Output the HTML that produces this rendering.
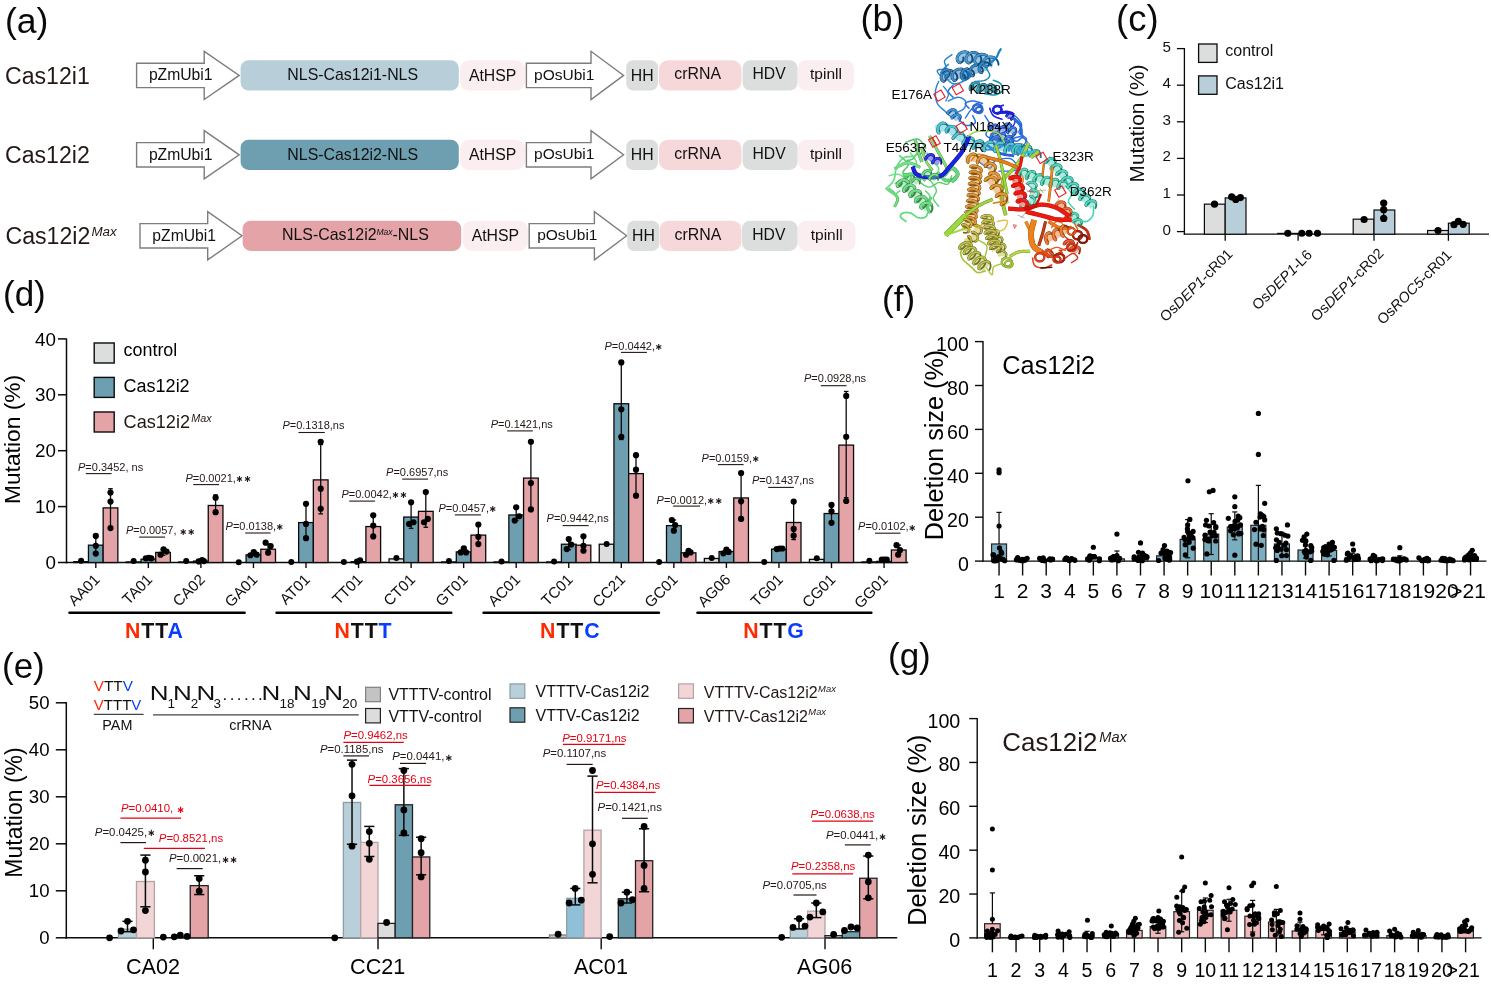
<!DOCTYPE html>
<html lang="en"><head><meta charset="utf-8"><title>Cas12i figure</title>
<style>
html,body{margin:0;padding:0;background:#fff;}
body{width:1491px;height:984px;overflow:hidden;}
svg{display:block;font-family:"Liberation Sans","DejaVu Sans",sans-serif;}
</style></head><body>
<svg width="1491" height="984" viewBox="0 0 1491 984">
<rect width="1491" height="984" fill="#fff"/>
<g id="labels">
<text x="5" y="33" font-size="35.5" fill="#0a0a0a" >(a)</text>
<text x="860.5" y="30.5" font-size="36" fill="#0a0a0a" >(b)</text>
<text x="1116" y="30.5" font-size="36.5" fill="#0a0a0a" >(c)</text>
<text x="3" y="306" font-size="35" fill="#0a0a0a" >(d)</text>
<text x="2" y="677.5" font-size="35" fill="#0a0a0a" >(e)</text>
<text x="882" y="311" font-size="35" fill="#0a0a0a" >(f)</text>
<text x="888" y="668" font-size="35" fill="#0a0a0a" >(g)</text>
</g>
<g id="panelA">
<text x="5" y="83.7" font-size="23.1" fill="#231815" >Cas12i1</text>
<polygon points="136.6,63.2 204.2,63.2 204.2,51.3 239.2,75.4 204.2,99.5 204.2,87.6 136.6,87.6" fill="#fff" stroke="#7d7d7d" stroke-width="1.4" stroke-linejoin="miter"/>
<text x="180.7" y="80.1" font-size="15.7" fill="#111" text-anchor="middle" >pZmUbi1</text>
<rect x="240.6" y="60.25" width="218.2" height="30.3" fill="#b8cfda" rx="8" />
<text x="352.7" y="80.2" font-size="15.9" fill="#111" text-anchor="middle" >NLS-Cas12i1-NLS</text>
<rect x="460" y="60.25" width="65.2" height="30.3" fill="#fbeef0" rx="9" />
<text x="492.6" y="80.7" font-size="15.8" fill="#111" text-anchor="middle" >AtHSP</text>
<polygon points="526.4,63.2 591,63.2 591,51.3 623.6,75.4 591,99.5 591,87.6 526.4,87.6" fill="#fff" stroke="#7d7d7d" stroke-width="1.4" stroke-linejoin="miter"/>
<text x="564.2" y="79.7" font-size="15.5" fill="#111" text-anchor="middle" >pOsUbi1</text>
<rect x="626.2" y="60.25" width="31.7" height="30.3" fill="#dcdedd" rx="7" />
<text x="642.25" y="80.7" font-size="15.8" fill="#111" text-anchor="middle" >HH</text>
<rect x="658.9" y="60.25" width="82.6" height="30.3" fill="#f6d8db" rx="9" />
<text x="697.6" y="79.1" font-size="15.9" fill="#111" text-anchor="middle" >crRNA</text>
<rect x="742.6" y="60.25" width="55" height="30.3" fill="#dcdedd" rx="8" />
<text x="769.1" y="79.2" font-size="15.7" fill="#111" text-anchor="middle" >HDV</text>
<rect x="798" y="60.25" width="56" height="30.3" fill="#fbeef0" rx="8" />
<text x="826" y="78.7" font-size="15.5" fill="#111" text-anchor="middle" >tpinll</text>
<text x="5" y="163.1" font-size="23.1" fill="#231815" >Cas12i2</text>
<polygon points="136.6,142.6 204.2,142.6 204.2,130.7 239.2,154.8 204.2,178.9 204.2,167 136.6,167" fill="#fff" stroke="#7d7d7d" stroke-width="1.4" stroke-linejoin="miter"/>
<text x="180.7" y="159.5" font-size="15.7" fill="#111" text-anchor="middle" >pZmUbi1</text>
<rect x="240.6" y="139.65" width="218.2" height="30.3" fill="#6e9fb1" rx="8" />
<text x="352.7" y="159.6" font-size="15.9" fill="#111" text-anchor="middle" >NLS-Cas12i2-NLS</text>
<rect x="460" y="139.65" width="65.2" height="30.3" fill="#fbeef0" rx="9" />
<text x="492.6" y="160.1" font-size="15.8" fill="#111" text-anchor="middle" >AtHSP</text>
<polygon points="526.4,142.6 591,142.6 591,130.7 623.6,154.8 591,178.9 591,167 526.4,167" fill="#fff" stroke="#7d7d7d" stroke-width="1.4" stroke-linejoin="miter"/>
<text x="564.2" y="159.1" font-size="15.5" fill="#111" text-anchor="middle" >pOsUbi1</text>
<rect x="626.2" y="139.65" width="31.7" height="30.3" fill="#dcdedd" rx="7" />
<text x="642.25" y="160.1" font-size="15.8" fill="#111" text-anchor="middle" >HH</text>
<rect x="658.9" y="139.65" width="82.6" height="30.3" fill="#f6d8db" rx="9" />
<text x="697.6" y="159.1" font-size="15.9" fill="#111" text-anchor="middle" >crRNA</text>
<rect x="742.6" y="139.65" width="55" height="30.3" fill="#dcdedd" rx="8" />
<text x="769.1" y="159.3" font-size="15.7" fill="#111" text-anchor="middle" >HDV</text>
<rect x="798" y="139.65" width="56" height="30.3" fill="#fbeef0" rx="8" />
<text x="826" y="158.7" font-size="15.5" fill="#111" text-anchor="middle" >tpinll</text>
<text x="5.5" y="244.1" font-size="23.1" fill="#231815">Cas12i2<tspan font-size="13.4" font-style="italic" dy="-8.0" dx="1.2">Max</tspan></text>
<polygon points="140,223.6 207.7,223.6 207.7,211.7 242,235.8 207.7,259.9 207.7,248 140,248" fill="#fff" stroke="#7d7d7d" stroke-width="1.4" stroke-linejoin="miter"/>
<text x="184.15" y="240.5" font-size="15.7" fill="#111" text-anchor="middle" >pZmUbi1</text>
<rect x="242.6" y="220.65" width="218.6" height="30.3" fill="#e4a3a6" rx="8" />
<text x="355.4" y="240.3" font-size="15.9" fill="#111" text-anchor="middle">NLS-Cas12i2<tspan font-size="8.5" font-style="italic" dy="-5">Max</tspan><tspan dy="5">-NLS</tspan></text>
<rect x="462.8" y="220.65" width="65.2" height="30.3" fill="#fbeef0" rx="9" />
<text x="495.4" y="241.1" font-size="15.8" fill="#111" text-anchor="middle" >AtHSP</text>
<polygon points="529.2,223.6 594.4,223.6 594.4,211.7 626.6,235.8 594.4,259.9 594.4,248 529.2,248" fill="#fff" stroke="#7d7d7d" stroke-width="1.4" stroke-linejoin="miter"/>
<text x="567.3" y="240.1" font-size="15.5" fill="#111" text-anchor="middle" >pOsUbi1</text>
<rect x="627.2" y="220.65" width="32" height="30.3" fill="#dcdedd" rx="7" />
<text x="643.4" y="241.1" font-size="15.8" fill="#111" text-anchor="middle" >HH</text>
<rect x="659.6" y="220.65" width="81.9" height="30.3" fill="#f6d8db" rx="9" />
<text x="697.95" y="240.1" font-size="15.9" fill="#111" text-anchor="middle" >crRNA</text>
<rect x="742" y="220.65" width="55.6" height="30.3" fill="#dcdedd" rx="8" />
<text x="768.8" y="240.3" font-size="15.7" fill="#111" text-anchor="middle" >HDV</text>
<rect x="798" y="220.65" width="57.4" height="30.3" fill="#fbeef0" rx="8" />
<text x="826.7" y="239.7" font-size="15.5" fill="#111" text-anchor="middle" >tpinll</text>
</g>
<g id="panelB" fill="none" stroke-linecap="round" stroke-linejoin="round">
<path d="M951.95 54.63 L951.33 55.1 L950.44 55.7 L949.37 56.42 L948.22 57.23 L947.07 58.09 L946.03 58.98 L945.19 59.87 L944.63 60.73 L944.44 61.62 L944.57 62.59 L944.89 63.6 L945.32 64.62 L945.74 65.61 L946.03 66.53 L946.11 67.36 L945.85 68.05 L945.17 68.56 L944.12 68.92 L942.83 69.16 L941.43 69.34 L940.05 69.52 L938.82 69.74 L937.87 70.04 L937.32 70.49 L937.22 71.12 L937.46 71.9 L937.96 72.77 L938.61 73.69 L939.34 74.58 L940.03 75.4 L940.61 76.09 L940.98 76.59" stroke="#1e80c8" stroke-width="1.35"/>
<path d="M938.54 81.46 L938.27 82.2 L937.87 83.16 L937.4 84.3 L936.9 85.58 L936.41 86.95 L935.98 88.38 L935.66 89.82 L935.49 91.22 L935.44 92.65 L935.44 94.18 L935.52 95.77 L935.68 97.39 L935.93 99 L936.27 100.57 L936.73 102.05 L937.32 103.41 L938.08 104.67 L939.04 105.86 L940.13 106.99 L941.32 108.06 L942.54 109.09 L943.73 110.07 L944.86 111.03 L945.85 111.95 L946.77 112.87 L947.69 113.79 L948.59 114.68 L949.44 115.53 L950.22 116.32 L950.91 117.01 L951.5 117.6 L951.95 118.05" stroke="#2c82d8" stroke-width="1.45"/>
<path d="M948.29 100.98 L949.06 100.64 L950.1 100.15 L951.34 99.55 L952.71 98.92 L954.14 98.31 L955.55 97.8 L956.88 97.45 L958.05 97.32 L959.14 97.4 L960.25 97.63 L961.35 97.99 L962.39 98.46 L963.35 99.01 L964.19 99.63 L964.88 100.29 L965.37 100.98 L965.67 101.73 L965.83 102.6 L965.86 103.56 L965.75 104.56 L965.51 105.57 L965.17 106.55 L964.71 107.47 L964.15 108.29 L963.37 109.05 L962.33 109.8 L961.11 110.51 L959.8 111.19 L958.51 111.81 L957.32 112.35 L956.32 112.81 L955.61 113.17" stroke="#2c82d8" stroke-width="1.45"/>
<path d="M943.41 86.34 L943.84 86.91 L944.46 87.66 L945.21 88.55 L946.01 89.54 L946.78 90.59 L947.47 91.66 L948 92.69 L948.29 93.66 L948.32 94.62 L948.14 95.66 L947.81 96.72 L947.38 97.77 L946.91 98.77 L946.46 99.66 L946.09 100.41 L945.85 100.98" stroke="#2c82d8" stroke-width="1.35"/>
<path d="M965.37 118.05 L965.73 117.48 L966.19 116.73 L966.73 115.84 L967.35 114.85 L968.02 113.8 L968.74 112.73 L969.48 111.7 L970.24 110.73 L971.09 109.77 L972.07 108.73 L973.13 107.67 L974.21 106.62 L975.25 105.62 L976.19 104.73 L976.98 103.98 L977.56 103.41" stroke="#2b6fe4" stroke-width="1.35"/>
<path d="M1001.95 113.17 L1002.81 113.21 L1003.98 113.19 L1005.37 113.16 L1006.91 113.17 L1008.51 113.25 L1010.1 113.46 L1011.6 113.82 L1012.93 114.39 L1014.19 115.21 L1015.49 116.26 L1016.79 117.48 L1018.03 118.81 L1019.17 120.2 L1020.16 121.59 L1020.94 122.93 L1021.46 124.15 L1021.62 125.29 L1021.4 126.42 L1020.92 127.54 L1020.32 128.64 L1019.71 129.71 L1019.21 130.75 L1018.94 131.74 L1019.02 132.68 L1019.55 133.55 L1020.42 134.35 L1021.54 135.09 L1022.76 135.81 L1023.97 136.51 L1025.06 137.23 L1025.89 137.98 L1026.34 138.78 L1026.44 139.66 L1026.31 140.61 L1025.99 141.6 L1025.5 142.59 L1024.89 143.57 L1024.2 144.5 L1023.45 145.35 L1022.68 146.1 L1021.79 146.75 L1020.69 147.36 L1019.46 147.9 L1018.19 148.38 L1016.94 148.81 L1015.79 149.18 L1014.84 149.5 L1014.15 149.76" stroke="#2b6fe4" stroke-width="1.45"/>
<path d="M1008.05 118.05 L1008.69 118.09 L1009.62 118.1 L1010.74 118.1 L1011.94 118.13 L1013.1 118.22 L1014.14 118.42 L1014.93 118.76 L1015.37 119.27 L1015.47 120.01 L1015.34 120.97 L1015.01 122.09 L1014.53 123.31 L1013.92 124.55 L1013.22 125.76 L1012.47 126.86 L1011.71 127.8 L1010.82 128.62 L1009.72 129.4 L1008.49 130.12 L1007.21 130.78 L1005.96 131.37 L1004.82 131.89 L1003.86 132.33 L1003.17 132.68" stroke="#1a22e6" stroke-width="1.45"/>
<path d="M984.88 115.61 L985.31 116.36 L985.95 117.36 L986.73 118.55 L987.55 119.88 L988.34 121.28 L989.02 122.7 L989.52 124.08 L989.76 125.37 L989.62 126.62 L989.13 127.92 L988.42 129.24 L987.62 130.55 L986.86 131.82 L986.27 133.03 L985.97 134.14 L986.1 135.12 L986.74 136 L987.82 136.8 L989.2 137.52 L990.75 138.17 L992.32 138.74 L993.79 139.24 L995.01 139.66 L995.85 140" stroke="#2b6fe4" stroke-width="1.45"/>
<path d="M979.05 162 L979.9 162.56 L981.07 163.42 L982.47 164.44 L984 165.52 L985.58 166.55 L987.12 167.39 L988.53 167.95 L989.71 168.1 L990.63 167.76 L991.35 167.01 L991.93 165.97 L992.48 164.76 L993.06 163.49 L993.75 162.27 L994.64 161.23 L995.81 160.48 L997.34 159.91 L999.19 159.38 L1001.26 158.92 L1003.43 158.57 L1005.6 158.36 L1007.67 158.33 L1009.52 158.52 L1011.05 158.95 L1012.41 159.76 L1013.79 160.98 L1015.07 162.46 L1016.19 164.1 L1017.04 165.75 L1017.55 167.31 L1017.61 168.64 L1017.14 169.62 L1015.9 170.26 L1013.86 170.68 L1011.27 170.93 L1008.38 171.05 L1005.45 171.08 L1002.71 171.08 L1000.43 171.09 L998.86 171.14" stroke="#2b6fe4" stroke-width="1.35"/>
<path d="M985.14 149.81 L986.21 149.74 L987.64 149.71 L989.35 149.68 L991.24 149.62 L993.22 149.48 L995.21 149.24 L997.12 148.85 L998.86 148.29 L1000.45 147.47 L1002.01 146.39 L1003.54 145.15 L1005.05 143.81 L1006.54 142.46 L1008.04 141.18 L1009.53 140.05 L1011.05 139.14 L1012.65 138.45 L1014.38 137.88 L1016.15 137.42 L1017.9 137.05 L1019.56 136.75 L1021.05 136.5 L1022.3 136.29 L1023.24 136.1" stroke="#2b6fe4" stroke-width="1.55"/>
<path d="M958.05 57.07 L959.14 57.13 L960.56 57.18 L962.23 57.23 L964.11 57.3 L966.13 57.38 L968.23 57.48 L970.37 57.62 L972.47 57.8 L974.48 58.02 L976.34 58.29 L978.18 58.65 L980.11 59.11 L982.09 59.64 L984.08 60.21 L986.02 60.81 L987.87 61.4 L989.59 61.95 L991.11 62.45 L992.4 62.86 L993.41 63.17" stroke="#1e80c8" stroke-width="9.52" opacity="0.45" stroke-linecap="butt"/>
<path d="M963.36 57.35 L963.41 59.49 L962.79 61.22 L961.59 62.39 L960.1 62.77 L958.67 62.3" stroke="#124f7c" stroke-width="1.9"/>
<path d="M965.04 51.73 L967.62 52.26 L969.86 53.56 L971.52 55.5 L972.38 57.69 L972.44 59.84 L971.76 61.62 L970.46 62.81 L968.97 63.14 L967.52 62.62" stroke="#124f7c" stroke-width="1.9"/>
<path d="M974.43 52.38 L976.97 53.09 L979.24 54.72 L980.67 56.77 L981.32 59.03 L981.02 61.4 L980.09 63.07 L978.72 64.03 L976.98 64.13 L975.65 63.37" stroke="#124f7c" stroke-width="1.9"/>
<path d="M984.2 54.42 L986.58 55.55 L988.44 57.35 L989.6 59.66 L989.9 61.99 L989.42 64.09 L988.33 65.65 L986.8 66.48 L985.27 66.45" stroke="#124f7c" stroke-width="1.9"/>
<path d="M992.97 57.17 L995.32 58.37 L997.13 60.22 L998.2 62.38 L998.51 64.72" stroke="#124f7c" stroke-width="1.9"/>
<path d="M960.1 62.77 L958.67 62.3 L957.55 61.05 L957.01 59.21 L957.24 57.07 L958.28 54.96 L960.06 53.2 L962.42 52.05 L965.04 51.73 L967.62 52.26" stroke="#0f4065" stroke-width="2.8"/>
<path d="M960.1 62.77 L958.67 62.3 L957.55 61.05 L957.01 59.21 L957.24 57.07 L958.28 54.96 L960.06 53.2 L962.42 52.05 L965.04 51.73 L967.62 52.26" stroke="#4b99d3" stroke-width="2"/>
<path d="M968.97 63.14 L967.52 62.62 L966.37 61.26 L965.94 59.4 L966.27 57.28 L967.42 55.22 L969.39 53.47 L971.8 52.52 L974.43 52.38 L976.97 53.09" stroke="#0f4065" stroke-width="2.8"/>
<path d="M968.97 63.14 L967.52 62.62 L966.37 61.26 L965.94 59.4 L966.27 57.28 L967.42 55.22 L969.39 53.47 L971.8 52.52 L974.43 52.38 L976.97 53.09" stroke="#4b99d3" stroke-width="2"/>
<path d="M976.98 64.13 L975.65 63.37 L974.8 61.92 L974.64 60.02 L975.33 57.84 L976.81 56.02 L978.94 54.7 L981.58 54.11 L984.2 54.42 L986.58 55.55" stroke="#0f4065" stroke-width="2.8"/>
<path d="M976.98 64.13 L975.65 63.37 L974.8 61.92 L974.64 60.02 L975.33 57.84 L976.81 56.02 L978.94 54.7 L981.58 54.11 L984.2 54.42 L986.58 55.55" stroke="#4b99d3" stroke-width="2"/>
<path d="M986.8 66.48 L985.27 66.45 L984 65.59 L983.24 64.06 L983.24 62.15 L984.05 60.16 L985.64 58.41 L987.84 57.22 L990.39 56.77 L992.97 57.17 L995.32 58.37" stroke="#0f4065" stroke-width="2.8"/>
<path d="M986.8 66.48 L985.27 66.45 L984 65.59 L983.24 64.06 L983.24 62.15 L984.05 60.16 L985.64 58.41 L987.84 57.22 L990.39 56.77 L992.97 57.17 L995.32 58.37" stroke="#4b99d3" stroke-width="2"/>
<path d="M989.76 63.17 L990.25 62.8 L990.92 62.32 L991.73 61.75 L992.61 61.11 L993.52 60.43 L994.4 59.71 L995.2 58.99 L995.85 58.29 L996.39 57.57 L996.86 56.78 L997.27 55.96 L997.64 55.13 L997.98 54.31 L998.3 53.53 L998.6 52.82 L998.9 52.2 L999.2 51.65 L999.49 51.15 L999.76 50.69 L1000.01 50.29 L1000.23 49.93 L1000.43 49.62 L1000.6 49.36 L1000.73 49.15" stroke="#1e80c8" stroke-width="2.2"/>
<path d="M940.98 75.98 L941.69 75.95 L942.6 75.92 L943.66 75.9 L944.86 75.86 L946.16 75.82 L947.53 75.77 L948.95 75.7 L950.38 75.61 L951.8 75.5 L953.17 75.37 L954.6 75.19 L956.18 74.96 L957.84 74.69 L959.55 74.4 L961.25 74.11 L962.89 73.81 L964.41 73.54 L965.78 73.29 L966.92 73.08 L967.8 72.93" stroke="#1a74b8" stroke-width="9.18" opacity="0.45" stroke-linecap="butt"/>
<path d="M946.1 75.77 L946.47 77.83 L946.06 79.64 L945.09 80.85 L943.82 81.29 L942.53 80.92" stroke="#104772" stroke-width="1.9"/>
<path d="M948.76 70.3 L951.42 70.55 L953.75 71.52 L955.67 73.13 L956.9 75.1 L957.38 77.02 L957.12 78.81 L956.37 79.99 L955.15 80.56 L953.92 80.33" stroke="#104772" stroke-width="1.9"/>
<path d="M958.89 69.04 L961.56 68.99 L964.07 69.74 L966.12 71.14 L967.53 72.98 L968.18 74.95 L968.06 76.75 L967.31 78.08 L966.11 78.72 L964.76 78.54" stroke="#104772" stroke-width="1.9"/>
<path d="M943.82 81.29 L942.53 80.92 L941.52 79.79 L941.03 78.05 L941.26 76.01 L942.24 73.9 L943.93 72.12 L946.21 70.84 L948.76 70.3 L951.42 70.55" stroke="#0d3a5d" stroke-width="2.8"/>
<path d="M943.82 81.29 L942.53 80.92 L941.52 79.79 L941.03 78.05 L941.26 76.01 L942.24 73.9 L943.93 72.12 L946.21 70.84 L948.76 70.3 L951.42 70.55" stroke="#478fc6" stroke-width="2"/>
<path d="M955.15 80.56 L953.92 80.33 L952.77 79.31 L952.12 77.69 L952.08 75.61 L952.81 73.4 L954.27 71.42 L956.39 69.88 L958.89 69.04 L961.56 68.99" stroke="#0d3a5d" stroke-width="2.8"/>
<path d="M955.15 80.56 L953.92 80.33 L952.77 79.31 L952.12 77.69 L952.08 75.61 L952.81 73.4 L954.27 71.42 L956.39 69.88 L958.89 69.04 L961.56 68.99" stroke="#478fc6" stroke-width="2"/>
<path d="M966.11 78.72 L964.76 78.54 L963.58 77.56 L962.82 75.89 L962.75 73.81" stroke="#0d3a5d" stroke-width="2.8"/>
<path d="M966.11 78.72 L964.76 78.54 L963.58 77.56 L962.82 75.89 L962.75 73.81" stroke="#478fc6" stroke-width="2"/>
<path d="M960.49 76.59 L961.29 76.21 L962.31 75.73 L963.53 75.15 L964.89 74.5 L966.36 73.8 L967.89 73.09 L969.46 72.37 L971 71.69 L972.5 71.05 L973.9 70.49 L975.3 69.97 L976.8 69.45 L978.35 68.94 L979.91 68.44 L981.45 67.97 L982.92 67.53 L984.28 67.13 L985.49 66.77 L986.52 66.47 L987.32 66.22" stroke="#1b78bf" stroke-width="7.82" opacity="0.45" stroke-linecap="butt"/>
<path d="M964.03 74.94 L965.05 76.41 L965.47 77.83 L965.29 79.02 L964.64 79.71 L963.68 79.78" stroke="#104a76" stroke-width="1.9"/>
<path d="M965.06 69.33 L967.11 68.77 L969.25 68.89 L971.19 69.65 L972.74 70.88 L973.75 72.4 L974.12 73.86 L973.92 75.05 L973.18 75.76 L972.22 75.79" stroke="#104a76" stroke-width="1.9"/>
<path d="M974.34 65.43 L976.44 65.08 L978.59 65.43 L980.44 66.4 L981.84 67.79 L982.67 69.42 L982.89 70.91 L982.55 72.07 L981.77 72.69 L980.81 72.61" stroke="#104a76" stroke-width="1.9"/>
<path d="M981.8 63.43 L983.72 62.5 L985.81 62.24 L987.89 62.66 L989.68 63.65 L991.05 65.07" stroke="#104a76" stroke-width="1.9"/>
<path d="M964.64 79.71 L963.68 79.78 L962.65 79.17 L961.78 77.93 L961.3 76.21 L961.35 74.22 L962.02 72.25 L963.3 70.54 L965.06 69.33 L967.11 68.77" stroke="#0d3c60" stroke-width="2.8"/>
<path d="M964.64 79.71 L963.68 79.78 L962.65 79.17 L961.78 77.93 L961.3 76.21 L961.35 74.22 L962.02 72.25 L963.3 70.54 L965.06 69.33 L967.11 68.77" stroke="#3688c6" stroke-width="2"/>
<path d="M973.18 75.76 L972.22 75.79 L971.21 75.13 L970.34 73.81 L969.97 72.07 L970.16 70 L971 68.1 L972.4 66.51 L974.34 65.43 L976.44 65.08" stroke="#0d3c60" stroke-width="2.8"/>
<path d="M973.18 75.76 L972.22 75.79 L971.21 75.13 L970.34 73.81 L969.97 72.07 L970.16 70 L971 68.1 L972.4 66.51 L974.34 65.43 L976.44 65.08" stroke="#3688c6" stroke-width="2"/>
<path d="M981.77 72.69 L980.81 72.61 L979.85 71.85 L979.19 70.49 L978.97 68.72 L979.33 66.76 L980.29 64.92 L981.8 63.43 L983.72 62.5" stroke="#0d3c60" stroke-width="2.8"/>
<path d="M981.77 72.69 L980.81 72.61 L979.85 71.85 L979.19 70.49 L978.97 68.72 L979.33 66.76 L980.29 64.92 L981.8 63.43 L983.72 62.5" stroke="#3688c6" stroke-width="2"/>
<path d="M970.24 85.12 L971.04 85.36 L972.07 85.69 L973.28 86.09 L974.64 86.53 L976.11 86.99 L977.65 87.45 L979.21 87.88 L980.76 88.26 L982.26 88.57 L983.66 88.78 L985.06 88.89 L986.56 88.92 L988.11 88.89 L989.67 88.81 L991.2 88.7 L992.67 88.58 L994.03 88.44 L995.25 88.32 L996.28 88.23 L997.07 88.17" stroke="#1e93ad" stroke-width="7.48" opacity="0.45" stroke-linecap="butt"/>
<path d="M973.2 86 L972.96 87.68 L972.3 89.03 L971.53 89.78 L970.74 89.88 L970.19 89.35" stroke="#125b6b" stroke-width="1.9"/>
<path d="M977.15 82.7 L978.59 83.49 L979.75 84.83 L980.45 86.53 L980.67 88.29 L980.47 89.98 L979.92 91.3 L979.17 92.09 L978.54 92.25 L977.95 91.76" stroke="#125b6b" stroke-width="1.9"/>
<path d="M984.07 84.39 L985.4 84.84 L986.81 85.91 L987.85 87.42 L988.45 88.96 L988.67 90.65 L988.46 92.08 L988.1 92.96 L987.41 93.31 L986.72 92.98" stroke="#125b6b" stroke-width="1.9"/>
<path d="M989.28 84.77 L990.85 84.32 L992.54 84.51 L994.1 85.33 L995.36 86.62 L996.24 88.23 L996.66 89.88 L996.63 91.31 L996.22 92.31 L995.56 92.71 L994.82 92.45" stroke="#125b6b" stroke-width="1.9"/>
<path d="M970.74 89.88 L970.19 89.35 L970 88.29 L970.28 86.88 L971.04 85.36 L972.25 83.98 L973.76 82.99 L975.46 82.52 L977.15 82.7 L978.59 83.49" stroke="#0f4a57" stroke-width="2.8"/>
<path d="M970.74 89.88 L970.19 89.35 L970 88.29 L970.28 86.88 L971.04 85.36 L972.25 83.98 L973.76 82.99 L975.46 82.52 L977.15 82.7 L978.59 83.49" stroke="#399fb6" stroke-width="2"/>
<path d="M978.54 92.25 L977.95 91.76 L977.68 90.71 L977.89 89.39 L978.48 87.79 L979.53 86.29 L980.76 85.2 L982.38 84.48 L984.07 84.39 L985.4 84.84" stroke="#0f4a57" stroke-width="2.8"/>
<path d="M978.54 92.25 L977.95 91.76 L977.68 90.71 L977.89 89.39 L978.48 87.79 L979.53 86.29 L980.76 85.2 L982.38 84.48 L984.07 84.39 L985.4 84.84" stroke="#399fb6" stroke-width="2"/>
<path d="M987.41 93.31 L986.72 92.98 L986.28 92.1 L986.03 90.68 L986.2 88.99 L986.81 87.33 L987.86 85.83 L989.28 84.77 L990.85 84.32" stroke="#0f4a57" stroke-width="2.8"/>
<path d="M987.41 93.31 L986.72 92.98 L986.28 92.1 L986.03 90.68 L986.2 88.99 L986.81 87.33 L987.86 85.83 L989.28 84.77 L990.85 84.32" stroke="#399fb6" stroke-width="2"/>
<path d="M995.56 92.71 L994.82 92.45 L994.22 91.54 L993.86 90.08 L994 88.38" stroke="#0f4a57" stroke-width="2.8"/>
<path d="M995.56 92.71 L994.82 92.45 L994.22 91.54 L993.86 90.08 L994 88.38" stroke="#399fb6" stroke-width="2"/>
<ellipse cx="977.56" cy="108.29" rx="4.6" ry="3.91" stroke="#1e4d9f" stroke-width="2.4" transform="rotate(0 977.56 108.29)"/>
<ellipse cx="977.56" cy="108.29" rx="4.6" ry="3.91" stroke="#2b6fe4" stroke-width="1.7" transform="rotate(0 977.56 108.29)"/>
<ellipse cx="979.02" cy="110.12" rx="3.6" ry="3.06" stroke="#1e4d9f" stroke-width="2" transform="rotate(0 979.02 110.12)"/>
<ellipse cx="979.02" cy="110.12" rx="3.6" ry="3.06" stroke="#2b6fe4" stroke-width="1.3" transform="rotate(0 979.02 110.12)"/>
<ellipse cx="997.32" cy="109.76" rx="4.2" ry="3.78" stroke="#1217a1" stroke-width="2.5" transform="rotate(0 997.32 109.76)"/>
<ellipse cx="997.32" cy="109.76" rx="4.2" ry="3.78" stroke="#1a22e6" stroke-width="1.8" transform="rotate(0 997.32 109.76)"/>
<path d="M1000.12 106.46 L1003.17 105.24" stroke="#1a22e6" stroke-width="1.8"/>
<path d="M949.51 109.51 L949.94 110 L950.37 110.49 L950.79 110.98 L951.22 111.46 L951.65 111.95 L952.07 112.44 L952.5 112.93 L952.93 113.41 L953.35 113.9 L953.78 114.39 L954.21 114.88 L954.63 115.37 L955.06 115.85 L955.49 116.34 L955.91 116.83 L956.34 117.32 L956.77 117.8 L957.2 118.29 L957.62 118.78 L958.05 119.27" stroke="#2a86d2" stroke-width="6.46" opacity="0.45" stroke-linecap="butt"/>
<path d="M950.89 111.09 L949.96 112.23 L949 113 L948.2 113.34 L947.72 113.23 L947.68 112.75" stroke="#1a5382" stroke-width="1.9"/>
<path d="M955.57 110.67 L956.15 111.77 L956.24 113.12 L955.88 114.58 L955.16 115.96 L954.22 117.11 L953.27 117.88 L952.47 118.22 L951.99 118.11 L951.95 117.62" stroke="#1a5382" stroke-width="1.9"/>
<path d="M959.84 115.55 L960.42 116.64 L960.51 118 L960.15 119.46 L959.43 120.84" stroke="#1a5382" stroke-width="1.9"/>
<path d="M947.72 113.23 L947.68 112.75 L948.12 112 L949.01 111.15 L950.27 110.38 L951.74 109.85 L953.23 109.68 L954.56 109.95 L955.57 110.67 L956.15 111.77" stroke="#15436a" stroke-width="2.8"/>
<path d="M947.72 113.23 L947.68 112.75 L948.12 112 L949.01 111.15 L950.27 110.38 L951.74 109.85 L953.23 109.68 L954.56 109.95 L955.57 110.67 L956.15 111.77" stroke="#4394d7" stroke-width="2"/>
<path d="M951.99 118.11 L951.95 117.62 L952.39 116.88 L953.28 116.03 L954.54 115.26 L956 114.72 L957.5 114.56 L958.83 114.83 L959.84 115.55 L960.42 116.64" stroke="#15436a" stroke-width="2.8"/>
<path d="M951.99 118.11 L951.95 117.62 L952.39 116.88 L953.28 116.03 L954.54 115.26 L956 114.72 L957.5 114.56 L958.83 114.83 L959.84 115.55 L960.42 116.64" stroke="#4394d7" stroke-width="2"/>
<path d="M989.76 136.34 L990.48 136.4 L991.41 136.45 L992.52 136.5 L993.76 136.57 L995.09 136.65 L996.49 136.75 L997.91 136.89 L999.32 137.06 L1000.68 137.29 L1001.95 137.56 L1003.23 137.92 L1004.59 138.38 L1005.99 138.91 L1007.41 139.48 L1008.81 140.08 L1010.15 140.66 L1011.38 141.22 L1012.49 141.72 L1013.42 142.13 L1014.15 142.44" stroke="#2b6fe4" stroke-width="7.14" opacity="0.45" stroke-linecap="butt"/>
<path d="M992.06 136.52 L992.21 138.14 L992.13 139.46 L991.78 140.36 L991.36 140.65 L990.95 140.31" stroke="#1a448d" stroke-width="1.71"/>
<path d="M995.51 132.47 L996.82 132.88 L997.95 133.88 L998.83 135.36 L999.3 137.02 L999.43 138.65 L999.25 140 L998.76 140.9 L998.29 141.17 L997.9 140.8" stroke="#1a448d" stroke-width="1.71"/>
<path d="M1003.52 133.64 L1004.72 134.31 L1005.74 135.64 L1006.21 137.23 L1006.3 138.96 L1006.05 140.57 L1005.45 141.88 L1004.85 142.62 L1004.34 142.77 L1003.96 142.27" stroke="#1a448d" stroke-width="1.71"/>
<path d="M1009.45 136.13 L1010.86 136.39 L1011.95 137.22 L1012.69 138.54 L1013.02 140.19 L1012.93 141.91 L1012.53 143.49 L1011.92 144.72 L1011.28 145.43 L1010.75 145.54 L1010.51 145.08" stroke="#1a448d" stroke-width="1.71"/>
<path d="M991.36 140.65 L990.95 140.31 L990.7 139.39 L990.71 138.02 L991.07 136.43 L991.8 134.84 L992.84 133.54 L994.09 132.7 L995.51 132.47 L996.82 132.88" stroke="#153873" stroke-width="2.6"/>
<path d="M991.36 140.65 L990.95 140.31 L990.7 139.39 L990.71 138.02 L991.07 136.43 L991.8 134.84 L992.84 133.54 L994.09 132.7 L995.51 132.47 L996.82 132.88" stroke="#4480e7" stroke-width="1.8"/>
<path d="M998.29 141.17 L997.9 140.8 L997.62 139.8 L997.79 138.44 L998.32 136.9 L999.3 135.34 L1000.52 134.21 L1001.89 133.58 L1003.52 133.64 L1004.72 134.31" stroke="#153873" stroke-width="2.6"/>
<path d="M998.29 141.17 L997.9 140.8 L997.62 139.8 L997.79 138.44 L998.32 136.9 L999.3 135.34 L1000.52 134.21 L1001.89 133.58 L1003.52 133.64 L1004.72 134.31" stroke="#4480e7" stroke-width="1.8"/>
<path d="M1004.34 142.77 L1003.96 142.27 L1004.03 141.32 L1004.5 140.04 L1005.37 138.61 L1006.58 137.38 L1007.99 136.5 L1009.45 136.13 L1010.86 136.39" stroke="#153873" stroke-width="2.6"/>
<path d="M1004.34 142.77 L1003.96 142.27 L1004.03 141.32 L1004.5 140.04 L1005.37 138.61 L1006.58 137.38 L1007.99 136.5 L1009.45 136.13 L1010.86 136.39" stroke="#4480e7" stroke-width="1.8"/>
<path d="M1010.75 145.54 L1010.51 145.08 L1010.61 144.13 L1011.14 142.91 L1012.02 141.54" stroke="#153873" stroke-width="2.6"/>
<path d="M1010.75 145.54 L1010.51 145.08 L1010.61 144.13 L1011.14 142.91 L1012.02 141.54" stroke="#4480e7" stroke-width="1.8"/>
<path d="M1004.39 124.15 L1005 124.63 L1005.61 125.12 L1006.22 125.61 L1006.83 126.1 L1007.44 126.59 L1008.05 127.07 L1008.66 127.56 L1009.27 128.05 L1009.88 128.54 L1010.49 129.02 L1011.1 129.51 L1011.71 130 L1012.32 130.49 L1012.93 130.98 L1013.54 131.46 L1014.15 131.95 L1014.76 132.44 L1015.37 132.93 L1015.98 133.41 L1016.59 133.9" stroke="#2b6fe4" stroke-width="6.12" opacity="0.45" stroke-linecap="butt"/>
<path d="M1005.94 125.38 L1005.26 126.61 L1004.5 127.5 L1003.82 127.95 L1003.36 127.93 L1003.25 127.49" stroke="#1a448d" stroke-width="1.52"/>
<path d="M1010.3 124.26 L1011.02 125.19 L1011.34 126.45 L1011.25 127.87 L1010.81 129.29 L1010.14 130.51 L1009.38 131.4 L1008.7 131.85 L1008.24 131.84 L1008.12 131.39" stroke="#1a448d" stroke-width="1.52"/>
<path d="M1015.18 128.16 L1015.9 129.1 L1016.22 130.35 L1016.13 131.77 L1015.69 133.19 L1015.02 134.41 L1014.26 135.3 L1013.57 135.75 L1013.12 135.74 L1013 135.29" stroke="#1a448d" stroke-width="1.52"/>
<path d="M1003.36 127.93 L1003.25 127.49 L1003.54 126.72 L1004.24 125.79 L1005.28 124.86 L1006.57 124.12 L1007.94 123.72 L1009.23 123.76 L1010.3 124.26 L1011.02 125.19" stroke="#153873" stroke-width="2.4"/>
<path d="M1003.36 127.93 L1003.25 127.49 L1003.54 126.72 L1004.24 125.79 L1005.28 124.86 L1006.57 124.12 L1007.94 123.72 L1009.23 123.76 L1010.3 124.26 L1011.02 125.19" stroke="#4480e7" stroke-width="1.6"/>
<path d="M1008.24 131.84 L1008.12 131.39 L1008.41 130.63 L1009.11 129.69 L1010.16 128.76 L1011.44 128.03 L1012.81 127.63 L1014.11 127.66 L1015.18 128.16 L1015.9 129.1" stroke="#153873" stroke-width="2.4"/>
<path d="M1008.24 131.84 L1008.12 131.39 L1008.41 130.63 L1009.11 129.69 L1010.16 128.76 L1011.44 128.03 L1012.81 127.63 L1014.11 127.66 L1015.18 128.16 L1015.9 129.1" stroke="#4480e7" stroke-width="1.6"/>
<path d="M1013.12 135.74 L1013 135.29 L1013.29 134.53 L1013.99 133.59 L1015.04 132.67" stroke="#153873" stroke-width="2.4"/>
<path d="M1013.12 135.74 L1013 135.29 L1013.29 134.53 L1013.99 133.59 L1015.04 132.67" stroke="#4480e7" stroke-width="1.6"/>
<path d="M989.71 137.62 L991.01 138.17 L992.71 138.89 L994.74 139.74 L997 140.69 L999.43 141.71 L1001.93 142.78 L1004.42 143.84 L1006.83 144.88 L1009.07 145.87 L1011.05 146.76 L1012.89 147.62 L1014.73 148.51 L1016.55 149.4 L1018.31 150.28 L1020 151.14 L1021.58 151.96 L1023.03 152.7 L1024.31 153.37 L1025.41 153.93 L1026.29 154.38" stroke="#2b6fe4" stroke-width="6.8" opacity="0.45" stroke-linecap="butt"/>
<path d="M991.74 138.48 L991.57 140.07 L991.2 141.32 L990.79 142.09 L990.48 142.29 L990.4 141.92" stroke="#1a448d" stroke-width="1.61"/>
<path d="M998.22 136.86 L999.46 137.72 L1000.36 139.04 L1000.87 140.66 L1001.01 142.38 L1000.84 143.98 L1000.47 145.23 L1000.05 145.99 L999.74 146.19 L999.66 145.83" stroke="#1a448d" stroke-width="1.61"/>
<path d="M1007.51 140.82 L1008.74 141.69 L1009.64 143.03 L1010.13 144.67 L1010.24 146.39 L1010.05 147.97 L1009.64 149.23 L1009.2 149.98 L1008.88 150.17 L1008.78 149.78" stroke="#1a448d" stroke-width="1.61"/>
<path d="M1016.84 145.09 L1018.03 146.01 L1018.85 147.38 L1019.27 149.05 L1019.3 150.78 L1019.02 152.35 L1018.56 153.58 L1018.09 154.32 L1017.76 154.49" stroke="#1a448d" stroke-width="1.61"/>
<path d="M1025.89 149.68 L1027.05 150.62 L1027.84 152.01 L1028.23 153.65 L1028.25 155.38" stroke="#1a448d" stroke-width="1.61"/>
<path d="M990.48 142.29 L990.4 141.92 L990.66 141.09 L991.3 139.95 L992.32 138.72 L993.65 137.62 L995.17 136.85 L996.75 136.57 L998.22 136.86 L999.46 137.72" stroke="#153873" stroke-width="2.5"/>
<path d="M990.48 142.29 L990.4 141.92 L990.66 141.09 L991.3 139.95 L992.32 138.72 L993.65 137.62 L995.17 136.85 L996.75 136.57 L998.22 136.86 L999.46 137.72" stroke="#4480e7" stroke-width="1.7"/>
<path d="M999.74 146.19 L999.66 145.83 L999.92 144.99 L1000.57 143.86 L1001.59 142.63 L1002.93 141.54 L1004.47 140.78 L1006.04 140.52 L1007.51 140.82 L1008.74 141.69" stroke="#153873" stroke-width="2.5"/>
<path d="M999.74 146.19 L999.66 145.83 L999.92 144.99 L1000.57 143.86 L1001.59 142.63 L1002.93 141.54 L1004.47 140.78 L1006.04 140.52 L1007.51 140.82 L1008.74 141.69" stroke="#4480e7" stroke-width="1.7"/>
<path d="M1008.88 150.17 L1008.78 149.78 L1009.06 148.96 L1009.75 147.85 L1010.82 146.65 L1012.21 145.6 L1013.77 144.9 L1015.35 144.7 L1016.84 145.09 L1018.03 146.01" stroke="#153873" stroke-width="2.5"/>
<path d="M1008.88 150.17 L1008.78 149.78 L1009.06 148.96 L1009.75 147.85 L1010.82 146.65 L1012.21 145.6 L1013.77 144.9 L1015.35 144.7 L1016.84 145.09 L1018.03 146.01" stroke="#4480e7" stroke-width="1.7"/>
<path d="M1018.09 154.32 L1017.76 154.49 L1017.7 154.11 L1018.02 153.3 L1018.75 152.22 L1019.86 151.06 L1021.27 150.07 L1022.85 149.43 L1024.44 149.27 L1025.89 149.68 L1027.05 150.62" stroke="#153873" stroke-width="2.5"/>
<path d="M1018.09 154.32 L1017.76 154.49 L1017.7 154.11 L1018.02 153.3 L1018.75 152.22 L1019.86 151.06 L1021.27 150.07 L1022.85 149.43 L1024.44 149.27 L1025.89 149.68 L1027.05 150.62" stroke="#4480e7" stroke-width="1.7"/>
<path d="M899.81 155.9 L900.55 156.55 L901.64 157.41 L902.94 158.43 L904.33 159.57 L905.68 160.77 L906.86 161.99 L907.74 163.18 L908.19 164.29 L908.09 165.36 L907.5 166.49 L906.59 167.63 L905.52 168.76 L904.46 169.86 L903.55 170.89 L902.96 171.84 L902.86 172.67 L903.33 173.34 L904.27 173.87 L905.53 174.3 L906.95 174.67 L908.39 175.03 L909.68 175.42 L910.68 175.89 L911.24 176.48 L911.32 177.23 L911.05 178.14 L910.53 179.13 L909.86 180.14 L909.11 181.13 L908.4 182.03 L907.81 182.78 L907.43 183.33" stroke="#58d070" stroke-width="1.65"/>
<path d="M889.14 175.71 L889.86 175.56 L890.82 175.3 L891.97 174.99 L893.24 174.67 L894.57 174.38 L895.89 174.18 L897.15 174.1 L898.29 174.19 L899.36 174.5 L900.48 175.01 L901.59 175.66 L902.67 176.38 L903.67 177.11 L904.57 177.8 L905.33 178.37 L905.9 178.76" stroke="#6ee488" stroke-width="1.4"/>
<path d="M918.1 181.05 L918.92 181.59 L920.03 182.39 L921.35 183.36 L922.81 184.38 L924.35 185.37 L925.9 186.23 L927.39 186.85 L928.76 187.14 L930.04 187.04 L931.31 186.61 L932.57 185.94 L933.81 185.14 L935.04 184.31 L936.26 183.54 L937.47 182.92 L938.67 182.57 L939.88 182.54 L941.13 182.76 L942.39 183.13 L943.62 183.57 L944.81 183.98 L945.92 184.27 L946.93 184.34 L947.81 184.1 L948.57 183.46 L949.23 182.5 L949.8 181.31 L950.29 180 L950.7 178.68 L951.06 177.45 L951.36 176.43 L951.62 175.71" stroke="#58d070" stroke-width="1.4"/>
<path d="M910.48 152.86 L911.01 153.64 L911.8 154.69 L912.75 155.95 L913.76 157.33 L914.74 158.78 L915.6 160.21 L916.24 161.57 L916.57 162.76 L916.5 163.84 L916.07 164.88 L915.4 165.89 L914.62 166.86 L913.84 167.79 L913.2 168.69 L912.8 169.55 L912.76 170.38 L913.16 171.19 L913.89 172 L914.85 172.78 L915.95 173.52 L917.08 174.21 L918.14 174.81 L919.02 175.32 L919.62 175.71" stroke="#70e080" stroke-width="1.6"/>
<path d="M930.29 160.48 L931.02 161.06 L932.08 161.85 L933.35 162.78 L934.71 163.81 L936.05 164.9 L937.23 166.01 L938.15 167.09 L938.67 168.1 L938.75 169.1 L938.48 170.18 L937.96 171.29 L937.29 172.38 L936.54 173.42 L935.83 174.35 L935.23 175.13 L934.86 175.71" stroke="#6adc78" stroke-width="1.4"/>
<path d="M907.43 160.48 L907.85 160.38 L908.42 160.27 L909.1 160.15 L909.86 160 L910.64 159.81 L911.41 159.58 L912.13 159.3 L912.76 158.95 L913.27 158.51 L913.7 157.95 L914.07 157.33 L914.43 156.67 L914.82 156.01 L915.28 155.38 L915.85 154.83 L916.57 154.38 L917.52 154.03 L918.7 153.75 L920.01 153.52 L921.38 153.33 L922.72 153.18 L923.95 153.06 L924.97 152.95 L925.71 152.86" stroke="#4cc46c" stroke-width="1.55"/>
<path d="M906.67 174.19 L907.24 174.61 L907.81 175.03 L908.38 175.45 L908.95 175.87 L909.52 176.29 L910.1 176.7 L910.67 177.12 L911.24 177.54 L911.81 177.96 L912.38 178.38 L912.95 178.8 L913.52 179.22 L914.1 179.64 L914.67 180.06 L915.24 180.48 L915.81 180.9 L916.38 181.31 L916.95 181.73 L917.52 182.15 L918.1 182.57" stroke="#56d474" stroke-width="5.78" opacity="0.45" stroke-linecap="butt"/>
<path d="M908.17 175.3 L907.65 176.52 L907.03 177.43 L906.46 177.93 L906.08 177.98 L906.02 177.61" stroke="#358347" stroke-width="1.71"/>
<path d="M912.96 174.59 L913.74 175.49 L914.15 176.7 L914.19 178.09 L913.89 179.49 L913.36 180.71 L912.74 181.63 L912.17 182.12 L911.8 182.17 L911.73 181.8" stroke="#358347" stroke-width="1.71"/>
<path d="M918.68 178.78 L919.46 179.68 L919.87 180.89 L919.9 182.28 L919.6 183.68" stroke="#358347" stroke-width="1.71"/>
<path d="M906.08 177.98 L906.02 177.61 L906.32 176.92 L907 176.05 L908.02 175.18 L909.26 174.48 L910.59 174.09 L911.88 174.12 L912.96 174.59 L913.74 175.49" stroke="#2b6b3a" stroke-width="2.6"/>
<path d="M906.08 177.98 L906.02 177.61 L906.32 176.92 L907 176.05 L908.02 175.18 L909.26 174.48 L910.59 174.09 L911.88 174.12 L912.96 174.59 L913.74 175.49" stroke="#6ad984" stroke-width="1.8"/>
<path d="M911.8 182.17 L911.73 181.8 L912.04 181.11 L912.72 180.24 L913.73 179.37 L914.97 178.67 L916.31 178.28 L917.59 178.31 L918.68 178.78 L919.46 179.68" stroke="#2b6b3a" stroke-width="2.6"/>
<path d="M911.8 182.17 L911.73 181.8 L912.04 181.11 L912.72 180.24 L913.73 179.37 L914.97 178.67 L916.31 178.28 L917.59 178.31 L918.68 178.78 L919.46 179.68" stroke="#6ad984" stroke-width="1.8"/>
<path d="M921.14 146.76 L921.48 147.85 L921.91 149.32 L922.42 151.07 L923 153 L923.63 155.01 L924.3 156.99 L925 158.85 L925.71 160.48 L926.51 161.96 L927.43 163.45 L928.42 164.9 L929.43 166.29 L930.4 167.56 L931.29 168.69 L932.03 169.64 L932.57 170.38" stroke="#5b944b" stroke-width="2.7" stroke-linecap="butt"/>
<path d="M921.14 146.76 L921.48 147.85 L921.91 149.32 L922.42 151.07 L923 153 L923.63 155.01 L924.3 156.99 L925 158.85 L925.71 160.48 L926.51 161.96 L927.43 163.45 L928.42 164.9 L929.43 166.29 L930.4 167.56 L931.29 168.69 L932.03 169.64 L932.57 170.38" stroke="#8ce474" stroke-width="1.8" stroke-linecap="butt"/>
<path d="M895.24 183.33 L895.84 183.04 L896.64 182.57 L897.6 182.01 L898.67 181.43 L899.78 180.89 L900.88 180.48 L901.93 180.25 L902.86 180.29 L903.73 180.65 L904.63 181.31 L905.52 182.17 L906.38 183.14 L907.18 184.14 L907.89 185.07 L908.49 185.85 L908.95 186.38" stroke="#62dc7c" stroke-width="1.6"/>
<path d="M930.29 180.29 L930.82 181.06 L931.6 182.1 L932.53 183.34 L933.52 184.71 L934.5 186.15 L935.36 187.59 L936.01 188.96 L936.38 190.19 L936.38 191.32 L936.07 192.41 L935.54 193.48 L934.9 194.52 L934.26 195.55 L933.72 196.57 L933.38 197.57 L933.33 198.57 L933.64 199.61 L934.2 200.71 L934.95 201.82 L935.81 202.9 L936.69 203.92 L937.51 204.84 L938.2 205.61 L938.67 206.19" stroke="#5ad472" stroke-width="1.45"/>
<path d="M948.29 64.39 L947.85 64.84 L947.19 65.4 L946.39 66.07 L945.55 66.83 L944.74 67.67 L944.06 68.56 L943.59 69.51 L943.41 70.49 L943.54 71.57 L943.89 72.81 L944.42 74.15 L945.09 75.52 L945.86 76.87 L946.67 78.15 L947.5 79.29 L948.29 80.24 L949.07 81.04 L949.89 81.76 L950.75 82.38 L951.65 82.91 L952.58 83.33 L953.55 83.65 L954.56 83.84 L955.61 83.9 L956.78 83.77 L958.11 83.42 L959.52 82.91 L960.95 82.3 L962.31 81.67 L963.56 81.07 L964.6 80.58 L965.37 80.24" stroke="#2a8cd8" stroke-width="1.65"/>
<path d="M953.17 85.12 L952.73 85.59 L952.07 86.22 L951.27 86.96 L950.43 87.79 L949.62 88.66 L948.94 89.55 L948.47 90.42 L948.29 91.22 L948.47 92.02 L948.94 92.89 L949.62 93.77 L950.43 94.65 L951.27 95.48 L952.07 96.22 L952.73 96.85 L953.17 97.32" stroke="#1e80c8" stroke-width="1.55"/>
<path d="M965.37 80.24 L965.79 79.97 L966.41 79.62 L967.16 79.19 L967.96 78.72 L968.74 78.21 L969.42 77.67 L969.95 77.13 L970.24 76.59 L970.27 76 L970.09 75.34 L969.76 74.63 L969.33 73.92 L968.86 73.23 L968.41 72.61 L968.04 72.09 L967.8 71.71" stroke="#1a6cae" stroke-width="1.6"/>
<path d="M986.1 68.05 L986.44 68.63 L986.96 69.42 L987.58 70.36 L988.23 71.4 L988.85 72.48 L989.36 73.54 L989.68 74.52 L989.76 75.37 L989.59 76.12 L989.25 76.84 L988.77 77.53 L988.16 78.19 L987.44 78.79 L986.64 79.34 L985.78 79.83 L984.88 80.24 L983.83 80.58 L982.55 80.83 L981.15 81.02 L979.7 81.16 L978.28 81.26 L976.99 81.33 L975.91 81.39 L975.12 81.46" stroke="#1c86b8" stroke-width="1.4"/>
<path d="M993.41 80.24 L994.02 80.5 L994.87 80.82 L995.89 81.19 L997 81.62 L998.11 82.1 L999.16 82.64 L1000.06 83.25 L1000.73 83.9 L1001.23 84.67 L1001.67 85.56 L1002.01 86.54 L1002.26 87.56 L1002.39 88.58 L1002.39 89.56 L1002.25 90.45 L1001.95 91.22 L1001.46 91.89 L1000.78 92.51 L999.94 93.07 L998.98 93.58 L997.93 94.02 L996.83 94.39 L995.72 94.68 L994.63 94.88 L993.46 94.95 L992.14 94.89 L990.73 94.72 L989.3 94.5 L987.93 94.24 L986.69 93.99 L985.65 93.79 L984.88 93.66" stroke="#1e93ad" stroke-width="1.65"/>
<path d="M943.41 69.27 L943.72 69.63 L944.02 70 L944.33 70.37 L944.63 70.73 L944.94 71.1 L945.24 71.46 L945.55 71.83 L945.85 72.2 L946.16 72.56 L946.46 72.93 L946.77 73.29 L947.07 73.66 L947.38 74.02 L947.68 74.39 L947.99 74.76 L948.29 75.12 L948.6 75.49 L948.9 75.85 L949.21 76.22 L949.51 76.59" stroke="#1c78c0" stroke-width="6.12" opacity="0.45" stroke-linecap="butt"/>
<path d="M944.68 70.79 L943.78 71.86 L942.86 72.58 L942.11 72.89 L941.67 72.79 L941.64 72.34" stroke="#114a77" stroke-width="1.71"/>
<path d="M949.23 70.62 L949.76 71.68 L949.82 72.98 L949.46 74.36 L948.75 75.67 L947.85 76.74 L946.93 77.46 L946.17 77.77 L945.73 77.67 L945.71 77.22" stroke="#114a77" stroke-width="1.71"/>
<path d="M941.67 72.79 L941.64 72.34 L942.09 71.65 L942.96 70.88 L944.18 70.19 L945.59 69.72 L947.01 69.61 L948.28 69.91 L949.23 70.62 L949.76 71.68" stroke="#0e3c61" stroke-width="2.6"/>
<path d="M941.67 72.79 L941.64 72.34 L942.09 71.65 L942.96 70.88 L944.18 70.19 L945.59 69.72 L947.01 69.61 L948.28 69.91 L949.23 70.62 L949.76 71.68" stroke="#3788c7" stroke-width="1.8"/>
<path d="M945.73 77.67 L945.71 77.22 L946.15 76.53 L947.03 75.76 L948.24 75.06" stroke="#0e3c61" stroke-width="2.6"/>
<path d="M945.73 77.67 L945.71 77.22 L946.15 76.53 L947.03 75.76 L948.24 75.06" stroke="#3788c7" stroke-width="1.8"/>
<path d="M958.05 118.05 L958.6 118.68 L959.31 119.59 L960.15 120.69 L961.1 121.86 L962.12 123.01 L963.19 124.05 L964.28 124.87 L965.37 125.37 L966.55 125.56 L967.92 125.56 L969.38 125.38 L970.85 125.06 L972.25 124.63 L973.48 124.11 L974.47 123.53 L975.12 122.93 L975.38 122.2 L975.31 121.27 L974.99 120.22 L974.51 119.12 L973.95 118.03 L973.41 117.04 L972.95 116.21 L972.68 115.61" stroke="#2c78e0" stroke-width="1.55"/>
<path d="M969.02 108.29 L968.67 107.9 L968.11 107.36 L967.44 106.71 L966.74 106.01 L966.09 105.28 L965.59 104.58 L965.32 103.94 L965.37 103.41 L965.74 102.96 L966.37 102.52 L967.2 102.11 L968.19 101.74 L969.28 101.43 L970.42 101.19 L971.58 101.03 L972.68 100.98 L973.85 101.06 L975.18 101.3 L976.59 101.64 L978.02 102.04 L979.39 102.46 L980.63 102.86 L981.67 103.19 L982.44 103.41" stroke="#2b6fe4" stroke-width="1.55"/>
<path d="M989.76 108.29 L990.01 108.88 L990.3 109.69 L990.65 110.66 L991.05 111.72 L991.52 112.81 L992.07 113.87 L992.7 114.82 L993.41 115.61 L994.31 116.27 L995.41 116.87 L996.63 117.41 L997.91 117.9 L999.16 118.33 L1000.3 118.7 L1001.26 119.01 L1001.95 119.27" stroke="#1a22e6" stroke-width="1.65"/>
<path d="M1009.27 137.56 L1009.84 137.89 L1010.61 138.39 L1011.53 138.99 L1012.55 139.62 L1013.61 140.22 L1014.67 140.73 L1015.68 141.09 L1016.59 141.22 L1017.41 141.05 L1018.22 140.62 L1019.01 140.01 L1019.79 139.31 L1020.54 138.63 L1021.27 138.05 L1021.99 137.66 L1022.68 137.56 L1023.38 137.8 L1024.1 138.29 L1024.82 138.98 L1025.5 139.77 L1026.14 140.59 L1026.71 141.36 L1027.19 142 L1027.56 142.44" stroke="#2b6fe4" stroke-width="1.65"/>
<path d="M1006.83 113.17 L1007.2 113.41 L1007.56 113.66 L1007.93 113.9 L1008.29 114.15 L1008.66 114.39 L1009.02 114.63 L1009.39 114.88 L1009.76 115.12 L1010.12 115.37 L1010.49 115.61 L1010.85 115.85 L1011.22 116.1 L1011.59 116.34 L1011.95 116.59 L1012.32 116.83 L1012.68 117.07 L1013.05 117.32 L1013.41 117.56 L1013.78 117.8 L1014.15 118.05" stroke="#1a22e6" stroke-width="4.76" opacity="0.45" stroke-linecap="butt"/>
<path d="M1008.11 114.02 L1007.72 115.05 L1007.25 115.83 L1006.8 116.26 L1006.5 116.31 L1006.43 116.01" stroke="#10158e" stroke-width="1.42"/>
<path d="M1012.04 113.28 L1012.72 113.99 L1013.1 114.97 L1013.18 116.12 L1012.99 117.28 L1012.6 118.31 L1012.12 119.08 L1011.68 119.51 L1011.37 119.57 L1011.31 119.26" stroke="#10158e" stroke-width="1.42"/>
<path d="M1006.5 116.31 L1006.43 116.01 L1006.65 115.43 L1007.19 114.7 L1007.99 113.94 L1008.98 113.32 L1010.07 112.95 L1011.13 112.93 L1012.04 113.28 L1012.72 113.99" stroke="#0d1174" stroke-width="2.3"/>
<path d="M1006.5 116.31 L1006.43 116.01 L1006.65 115.43 L1007.19 114.7 L1007.99 113.94 L1008.98 113.32 L1010.07 112.95 L1011.13 112.93 L1012.04 113.28 L1012.72 113.99" stroke="#353ce9" stroke-width="1.5"/>
<path d="M1011.37 119.57 L1011.31 119.26 L1011.53 118.69 L1012.06 117.95 L1012.86 117.19" stroke="#0d1174" stroke-width="2.3"/>
<path d="M1011.37 119.57 L1011.31 119.26 L1011.53 118.69 L1012.06 117.95 L1012.86 117.19" stroke="#353ce9" stroke-width="1.5"/>
<path d="M971.43 160.48 L971.88 159.95 L972.45 159.2 L973.13 158.3 L973.9 157.33 L974.75 156.38 L975.64 155.51 L976.57 154.82 L977.52 154.38 L978.58 154.22 L979.81 154.26 L981.13 154.46 L982.48 154.76 L983.77 155.11 L984.95 155.45 L985.94 155.74 L986.67 155.9" stroke="#dd8a1e" stroke-width="1.6"/>
<path d="M998.86 180.29 L999.58 179.87 L1000.57 179.25 L1001.75 178.5 L1003.05 177.71 L1004.39 176.96 L1005.71 176.32 L1006.94 175.88 L1008 175.71 L1008.95 175.88 L1009.88 176.32 L1010.78 176.96 L1011.62 177.71 L1012.39 178.5 L1013.07 179.25 L1013.65 179.87 L1014.1 180.29" stroke="#e0921e" stroke-width="1.65"/>
<path d="M979.05 224.48 L978.8 225.23 L978.5 226.23 L978.16 227.43 L977.77 228.77 L977.33 230.19 L976.85 231.64 L976.33 233.07 L975.76 234.42 L975.14 235.64 L974.48 236.67 L973.71 237.55 L972.79 238.37 L971.78 239.14 L970.71 239.84 L969.62 240.48 L968.55 241.06 L967.55 241.57 L966.65 242.03 L965.9 242.43 L965.33 242.76" stroke="#c4b02c" stroke-width="7.48" opacity="0.45" stroke-linecap="butt"/>
<path d="M978.28 226.77 L976.58 226.54 L975.27 226.19 L974.43 225.65 L974.22 225.19 L974.66 224.87" stroke="#796d1b" stroke-width="1.52"/>
<path d="M981.49 231.64 L980.72 232.89 L979.41 233.81 L977.65 234.37 L975.83 234.43 L974.14 234.15 L972.78 233.47 L972.01 232.84 L971.87 232.32 L972.52 231.83" stroke="#796d1b" stroke-width="1.52"/>
<path d="M977.13 240.32 L975.49 241.42 L973.89 241.57 L971.92 241.13 L970.36 240.2 L969.1 239.05 L968.34 237.67 L968.06 236.71 L968.41 236.09 L968.94 236.16" stroke="#796d1b" stroke-width="1.52"/>
<path d="M970.24 244.76 L969.1 245.72 L967.67 246.07 L966.14 245.81 L964.7 245.09 L963.25 244" stroke="#796d1b" stroke-width="1.52"/>
<path d="M974.22 225.19 L974.66 224.87 L975.65 224.86 L977.04 225.23 L978.57 226.01 L980.02 227.17 L981.08 228.57 L981.62 230.08 L981.49 231.64 L980.72 232.89" stroke="#635916" stroke-width="2.4"/>
<path d="M974.22 225.19 L974.66 224.87 L975.65 224.86 L977.04 225.23 L978.57 226.01 L980.02 227.17 L981.08 228.57 L981.62 230.08 L981.49 231.64 L980.72 232.89" stroke="#cbb945" stroke-width="1.6"/>
<path d="M971.87 232.32 L972.52 231.83 L973.49 232.01 L974.78 232.63 L976.33 233.79 L977.37 235.28 L977.94 237.42 L977.82 239.02 L977.13 240.32 L975.49 241.42" stroke="#635916" stroke-width="2.4"/>
<path d="M971.87 232.32 L972.52 231.83 L973.49 232.01 L974.78 232.63 L976.33 233.79 L977.37 235.28 L977.94 237.42 L977.82 239.02 L977.13 240.32 L975.49 241.42" stroke="#cbb945" stroke-width="1.6"/>
<path d="M968.41 236.09 L968.94 236.16 L969.67 236.84 L970.49 238.09 L971.01 239.72 L971.2 241.58 L970.94 243.32 L970.24 244.76 L969.1 245.72" stroke="#635916" stroke-width="2.4"/>
<path d="M968.41 236.09 L968.94 236.16 L969.67 236.84 L970.49 238.09 L971.01 239.72 L971.2 241.58 L970.94 243.32 L970.24 244.76 L969.1 245.72" stroke="#cbb945" stroke-width="1.6"/>
<path d="M971.43 221.43 L971.89 221.98 L972.49 222.81 L973.2 223.8 L974 224.86 L974.86 225.86 L975.75 226.71 L976.65 227.3 L977.52 227.52 L978.46 227.3 L979.5 226.71 L980.6 225.86 L981.71 224.86 L982.78 223.8 L983.74 222.81 L984.54 221.98 L985.14 221.43" stroke="#d4b030" stroke-width="1.55"/>
<path d="M992 229.05 L992.53 230.07 L993.25 231.42 L994.11 233.04 L995.08 234.84 L996.1 236.76 L997.12 238.74 L998.11 240.7 L999.01 242.58 L999.78 244.3 L1000.38 245.81 L1000.82 247.17 L1001.15 248.5 L1001.39 249.79 L1001.56 251.03 L1001.67 252.19 L1001.73 253.27 L1001.78 254.25 L1001.81 255.12 L1001.84 255.87 L1001.9 256.48" stroke="#b0b834" stroke-width="7.82" opacity="0.45" stroke-linecap="butt"/>
<path d="M993.06 231.09 L991.62 232.15 L990.28 232.81 L989.3 233.05 L988.8 232.85 L988.91 232.31" stroke="#6d7220" stroke-width="1.42"/>
<path d="M998.66 231.78 L998.98 233.12 L998.67 234.66 L997.8 236.22 L996.54 237.61 L995.12 238.69 L993.79 239.35 L992.75 239.54 L992.24 239.33 L992.36 238.8" stroke="#6d7220" stroke-width="1.42"/>
<path d="M1002.12 238.44 L1002.42 239.87 L1002.05 241.39 L1001.12 242.91 L999.81 244.24 L998.28 245.25 L996.9 245.82 L995.87 245.97 L995.38 245.73 L995.53 245.21" stroke="#6d7220" stroke-width="1.42"/>
<path d="M1005.32 246.21 L1005.3 247.59 L1004.63 249.01 L1003.3 250.43 L1001.69 251.38 L1000.01 251.98 L998.42 252.08 L997.39 251.93 L996.99 251.56" stroke="#6d7220" stroke-width="1.42"/>
<path d="M1006.39 254.47 L1006.09 255.82 L1005.16 257.02 L1003.82 257.96 L1002.13 258.77" stroke="#6d7220" stroke-width="1.42"/>
<path d="M988.8 232.85 L988.91 232.31 L989.66 231.61 L990.95 230.87 L992.64 230.29 L994.49 230.02 L996.27 230.16 L997.71 230.76 L998.66 231.78 L998.98 233.12" stroke="#595d1a" stroke-width="2.3"/>
<path d="M988.8 232.85 L988.91 232.31 L989.66 231.61 L990.95 230.87 L992.64 230.29 L994.49 230.02 L996.27 230.16 L997.71 230.76 L998.66 231.78 L998.98 233.12" stroke="#b9c04c" stroke-width="1.5"/>
<path d="M992.24 239.33 L992.36 238.8 L993.12 238.09 L994.43 237.37 L996.14 236.8 L998 236.58 L999.77 236.77 L1001.2 237.4 L1002.12 238.44 L1002.42 239.87" stroke="#595d1a" stroke-width="2.3"/>
<path d="M992.24 239.33 L992.36 238.8 L993.12 238.09 L994.43 237.37 L996.14 236.8 L998 236.58 L999.77 236.77 L1001.2 237.4 L1002.12 238.44 L1002.42 239.87" stroke="#b9c04c" stroke-width="1.5"/>
<path d="M995.38 245.73 L995.53 245.21 L996.32 244.39 L997.69 243.81 L999.43 243.42 L1001.47 243.43 L1003.18 243.89 L1004.5 244.74 L1005.32 246.21 L1005.3 247.59" stroke="#595d1a" stroke-width="2.3"/>
<path d="M995.38 245.73 L995.53 245.21 L996.32 244.39 L997.69 243.81 L999.43 243.42 L1001.47 243.43 L1003.18 243.89 L1004.5 244.74 L1005.32 246.21 L1005.3 247.59" stroke="#b9c04c" stroke-width="1.5"/>
<path d="M997.39 251.93 L996.99 251.56 L997.28 250.93 L998.25 250.55 L999.79 250.31 L1001.56 250.49 L1003.36 251.02 L1004.93 251.95 L1005.98 253.11 L1006.39 254.47 L1006.09 255.82" stroke="#595d1a" stroke-width="2.3"/>
<path d="M997.39 251.93 L996.99 251.56 L997.28 250.93 L998.25 250.55 L999.79 250.31 L1001.56 250.49 L1003.36 251.02 L1004.93 251.95 L1005.98 253.11 L1006.39 254.47 L1006.09 255.82" stroke="#b9c04c" stroke-width="1.5"/>
<path d="M965.33 245.81 L964.93 246.27 L964.35 246.87 L963.65 247.58 L962.9 248.38 L962.17 249.24 L961.53 250.13 L961.04 251.03 L960.76 251.9 L960.68 252.78 L960.71 253.7 L960.85 254.65 L961.1 255.62 L961.44 256.6 L961.89 257.58 L962.42 258.56 L963.05 259.52 L963.82 260.49 L964.77 261.48 L965.84 262.48 L967 263.48 L968.19 264.45 L969.35 265.4 L970.45 266.3 L971.43 267.14 L972.29 267.97 L973.08 268.8 L973.81 269.61 L974.52 270.38 L975.23 271.08 L975.95 271.68 L976.7 272.15 L977.52 272.48 L978.46 272.6 L979.5 272.54 L980.6 272.34 L981.71 272.05 L982.78 271.71 L983.74 271.39 L984.54 271.12 L985.14 270.95" stroke="#a8c038" stroke-width="1.65"/>
<path d="M1017.14 168.1 L1017.68 168.93 L1018.45 170.05 L1019.38 171.38 L1020.38 172.86 L1021.35 174.4 L1022.21 175.95 L1022.87 177.43 L1023.24 178.76 L1023.27 180.04 L1023.05 181.37 L1022.63 182.7 L1022.1 184 L1021.51 185.21 L1020.95 186.3 L1020.49 187.21 L1020.19 187.9" stroke="#f07818" stroke-width="1.4"/>
<path d="M1065.37 218.41 L1065.97 218.62 L1066.81 218.86 L1067.8 219.13 L1068.89 219.46 L1070.02 219.85 L1071.12 220.31 L1072.13 220.84 L1072.99 221.46 L1073.74 222.25 L1074.45 223.23 L1075.13 224.32 L1075.75 225.46 L1076.31 226.58 L1076.81 227.61 L1077.23 228.47 L1077.56 229.09" stroke="#ea5a1a" stroke-width="1.6"/>
<path d="M1051.65 227.56 L1051.99 227.04 L1052.43 226.29 L1052.96 225.39 L1053.55 224.42 L1054.19 223.46 L1054.86 222.59 L1055.54 221.9 L1056.22 221.46 L1056.95 221.3 L1057.78 221.34 L1058.66 221.54 L1059.55 221.84 L1060.41 222.19 L1061.19 222.54 L1061.84 222.82 L1062.32 222.99" stroke="#ee7a1c" stroke-width="1.6"/>
<path d="M1045.55 255 L1045.85 254.77 L1046.16 254.54 L1046.46 254.31 L1046.77 254.09 L1047.07 253.86 L1047.38 253.63 L1047.68 253.4 L1047.99 253.17 L1048.29 252.94 L1048.6 252.71 L1048.9 252.48 L1049.21 252.26 L1049.51 252.03 L1049.82 251.8 L1050.12 251.57 L1050.43 251.34 L1050.73 251.11 L1051.04 250.88 L1051.34 250.66 L1051.65 250.43" stroke="#e44c1a" stroke-width="5.78" opacity="0.45" stroke-linecap="butt"/>
<path d="M1047.04 253.88 L1047.97 254.81 L1048.56 255.75 L1048.77 256.51 L1048.61 256.96 L1048.13 256.99" stroke="#8d2f10" stroke-width="1.52"/>
<path d="M1046.56 249.99 L1047.54 249.58 L1048.72 249.62 L1049.96 250.06 L1051.11 250.83 L1052.03 251.76 L1052.62 252.7 L1052.83 253.46 L1052.67 253.91 L1052.2 253.94" stroke="#8d2f10" stroke-width="1.52"/>
<path d="M1048.61 256.96 L1048.13 256.99 L1047.46 256.57 L1046.73 255.74 L1046.09 254.6 L1045.67 253.28 L1045.59 251.96 L1045.89 250.82 L1046.56 249.99 L1047.54 249.58" stroke="#73260d" stroke-width="2.4"/>
<path d="M1048.61 256.96 L1048.13 256.99 L1047.46 256.57 L1046.73 255.74 L1046.09 254.6 L1045.67 253.28 L1045.59 251.96 L1045.89 250.82 L1046.56 249.99 L1047.54 249.58" stroke="#e76135" stroke-width="1.6"/>
<path d="M1052.67 253.91 L1052.2 253.94 L1051.52 253.52 L1050.79 252.69 L1050.15 251.55" stroke="#73260d" stroke-width="2.4"/>
<path d="M1052.67 253.91 L1052.2 253.94 L1051.52 253.52 L1050.79 252.69 L1050.15 251.55" stroke="#e76135" stroke-width="1.6"/>
<path d="M1065.37 236.71 L1065.78 237.18 L1066.4 237.8 L1067.15 238.55 L1067.94 239.38 L1068.69 240.25 L1069.33 241.14 L1069.77 242 L1069.94 242.8 L1069.82 243.6 L1069.47 244.44 L1068.96 245.29 L1068.32 246.14 L1067.59 246.95 L1066.83 247.7 L1066.07 248.36 L1065.37 248.9 L1064.63 249.32 L1063.81 249.64 L1062.92 249.88 L1062.03 250.05 L1061.18 250.17 L1060.4 250.26 L1059.75 250.34 L1059.27 250.43" stroke="#d83a16" stroke-width="1.5"/>
<path d="M1018.11 151.34 L1018.69 151.75 L1019.44 152.34 L1020.34 153.06 L1021.35 153.82 L1022.43 154.56 L1023.54 155.2 L1024.65 155.68 L1025.73 155.91 L1026.86 155.88 L1028.13 155.62 L1029.45 155.2 L1030.78 154.68 L1032.05 154.12 L1033.2 153.59 L1034.16 153.15 L1034.88 152.87" stroke="#44c8c0" stroke-width="1.6"/>
<path d="M1065.37 185.64 L1065.9 186.29 L1066.68 187.16 L1067.61 188.2 L1068.61 189.36 L1069.58 190.57 L1070.44 191.79 L1071.1 192.96 L1071.46 194.02 L1071.46 195.01 L1071.13 195.98 L1070.59 196.94 L1069.94 197.88 L1069.29 198.82 L1068.75 199.76 L1068.42 200.7 L1068.41 201.65 L1068.78 202.65 L1069.44 203.73 L1070.3 204.84 L1071.27 205.93 L1072.27 206.97 L1073.2 207.9 L1073.98 208.68 L1074.51 209.27" stroke="#42d6b0" stroke-width="1.4"/>
<path d="M1030.3 203.17 L1029.96 203.57 L1029.52 204.14 L1028.99 204.82 L1028.4 205.55 L1027.76 206.27 L1027.09 206.92 L1026.41 207.43 L1025.73 207.74 L1025 207.83 L1024.17 207.76 L1023.29 207.55 L1022.4 207.27 L1021.54 206.95 L1020.77 206.64 L1020.11 206.38 L1019.63 206.22" stroke="#42d6b0" stroke-width="1.65"/>
<path d="M894.48 168.86 L895.48 168.31 L896.8 167.51 L898.38 166.55 L900.14 165.52 L902 164.53 L903.89 163.68 L905.72 163.06 L907.43 162.76 L909.14 162.85 L910.97 163.26 L912.85 163.9 L914.71 164.67 L916.47 165.49 L918.05 166.26 L919.38 166.91 L920.38 167.33" stroke="#57ab66" stroke-width="3.1" stroke-linecap="butt"/>
<path d="M894.48 168.86 L895.48 168.31 L896.8 167.51 L898.38 166.55 L900.14 165.52 L902 164.53 L903.89 163.68 L905.72 163.06 L907.43 162.76 L909.14 162.85 L910.97 163.26 L912.85 163.9 L914.71 164.67 L916.47 165.49 L918.05 166.26 L919.38 166.91 L920.38 167.33" stroke="#74e488" stroke-width="2.2" stroke-linecap="butt"/>
<path d="M888.38 188.67 L889.17 189.37 L890.31 190.31 L891.68 191.43 L893.14 192.67 L894.59 193.98 L895.88 195.31 L896.9 196.6 L897.52 197.81 L897.71 199.01 L897.55 200.31 L897.14 201.64 L896.57 202.95 L895.93 204.19 L895.31 205.31 L894.79 206.25 L894.48 206.95" stroke="#52a861" stroke-width="2.9" stroke-linecap="butt"/>
<path d="M888.38 188.67 L889.17 189.37 L890.31 190.31 L891.68 191.43 L893.14 192.67 L894.59 193.98 L895.88 195.31 L896.9 196.6 L897.52 197.81 L897.71 199.01 L897.55 200.31 L897.14 201.64 L896.57 202.95 L895.93 204.19 L895.31 205.31 L894.79 206.25 L894.48 206.95" stroke="#6ee082" stroke-width="2" stroke-linecap="butt"/>
<path d="M931.05 197.05 L930.71 197.77 L930.2 198.74 L929.6 199.91 L928.95 201.19 L928.33 202.53 L927.8 203.85 L927.41 205.09 L927.24 206.19 L927.31 207.2 L927.59 208.23 L928.01 209.23 L928.52 210.19 L929.06 211.08 L929.58 211.87 L930 212.53 L930.29 213.05" stroke="#45a057" stroke-width="2.9" stroke-linecap="butt"/>
<path d="M931.05 197.05 L930.71 197.77 L930.2 198.74 L929.6 199.91 L928.95 201.19 L928.33 202.53 L927.8 203.85 L927.41 205.09 L927.24 206.19 L927.31 207.2 L927.59 208.23 L928.01 209.23 L928.52 210.19 L929.06 211.08 L929.58 211.87 L930 212.53 L930.29 213.05" stroke="#5cd674" stroke-width="2" stroke-linecap="butt"/>
<path d="M902.86 175.71 L903.81 175.54 L905.08 175.26 L906.6 174.92 L908.29 174.57 L910.05 174.27 L911.82 174.07 L913.51 174.03 L915.05 174.19 L916.53 174.63 L918.07 175.32 L919.63 176.19 L921.14 177.14 L922.56 178.11 L923.83 179.01 L924.9 179.76 L925.71 180.29" stroke="#4ca55d" stroke-width="3.3" stroke-linecap="butt"/>
<path d="M902.86 175.71 L903.81 175.54 L905.08 175.26 L906.6 174.92 L908.29 174.57 L910.05 174.27 L911.82 174.07 L913.51 174.03 L915.05 174.19 L916.53 174.63 L918.07 175.32 L919.63 176.19 L921.14 177.14 L922.56 178.11 L923.83 179.01 L924.9 179.76 L925.71 180.29" stroke="#66dc7c" stroke-width="2.4" stroke-linecap="butt"/>
<path d="M937.9 172.67 L938.47 173.32 L939.2 174.25 L940.07 175.37 L941.05 176.57 L942.11 177.76 L943.23 178.85 L944.37 179.72 L945.52 180.29 L946.78 180.52 L948.23 180.51 L949.77 180.32 L951.33 180 L952.84 179.62 L954.2 179.25 L955.35 178.94 L956.19 178.76" stroke="#4ba35a" stroke-width="3.5" stroke-linecap="butt"/>
<path d="M937.9 172.67 L938.47 173.32 L939.2 174.25 L940.07 175.37 L941.05 176.57 L942.11 177.76 L943.23 178.85 L944.37 179.72 L945.52 180.29 L946.78 180.52 L948.23 180.51 L949.77 180.32 L951.33 180 L952.84 179.62 L954.2 179.25 L955.35 178.94 L956.19 178.76" stroke="#64da78" stroke-width="2.6" stroke-linecap="butt"/>
<path d="M989.76 125.37 L990.34 125.68 L991.08 126.13 L991.97 126.66 L992.96 127.26 L994.02 127.88 L995.14 128.5 L996.28 129.08 L997.4 129.58 L998.49 129.98 L999.51 130.24 L1000.53 130.36 L1001.62 130.37 L1002.75 130.29 L1003.88 130.14 L1005 129.94 L1006.07 129.72 L1007.06 129.49 L1007.94 129.29 L1008.69 129.12 L1009.27 129.02" stroke="#2b62e8" stroke-width="6.46" opacity="0.45" stroke-linecap="butt"/>
<path d="M991.59 126.37 L991.21 127.82 L990.56 128.94 L989.97 129.56 L989.59 129.66 L989.51 129.28" stroke="#1a3c8f" stroke-width="1.52"/>
<path d="M996.88 125.12 L997.93 125.98 L998.63 127.25 L998.92 128.67 L998.94 130.27 L998.83 131.65 L998.46 132.83 L998.39 133.58 L998.05 133.79 L997.85 133.44" stroke="#1a3c8f" stroke-width="1.52"/>
<path d="M1002.64 126.47 L1003.98 126.58 L1005.16 127.18 L1006.33 128.23 L1007.24 129.47 L1007.89 130.82 L1008.25 131.98 L1008.28 132.82 L1008.09 133.15 L1007.75 132.94" stroke="#1a3c8f" stroke-width="1.52"/>
<path d="M989.59 129.66 L989.51 129.28 L989.8 128.49 L990.49 127.47 L991.54 126.43 L992.86 125.52 L994.25 124.94 L995.7 124.8 L996.88 125.12 L997.93 125.98" stroke="#153175" stroke-width="2.4"/>
<path d="M989.59 129.66 L989.51 129.28 L989.8 128.49 L990.49 127.47 L991.54 126.43 L992.86 125.52 L994.25 124.94 L995.7 124.8 L996.88 125.12 L997.93 125.98" stroke="#4474ea" stroke-width="1.6"/>
<path d="M998.05 133.79 L997.85 133.44 L998.24 132.8 L998.6 131.8 L998.97 130.35 L999.66 128.9 L1000.43 127.76 L1001.56 126.85 L1002.64 126.47 L1003.98 126.58" stroke="#153175" stroke-width="2.4"/>
<path d="M998.05 133.79 L997.85 133.44 L998.24 132.8 L998.6 131.8 L998.97 130.35 L999.66 128.9 L1000.43 127.76 L1001.56 126.85 L1002.64 126.47 L1003.98 126.58" stroke="#4474ea" stroke-width="1.6"/>
<path d="M1008.09 133.15 L1007.75 132.94 L1007.38 132.16 L1007.1 130.87 L1007.21 129.38" stroke="#153175" stroke-width="2.4"/>
<path d="M1008.09 133.15 L1007.75 132.94 L1007.38 132.16 L1007.1 130.87 L1007.21 129.38" stroke="#4474ea" stroke-width="1.6"/>
<path d="M1012.93 118.05 L1013.53 118.6 L1014.38 119.31 L1015.4 120.15 L1016.51 121.1 L1017.63 122.12 L1018.67 123.19 L1019.57 124.28 L1020.24 125.37 L1020.7 126.54 L1021.01 127.86 L1021.2 129.27 L1021.31 130.7 L1021.36 132.07 L1021.39 133.31 L1021.41 134.35 L1021.46 135.12" stroke="#2053ab" stroke-width="2.7" stroke-linecap="butt"/>
<path d="M1012.93 118.05 L1013.53 118.6 L1014.38 119.31 L1015.4 120.15 L1016.51 121.1 L1017.63 122.12 L1018.67 123.19 L1019.57 124.28 L1020.24 125.37 L1020.7 126.54 L1021.01 127.86 L1021.2 129.27 L1021.31 130.7 L1021.36 132.07 L1021.39 133.31 L1021.41 134.35 L1021.46 135.12" stroke="#2b6fe4" stroke-width="1.8" stroke-linecap="butt"/>
<path d="M997.07 113.17 L997.84 113.05 L998.88 112.87 L1000.12 112.64 L1001.49 112.41 L1002.92 112.19 L1004.33 112.03 L1005.66 111.94 L1006.83 111.95 L1007.91 112.1 L1009 112.36 L1010.07 112.71 L1011.1 113.09 L1012.05 113.49 L1012.89 113.87 L1013.6 114.18 L1014.15 114.39" stroke="#1319ac" stroke-width="2.7" stroke-linecap="butt"/>
<path d="M997.07 113.17 L997.84 113.05 L998.88 112.87 L1000.12 112.64 L1001.49 112.41 L1002.92 112.19 L1004.33 112.03 L1005.66 111.94 L1006.83 111.95 L1007.91 112.1 L1009 112.36 L1010.07 112.71 L1011.1 113.09 L1012.05 113.49 L1012.89 113.87 L1013.6 114.18 L1014.15 114.39" stroke="#1a22e6" stroke-width="1.8" stroke-linecap="butt"/>
<path d="M985.14 143.71 L986.19 144.46 L987.57 145.5 L989.21 146.74 L991.05 148.1 L993 149.47 L995 150.79 L996.98 151.94 L998.86 152.86 L1000.79 153.55 L1002.92 154.12 L1005.13 154.58 L1007.33 154.95 L1009.43 155.25 L1011.32 155.5 L1012.91 155.71 L1014.1 155.9" stroke="#1f4aae" stroke-width="2.7" stroke-linecap="butt"/>
<path d="M985.14 143.71 L986.19 144.46 L987.57 145.5 L989.21 146.74 L991.05 148.1 L993 149.47 L995 150.79 L996.98 151.94 L998.86 152.86 L1000.79 153.55 L1002.92 154.12 L1005.13 154.58 L1007.33 154.95 L1009.43 155.25 L1011.32 155.5 L1012.91 155.71 L1014.1 155.9" stroke="#2a63e8" stroke-width="1.8" stroke-linecap="butt"/>
<path d="M1065.37 239.76 L1065.98 240.37 L1066.59 240.98 L1067.2 241.59 L1067.8 242.2 L1068.41 242.8 L1069.02 243.41 L1069.63 244.02 L1070.24 244.63 L1070.85 245.24 L1071.46 245.85 L1072.07 246.46 L1072.68 247.07 L1073.29 247.68 L1073.9 248.29 L1074.51 248.9 L1075.12 249.51 L1075.73 250.12 L1076.34 250.73 L1076.95 251.34 L1077.56 251.95" stroke="#e4461a" stroke-width="6.8" opacity="0.45" stroke-linecap="butt"/>
<path d="M1066.92 241.31 L1066.1 242.66 L1065.23 243.62 L1064.49 244.11 L1064.06 244.11 L1064.06 243.68" stroke="#8d2b10" stroke-width="1.9"/>
<path d="M1072.77 241.5 L1073.53 242.69 L1073.8 244.19 L1073.6 245.83 L1073.02 247.41 L1072.2 248.75 L1071.33 249.72 L1070.59 250.21 L1070.16 250.21 L1070.16 249.78" stroke="#8d2b10" stroke-width="1.9"/>
<path d="M1078.87 247.6 L1079.63 248.79 L1079.9 250.29 L1079.7 251.92 L1079.12 253.51" stroke="#8d2b10" stroke-width="1.9"/>
<path d="M1064.06 244.11 L1064.06 243.68 L1064.55 242.94 L1065.51 242.07 L1066.86 241.25 L1068.44 240.67 L1070.08 240.47 L1071.58 240.74 L1072.77 241.5 L1073.53 242.69" stroke="#73230d" stroke-width="2.8"/>
<path d="M1064.06 244.11 L1064.06 243.68 L1064.55 242.94 L1065.51 242.07 L1066.86 241.25 L1068.44 240.67 L1070.08 240.47 L1071.58 240.74 L1072.77 241.5 L1073.53 242.69" stroke="#e75c35" stroke-width="2"/>
<path d="M1070.16 250.21 L1070.16 249.78 L1070.65 249.04 L1071.61 248.17 L1072.96 247.35 L1074.54 246.76 L1076.17 246.56 L1077.67 246.84 L1078.87 247.6 L1079.63 248.79" stroke="#73230d" stroke-width="2.8"/>
<path d="M1070.16 250.21 L1070.16 249.78 L1070.65 249.04 L1071.61 248.17 L1072.96 247.35 L1074.54 246.76 L1076.17 246.56 L1077.67 246.84 L1078.87 247.6 L1079.63 248.79" stroke="#e75c35" stroke-width="2"/>
<ellipse cx="1071.46" cy="247.38" rx="4.2" ry="3.78" stroke="#972712" stroke-width="2.3" transform="rotate(0 1071.46 247.38)"/>
<ellipse cx="1071.46" cy="247.38" rx="4.2" ry="3.78" stroke="#d8381a" stroke-width="1.6" transform="rotate(0 1071.46 247.38)"/>
<path d="M1048.6 221.46 L1049.41 221.98 L1050.48 222.7 L1051.75 223.57 L1053.17 224.51 L1054.69 225.45 L1056.24 226.32 L1057.79 227.05 L1059.27 227.56 L1060.8 227.85 L1062.5 227.99 L1064.27 228.01 L1066.03 227.94 L1067.72 227.83 L1069.24 227.7 L1070.51 227.6 L1071.46 227.56" stroke="#b25b15" stroke-width="3.5" stroke-linecap="butt"/>
<path d="M1048.6 221.46 L1049.41 221.98 L1050.48 222.7 L1051.75 223.57 L1053.17 224.51 L1054.69 225.45 L1056.24 226.32 L1057.79 227.05 L1059.27 227.56 L1060.8 227.85 L1062.5 227.99 L1064.27 228.01 L1066.03 227.94 L1067.72 227.83 L1069.24 227.7 L1070.51 227.6 L1071.46 227.56" stroke="#ee7a1c" stroke-width="2.6" stroke-linecap="butt"/>
<path d="M1040.98 250.43 L1041.8 250.97 L1042.89 251.77 L1044.2 252.74 L1045.64 253.76 L1047.18 254.75 L1048.73 255.61 L1050.24 256.23 L1051.65 256.52 L1053.05 256.43 L1054.56 256.02 L1056.12 255.39 L1057.65 254.62 L1059.1 253.8 L1060.4 253.02 L1061.49 252.38 L1062.32 251.95" stroke="#ae3c13" stroke-width="3.1" stroke-linecap="butt"/>
<path d="M1040.98 250.43 L1041.8 250.97 L1042.89 251.77 L1044.2 252.74 L1045.64 253.76 L1047.18 254.75 L1048.73 255.61 L1050.24 256.23 L1051.65 256.52 L1053.05 256.43 L1054.56 256.02 L1056.12 255.39 L1057.65 254.62 L1059.1 253.8 L1060.4 253.02 L1061.49 252.38 L1062.32 251.95" stroke="#e8501a" stroke-width="2.2" stroke-linecap="butt"/>
<path d="M1077.56 224.51 L1078.31 224.96 L1079.35 225.54 L1080.59 226.22 L1081.94 226.99 L1083.32 227.83 L1084.64 228.73 L1085.79 229.66 L1086.71 230.61 L1087.4 231.67 L1087.97 232.9 L1088.43 234.22 L1088.8 235.56 L1089.1 236.86 L1089.35 238.04 L1089.56 239.03 L1089.76 239.76" stroke="#99240c" stroke-width="2.7" stroke-linecap="butt"/>
<path d="M1077.56 224.51 L1078.31 224.96 L1079.35 225.54 L1080.59 226.22 L1081.94 226.99 L1083.32 227.83 L1084.64 228.73 L1085.79 229.66 L1086.71 230.61 L1087.4 231.67 L1087.97 232.9 L1088.43 234.22 L1088.8 235.56 L1089.1 236.86 L1089.35 238.04 L1089.56 239.03 L1089.76 239.76" stroke="#cc3010" stroke-width="1.8" stroke-linecap="butt"/>
<path d="M1025.73 221.46 L1031.83 233.66" stroke="#b4671b" stroke-width="3.3" stroke-linecap="butt"/>
<path d="M1025.73 221.46 L1031.83 233.66" stroke="#f08a24" stroke-width="2.4" stroke-linecap="butt"/>
<path d="M935.49 129.02 L936.26 128.91 L937.28 128.7 L938.48 128.44 L939.83 128.16 L941.28 127.88 L942.78 127.65 L944.27 127.49 L945.72 127.44 L947.08 127.54 L948.29 127.8 L949.35 128.26 L950.28 128.89 L951.14 129.65 L951.95 130.52 L952.75 131.46 L953.59 132.46 L954.5 133.47 L955.52 134.48 L956.69 135.44 L958.05 136.34 L959.58 137.22 L961.25 138.15 L963.03 139.09 L964.92 140.05 L966.89 140.99 L968.94 141.9 L971.04 142.77 L973.19 143.56 L975.37 144.27 L977.56 144.88 L979.81 145.37 L982.17 145.76 L984.6 146.06 L987.08 146.29 L989.6 146.48 L992.14 146.63 L994.66 146.78 L997.15 146.93 L999.59 147.1 L1001.95 147.32 L1004.34 147.57 L1006.85 147.84 L1009.41 148.13 L1011.96 148.41 L1014.45 148.69 L1016.82 148.96 L1019.01 149.2 L1020.96 149.42 L1022.61 149.61 L1023.9 149.76" stroke="#38bfd0" stroke-width="7.82" opacity="0.45" stroke-linecap="butt"/>
<path d="M938.22 128.61 L938.92 130.29 L939.33 131.6 L939.35 132.6 L939.03 133.03 L938.54 132.77" stroke="#227680" stroke-width="2.09"/>
<path d="M942.71 123.03 L944.45 123.2 L946.34 124.17 L947.64 125.62 L948.55 127.64 L948.87 129.43 L948.31 131.14 L947.86 132.06 L946.54 132.06 L946.31 131.58" stroke="#227680" stroke-width="2.09"/>
<path d="M955.91 128.07 L956.76 129.62 L956.99 131.45 L956.69 133.27 L955.95 135.09 L955.13 136.56 L954.12 137.66 L953.25 138.21 L953.05 138.4 L952.96 137.88" stroke="#227680" stroke-width="2.09"/>
<path d="M960.94 133.12 L962.6 133.64 L963.93 134.77 L964.77 136.33 L965.17 138.24 L965.11 140.2 L964.73 141.93 L964.11 143.28 L963.44 144.06 L963.02 144.24" stroke="#227680" stroke-width="2.09"/>
<path d="M971.51 137.98 L972.95 138.96 L974.01 140.47 L974.58 142.2 L974.78 144.15 L974.59 145.96 L974.27 147.33 L973.73 148.21 L973.24 148.42" stroke="#227680" stroke-width="2.09"/>
<path d="M980.7 140.85 L982.1 141.44 L983.46 142.67 L984.46 144.35 L985.04 146.11 L985.26 147.91 L985.13 149.4 L984.77 150.36 L984.46 150.67" stroke="#227680" stroke-width="2.09"/>
<path d="M990.38 141.92 L992.07 142.37 L993.55 143.46 L994.71 145.03 L995.46 146.82 L995.81 148.61 L995.78 150.1 L995.46 151.08 L995.04 151.41" stroke="#227680" stroke-width="2.09"/>
<path d="M1000.95 142.61 L1002.62 143.11 L1004.07 144.24 L1005.2 145.89 L1005.87 147.73 L1006.13 149.53 L1006.02 151.03 L1005.67 151.99 L1005.23 152.3 L1004.87 151.9" stroke="#227680" stroke-width="2.09"/>
<path d="M1011.43 143.72 L1013.09 144.26 L1014.52 145.42 L1015.6 147.05 L1016.26 148.89 L1016.5 150.69 L1016.39 152.18 L1016.04 153.14 L1015.6 153.45 L1015.24 153.05" stroke="#227680" stroke-width="2.09"/>
<path d="M1020.09 145.05 L1021.82 144.89 L1023.48 145.43 L1024.91 146.6 L1025.98 148.22 L1026.65 150.06" stroke="#227680" stroke-width="2.09"/>
<path d="M939.03 133.03 L938.54 132.77 L938.09 131.85 L937.79 130.34 L937.9 128.52 L938.42 126.63 L939.47 124.87 L940.85 123.65 L942.71 123.03 L944.45 123.2" stroke="#1c6069" stroke-width="3"/>
<path d="M939.03 133.03 L938.54 132.77 L938.09 131.85 L937.79 130.34 L937.9 128.52 L938.42 126.63 L939.47 124.87 L940.85 123.65 L942.71 123.03 L944.45 123.2" stroke="#4fc6d5" stroke-width="2.2"/>
<path d="M946.54 132.06 L946.31 131.58 L946.12 130.02 L946.99 128.81 L948.54 127.33 L950.36 126.59 L952.58 126.43 L954.53 127 L955.91 128.07 L956.76 129.62" stroke="#1c6069" stroke-width="3"/>
<path d="M946.54 132.06 L946.31 131.58 L946.12 130.02 L946.99 128.81 L948.54 127.33 L950.36 126.59 L952.58 126.43 L954.53 127 L955.91 128.07 L956.76 129.62" stroke="#4fc6d5" stroke-width="2.2"/>
<path d="M953.05 138.4 L952.96 137.88 L953.59 137.29 L954.46 136.08 L955.71 135 L957.33 133.9 L959.16 133.23 L960.94 133.12 L962.6 133.64" stroke="#1c6069" stroke-width="3"/>
<path d="M953.05 138.4 L952.96 137.88 L953.59 137.29 L954.46 136.08 L955.71 135 L957.33 133.9 L959.16 133.23 L960.94 133.12 L962.6 133.64" stroke="#4fc6d5" stroke-width="2.2"/>
<path d="M963.44 144.06 L963.02 144.24 L962.81 143.75 L963.02 142.75 L963.71 141.42 L964.84 140.08 L966.35 138.82 L968.1 137.97 L969.79 137.66 L971.51 137.98 L972.95 138.96" stroke="#1c6069" stroke-width="3"/>
<path d="M963.44 144.06 L963.02 144.24 L962.81 143.75 L963.02 142.75 L963.71 141.42 L964.84 140.08 L966.35 138.82 L968.1 137.97 L969.79 137.66 L971.51 137.98 L972.95 138.96" stroke="#4fc6d5" stroke-width="2.2"/>
<path d="M973.73 148.21 L973.24 148.42 L972.96 147.96 L973.17 147.04 L973.62 145.61 L974.51 144.03 L975.69 142.67 L977.23 141.48 L978.96 140.83 L980.7 140.85 L982.1 141.44" stroke="#1c6069" stroke-width="3"/>
<path d="M973.73 148.21 L973.24 148.42 L972.96 147.96 L973.17 147.04 L973.62 145.61 L974.51 144.03 L975.69 142.67 L977.23 141.48 L978.96 140.83 L980.7 140.85 L982.1 141.44" stroke="#4fc6d5" stroke-width="2.2"/>
<path d="M984.77 150.36 L984.46 150.67 L984.09 150.28 L983.94 149.26 L984.14 147.78 L984.74 146.12 L985.73 144.43 L987.09 143.03 L988.71 142.15 L990.38 141.92 L992.07 142.37" stroke="#1c6069" stroke-width="3"/>
<path d="M984.77 150.36 L984.46 150.67 L984.09 150.28 L983.94 149.26 L984.14 147.78 L984.74 146.12 L985.73 144.43 L987.09 143.03 L988.71 142.15 L990.38 141.92 L992.07 142.37" stroke="#4fc6d5" stroke-width="2.2"/>
<path d="M995.46 151.08 L995.04 151.41 L994.66 151.03 L994.48 150.03 L994.6 148.51 L995.17 146.79 L996.16 145.09 L997.51 143.69 L999.21 142.8 L1000.95 142.61 L1002.62 143.11" stroke="#1c6069" stroke-width="3"/>
<path d="M995.46 151.08 L995.04 151.41 L994.66 151.03 L994.48 150.03 L994.6 148.51 L995.17 146.79 L996.16 145.09 L997.51 143.69 L999.21 142.8 L1000.95 142.61 L1002.62 143.11" stroke="#4fc6d5" stroke-width="2.2"/>
<path d="M1005.23 152.3 L1004.87 151.9 L1004.73 150.88 L1004.95 149.41 L1005.58 147.7 L1006.63 146.05 L1008.04 144.7 L1009.69 143.88 L1011.43 143.72 L1013.09 144.26" stroke="#1c6069" stroke-width="3"/>
<path d="M1005.23 152.3 L1004.87 151.9 L1004.73 150.88 L1004.95 149.41 L1005.58 147.7 L1006.63 146.05 L1008.04 144.7 L1009.69 143.88 L1011.43 143.72 L1013.09 144.26" stroke="#4fc6d5" stroke-width="2.2"/>
<path d="M1015.6 153.45 L1015.24 153.05 L1015.11 152.04 L1015.33 150.56 L1015.97 148.86 L1017.02 147.21 L1018.43 145.87 L1020.09 145.05 L1021.82 144.89" stroke="#1c6069" stroke-width="3"/>
<path d="M1015.6 153.45 L1015.24 153.05 L1015.11 152.04 L1015.33 150.56 L1015.97 148.86 L1017.02 147.21 L1018.43 145.87 L1020.09 145.05 L1021.82 144.89" stroke="#4fc6d5" stroke-width="2.2"/>
<path d="M1011.05 148.29 L1011.97 148.36 L1013.17 148.42 L1014.6 148.49 L1016.19 148.57 L1017.9 148.67 L1019.68 148.8 L1021.46 148.97 L1023.19 149.19 L1024.82 149.47 L1026.29 149.81 L1027.68 150.26 L1029.11 150.83 L1030.55 151.49 L1031.97 152.21 L1033.33 152.95 L1034.62 153.69 L1035.81 154.38 L1036.87 155 L1037.76 155.52 L1038.48 155.9" stroke="#38bfd0" stroke-width="7.14" opacity="0.45" stroke-linecap="butt"/>
<path d="M1013.56 148.48 L1013.85 150.11 L1013.87 151.43 L1013.61 152.33 L1013.26 152.63 L1012.92 152.29" stroke="#227680" stroke-width="1.9"/>
<path d="M1018.6 144.51 L1020.14 144.94 L1021.49 145.95 L1022.56 147.46 L1023.2 149.14 L1023.46 150.78 L1023.29 152.19 L1022.96 153.07 L1022.57 153.34 L1022.09 152.94" stroke="#227680" stroke-width="1.9"/>
<path d="M1029.35 146.4 L1030.68 147.28 L1031.66 148.66 L1032.25 150.51 L1032.3 152.3 L1031.91 153.98 L1031.35 155.23 L1030.74 155.94 L1030.17 156.01 L1030.01 155.56" stroke="#227680" stroke-width="1.9"/>
<path d="M1036.99 150.57 L1038.51 151.09 L1039.67 152.14 L1040.45 153.64 L1040.76 155.31 L1040.69 157.1" stroke="#227680" stroke-width="1.9"/>
<path d="M1013.26 152.63 L1012.92 152.29 L1012.74 151.37 L1012.87 150.01 L1013.36 148.43 L1014.25 146.84 L1015.48 145.55 L1016.95 144.72 L1018.6 144.51 L1020.14 144.94" stroke="#1c6069" stroke-width="2.8"/>
<path d="M1013.26 152.63 L1012.92 152.29 L1012.74 151.37 L1012.87 150.01 L1013.36 148.43 L1014.25 146.84 L1015.48 145.55 L1016.95 144.72 L1018.6 144.51 L1020.14 144.94" stroke="#4fc6d5" stroke-width="2"/>
<path d="M1022.57 153.34 L1022.09 152.94 L1022.03 152 L1022.25 150.51 L1023.02 149.04 L1024.16 147.66 L1025.86 146.55 L1027.49 146.12 L1029.35 146.4 L1030.68 147.28" stroke="#1c6069" stroke-width="2.8"/>
<path d="M1022.57 153.34 L1022.09 152.94 L1022.03 152 L1022.25 150.51 L1023.02 149.04 L1024.16 147.66 L1025.86 146.55 L1027.49 146.12 L1029.35 146.4 L1030.68 147.28" stroke="#4fc6d5" stroke-width="2"/>
<path d="M1030.17 156.01 L1030.01 155.56 L1030.25 154.66 L1030.94 153.44 L1032.1 152.25 L1033.61 151.23 L1035.29 150.64 L1036.99 150.57 L1038.51 151.09" stroke="#1c6069" stroke-width="2.8"/>
<path d="M1030.17 156.01 L1030.01 155.56 L1030.25 154.66 L1030.94 153.44 L1032.1 152.25 L1033.61 151.23 L1035.29 150.64 L1036.99 150.57 L1038.51 151.09" stroke="#4fc6d5" stroke-width="2"/>
<path d="M886.1 188.67 L886.71 188.06 L887.57 187.29 L888.6 186.37 L889.71 185.33 L890.86 184.19 L891.95 182.95 L892.93 181.65 L893.71 180.29 L894.28 178.8 L894.69 177.12 L894.99 175.33 L895.24 173.48 L895.49 171.61 L895.79 169.8 L896.19 168.1 L896.76 166.57 L897.47 165.16 L898.27 163.79 L899.15 162.47 L900.1 161.24 L901.1 160.1 L902.15 159.07 L903.25 158.18 L904.38 157.43 L905.62 156.92 L907.01 156.65 L908.49 156.57 L910 156.57 L911.47 156.59 L912.85 156.54 L914.06 156.33 L915.05 155.9 L915.81 155.19 L916.42 154.25 L916.88 153.16 L917.24 152 L917.51 150.85 L917.73 149.8 L917.91 148.92 L918.1 148.29" stroke="#62dc7c" stroke-width="1.65"/>
<path d="M886.1 188.67 L886.69 189.14 L887.5 189.82 L888.46 190.64 L889.52 191.52 L890.63 192.38 L891.74 193.13 L892.78 193.7 L893.71 194 L894.59 194 L895.49 193.76 L896.38 193.34 L897.24 192.81 L898.04 192.24 L898.75 191.7 L899.35 191.24 L899.81 190.95" stroke="#62dc7c" stroke-width="1.6"/>
<path d="M905.9 142.19 L906.88 141.87 L908.2 141.36 L909.78 140.74 L911.52 140.1 L913.32 139.53 L915.08 139.12 L916.71 138.96 L918.1 139.14 L919.32 139.76 L920.5 140.79 L921.62 142.08 L922.67 143.52 L923.62 144.99 L924.45 146.36 L925.16 147.5 L925.71 148.29" stroke="#4fc070" stroke-width="1.45"/>
<path d="M915.05 139.14 L915.28 140.09 L915.58 141.37 L915.93 142.89 L916.33 144.57 L916.76 146.34 L917.21 148.11 L917.66 149.8 L918.1 151.33 L918.56 152.81 L919.08 154.36 L919.64 155.91 L920.19 157.43 L920.72 158.85 L921.2 160.12 L921.61 161.19 L921.9 162" stroke="#4f914f" stroke-width="3.3" stroke-linecap="butt"/>
<path d="M915.05 139.14 L915.28 140.09 L915.58 141.37 L915.93 142.89 L916.33 144.57 L916.76 146.34 L917.21 148.11 L917.66 149.8 L918.1 151.33 L918.56 152.81 L919.08 154.36 L919.64 155.91 L920.19 157.43 L920.72 158.85 L921.2 160.12 L921.61 161.19 L921.9 162" stroke="#7be07a" stroke-width="2.4" stroke-linecap="butt"/>
<path d="M929.52 136.1 L930.17 137.26 L931.01 138.8 L932.02 140.63 L933.14 142.67 L934.34 144.84 L935.56 147.06 L936.76 149.25 L937.9 151.33 L939.07 153.47 L940.35 155.81 L941.68 158.24 L943 160.67 L944.26 162.97 L945.39 165.05 L946.34 166.79 L947.05 168.1" stroke="#579148" stroke-width="3.1" stroke-linecap="butt"/>
<path d="M929.52 136.1 L930.17 137.26 L931.01 138.8 L932.02 140.63 L933.14 142.67 L934.34 144.84 L935.56 147.06 L936.76 149.25 L937.9 151.33 L939.07 153.47 L940.35 155.81 L941.68 158.24 L943 160.67 L944.26 162.97 L945.39 165.05 L946.34 166.79 L947.05 168.1" stroke="#86e070" stroke-width="2.2" stroke-linecap="butt"/>
<path d="M944 175.71 L944.6 175.03 L945.4 174.02 L946.37 172.81 L947.43 171.52 L948.54 170.28 L949.64 169.21 L950.69 168.44 L951.62 168.1 L952.54 168.19 L953.54 168.62 L954.55 169.31 L955.52 170.19 L956.39 171.19 L957.08 172.24 L957.55 173.26 L957.71 174.19 L957.49 175.12 L956.9 176.17 L956.05 177.27 L955.05 178.38 L953.99 179.44 L953 180.4 L952.17 181.21 L951.62 181.81" stroke="#3f8f50" stroke-width="3.9" stroke-linecap="butt"/>
<path d="M944 175.71 L944.6 175.03 L945.4 174.02 L946.37 172.81 L947.43 171.52 L948.54 170.28 L949.64 169.21 L950.69 168.44 L951.62 168.1 L952.54 168.19 L953.54 168.62 L954.55 169.31 L955.52 170.19 L956.39 171.19 L957.08 172.24 L957.55 173.26 L957.71 174.19 L957.49 175.12 L956.9 176.17 L956.05 177.27 L955.05 178.38 L953.99 179.44 L953 180.4 L952.17 181.21 L951.62 181.81" stroke="#62dc7c" stroke-width="3" stroke-linecap="butt"/>
<path d="M969.14 136.1 L968.66 137.26 L968.07 138.8 L967.38 140.63 L966.57 142.67 L965.66 144.84 L964.64 147.06 L963.52 149.25 L962.29 151.33 L960.86 153.42 L959.2 155.63 L957.38 157.91 L955.48 160.19 L953.57 162.41 L951.73 164.51 L950.04 166.43 L948.57 168.1 L947.36 169.53 L946.35 170.79 L945.47 171.89 L944.67 172.86 L943.88 173.71 L943.04 174.45 L942.08 175.12 L940.95 175.71 L939.65 176.23 L938.23 176.63 L936.72 176.93 L935.14 177.14 L933.53 177.27 L931.92 177.32 L930.32 177.31 L928.76 177.24 L927.18 177.11 L925.52 176.9 L923.82 176.63 L922.14 176.29 L920.53 175.87 L919.03 175.38 L917.69 174.82 L916.57 174.19 L915.67 173.4 L914.94 172.43 L914.36 171.33 L913.9 170.19 L913.54 169.07 L913.25 168.05 L913 167.19 L912.76 166.57" stroke="#101695" stroke-width="4.3" stroke-linecap="butt"/>
<path d="M969.14 136.1 L968.66 137.26 L968.07 138.8 L967.38 140.63 L966.57 142.67 L965.66 144.84 L964.64 147.06 L963.52 149.25 L962.29 151.33 L960.86 153.42 L959.2 155.63 L957.38 157.91 L955.48 160.19 L953.57 162.41 L951.73 164.51 L950.04 166.43 L948.57 168.1 L947.36 169.53 L946.35 170.79 L945.47 171.89 L944.67 172.86 L943.88 173.71 L943.04 174.45 L942.08 175.12 L940.95 175.71 L939.65 176.23 L938.23 176.63 L936.72 176.93 L935.14 177.14 L933.53 177.27 L931.92 177.32 L930.32 177.31 L928.76 177.24 L927.18 177.11 L925.52 176.9 L923.82 176.63 L922.14 176.29 L920.53 175.87 L919.03 175.38 L917.69 174.82 L916.57 174.19 L915.67 173.4 L914.94 172.43 L914.36 171.33 L913.9 170.19 L913.54 169.07 L913.25 168.05 L913 167.19 L912.76 166.57" stroke="#1a22e6" stroke-width="3.4" stroke-linecap="butt"/>
<path d="M925.71 155.14 L926.4 155.52 L927.09 155.9 L927.77 156.29 L928.46 156.67 L929.14 157.05 L929.83 157.43 L930.51 157.81 L931.2 158.19 L931.89 158.57 L932.57 158.95 L933.26 159.33 L933.94 159.71 L934.63 160.1 L935.31 160.48 L936 160.86 L936.69 161.24 L937.37 161.62 L938.06 162 L938.74 162.38 L939.43 162.76" stroke="#1a22e6" stroke-width="6.12" opacity="0.45" stroke-linecap="butt"/>
<path d="M927.45 156.1 L927.07 157.47 L926.56 158.52 L926.05 159.13 L925.68 159.24 L925.58 158.87" stroke="#10158e" stroke-width="1.9"/>
<path d="M932.61 154.85 L933.56 155.7 L934.17 156.93 L934.41 158.4 L934.3 159.91 L933.93 161.28 L933.42 162.33 L932.9 162.94 L932.54 163.05 L932.44 162.68" stroke="#10158e" stroke-width="1.9"/>
<path d="M939.46 158.66 L940.42 159.51 L941.03 160.74 L941.27 162.21 L941.16 163.72" stroke="#10158e" stroke-width="1.9"/>
<path d="M925.68 159.24 L925.58 158.87 L925.83 158.12 L926.45 157.13 L927.41 156.09 L928.64 155.19 L930.01 154.62 L931.38 154.49 L932.61 154.85 L933.56 155.7" stroke="#0d1174" stroke-width="2.8"/>
<path d="M925.68 159.24 L925.58 158.87 L925.83 158.12 L926.45 157.13 L927.41 156.09 L928.64 155.19 L930.01 154.62 L931.38 154.49 L932.61 154.85 L933.56 155.7" stroke="#353ce9" stroke-width="2"/>
<path d="M932.54 163.05 L932.44 162.68 L932.68 161.93 L933.3 160.93 L934.27 159.9 L935.5 159 L936.87 158.43 L938.24 158.3 L939.46 158.66 L940.42 159.51" stroke="#0d1174" stroke-width="2.8"/>
<path d="M932.54 163.05 L932.44 162.68 L932.68 161.93 L933.3 160.93 L934.27 159.9 L935.5 159 L936.87 158.43 L938.24 158.3 L939.46 158.66 L940.42 159.51" stroke="#353ce9" stroke-width="2"/>
<path d="M922.67 171.14 L923.35 171.52 L924.04 171.9 L924.72 172.29 L925.41 172.67 L926.1 173.05 L926.78 173.43 L927.47 173.81 L928.15 174.19 L928.84 174.57 L929.52 174.95 L930.21 175.33 L930.9 175.71 L931.58 176.1 L932.27 176.48 L932.95 176.86 L933.64 177.24 L934.32 177.62 L935.01 178 L935.7 178.38 L936.38 178.76" stroke="#62dc7c" stroke-width="6.12" opacity="0.45" stroke-linecap="butt"/>
<path d="M924.4 172.1 L924.03 173.47 L923.51 174.52 L923 175.13 L922.63 175.24 L922.53 174.87" stroke="#3c884c" stroke-width="1.9"/>
<path d="M929.56 170.85 L930.52 171.7 L931.13 172.93 L931.36 174.4 L931.25 175.91 L930.88 177.28 L930.37 178.33 L929.86 178.94 L929.49 179.05 L929.39 178.68" stroke="#3c884c" stroke-width="1.9"/>
<path d="M936.41 174.66 L937.37 175.51 L937.98 176.74 L938.22 178.21 L938.11 179.72" stroke="#3c884c" stroke-width="1.9"/>
<path d="M922.63 175.24 L922.53 174.87 L922.78 174.12 L923.4 173.13 L924.36 172.09 L925.59 171.19 L926.96 170.62 L928.33 170.49 L929.56 170.85 L930.52 171.7" stroke="#316f3e" stroke-width="2.8"/>
<path d="M922.63 175.24 L922.53 174.87 L922.78 174.12 L923.4 173.13 L924.36 172.09 L925.59 171.19 L926.96 170.62 L928.33 170.49 L929.56 170.85 L930.52 171.7" stroke="#74e08b" stroke-width="2"/>
<path d="M929.49 179.05 L929.39 178.68 L929.64 177.93 L930.26 176.93 L931.22 175.9 L932.45 175 L933.82 174.43 L935.19 174.3 L936.41 174.66 L937.37 175.51" stroke="#316f3e" stroke-width="2.8"/>
<path d="M929.49 179.05 L929.39 178.68 L929.64 177.93 L930.26 176.93 L931.22 175.9 L932.45 175 L933.82 174.43 L935.19 174.3 L936.41 174.66 L937.37 175.51" stroke="#74e08b" stroke-width="2"/>
<path d="M899.05 181.05 L900.01 181.81 L901.26 182.77 L902.74 183.91 L904.41 185.19 L906.19 186.57 L908.04 188.03 L909.91 189.54 L911.74 191.06 L913.47 192.55 L915.05 194 L916.57 195.5 L918.16 197.15 L919.76 198.88 L921.36 200.66 L922.9 202.43 L924.37 204.13 L925.73 205.71 L926.93 207.13 L927.96 208.32 L928.76 209.24" stroke="#62dc7c" stroke-width="8.5" opacity="0.45" stroke-linecap="butt"/>
<path d="M901.79 183.22 L900.8 184.87 L899.6 185.99 L898.5 186.48 L897.61 186.27 L897.19 185.47" stroke="#3c884c" stroke-width="2.18"/>
<path d="M906.97 180.85 L908.21 182.28 L908.86 184.17 L908.87 186.23 L908.32 188.22 L907.34 189.88 L906.12 191.02 L904.96 191.48 L904.07 191.27 L903.66 190.46" stroke="#3c884c" stroke-width="2.18"/>
<path d="M913.57 186.07 L914.75 187.55 L915.32 189.44 L915.27 191.5 L914.59 193.53 L913.53 195.14 L912.28 196.2 L911.1 196.62 L910.12 196.27 L909.77 195.43" stroke="#3c884c" stroke-width="2.18"/>
<path d="M918.4 190.82 L919.99 191.85 L921.1 193.54 L921.46 195.48 L921.17 197.52 L920.34 199.41 L919.05 200.94 L917.7 201.86 L916.48 202.14 L915.64 201.79 L915.36 200.92" stroke="#3c884c" stroke-width="2.18"/>
<path d="M925.81 198.16 L926.75 199.8 L927.02 201.76 L926.63 203.81 L925.69 205.65 L924.4 207.09 L923.01 207.97 L921.77 208.19 L920.94 207.81" stroke="#3c884c" stroke-width="2.18"/>
<path d="M929.71 203.27 L931.21 204.43 L932.13 206.09 L932.37 207.99 L931.99 210.02 L931.07 211.87" stroke="#3c884c" stroke-width="2.18"/>
<path d="M897.61 186.27 L897.19 185.47 L897.37 184.24 L898.16 182.81 L899.52 181.44 L901.3 180.39 L903.3 179.88 L905.27 180.03 L906.97 180.85 L908.21 182.28" stroke="#316f3e" stroke-width="3.1"/>
<path d="M897.61 186.27 L897.19 185.47 L897.37 184.24 L898.16 182.81 L899.52 181.44 L901.3 180.39 L903.3 179.88 L905.27 180.03 L906.97 180.85 L908.21 182.28" stroke="#74e08b" stroke-width="2.3"/>
<path d="M904.07 191.27 L903.66 190.46 L903.84 189.22 L904.66 187.76 L906.05 186.43 L907.86 185.43 L909.87 184.96 L911.9 185.18 L913.57 186.07 L914.75 187.55" stroke="#316f3e" stroke-width="3.1"/>
<path d="M904.07 191.27 L903.66 190.46 L903.84 189.22 L904.66 187.76 L906.05 186.43 L907.86 185.43 L909.87 184.96 L911.9 185.18 L913.57 186.07 L914.75 187.55" stroke="#74e08b" stroke-width="2.3"/>
<path d="M910.12 196.27 L909.77 195.43 L910.05 194.21 L910.96 192.85 L912.43 191.61 L914.42 190.7 L916.46 190.43 L918.4 190.82 L919.99 191.85" stroke="#316f3e" stroke-width="3.1"/>
<path d="M910.12 196.27 L909.77 195.43 L910.05 194.21 L910.96 192.85 L912.43 191.61 L914.42 190.7 L916.46 190.43 L918.4 190.82 L919.99 191.85" stroke="#74e08b" stroke-width="2.3"/>
<path d="M915.64 201.79 L915.36 200.92 L915.72 199.67 L916.76 198.4 L918.35 197.31 L920.3 196.62 L922.4 196.49 L924.3 197.02 L925.81 198.16 L926.75 199.8" stroke="#316f3e" stroke-width="3.1"/>
<path d="M915.64 201.79 L915.36 200.92 L915.72 199.67 L916.76 198.4 L918.35 197.31 L920.3 196.62 L922.4 196.49 L924.3 197.02 L925.81 198.16 L926.75 199.8" stroke="#74e08b" stroke-width="2.3"/>
<path d="M921.77 208.19 L920.94 207.81 L920.7 206.94 L921.12 205.76 L922.19 204.51 L923.81 203.46 L925.77 202.81 L927.83 202.73 L929.71 203.27 L931.21 204.43" stroke="#316f3e" stroke-width="3.1"/>
<path d="M921.77 208.19 L920.94 207.81 L920.7 206.94 L921.12 205.76 L922.19 204.51 L923.81 203.46 L925.77 202.81 L927.83 202.73 L929.71 203.27 L931.21 204.43" stroke="#74e08b" stroke-width="2.3"/>
<path d="M928.76 209.24 L928.56 209.87 L928.32 210.77 L928.04 211.84 L927.71 213 L927.33 214.17 L926.87 215.26 L926.33 216.18 L925.71 216.86 L924.98 217.32 L924.13 217.65 L923.19 217.88 L922.19 218 L921.15 218.03 L920.11 217.96 L919.08 217.83 L918.1 217.62 L917.14 217.27 L916.19 216.74 L915.24 216.09 L914.29 215.38 L913.33 214.66 L912.38 213.99 L911.43 213.44 L910.48 213.05 L909.49 212.8 L908.45 212.64 L907.38 212.55 L906.33 212.52 L905.32 212.57 L904.39 212.67 L903.55 212.83 L902.86 213.05 L902.26 213.34 L901.73 213.71 L901.27 214.16 L900.9 214.67 L900.64 215.21 L900.48 215.76 L900.46 216.32 L900.57 216.86 L900.91 217.42 L901.49 218.05 L902.25 218.72 L903.1 219.38 L903.96 220.02 L904.77 220.59 L905.44 221.07 L905.9 221.43" stroke="#62dc7c" stroke-width="1.8"/>
<path d="M925.71 190.95 L926.11 191.4 L926.68 191.98 L927.36 192.66 L928.1 193.43 L928.82 194.27 L929.46 195.17 L929.97 196.1 L930.29 197.05 L930.38 198.11 L930.3 199.33 L930.09 200.65 L929.81 202 L929.49 203.3 L929.18 204.48 L928.92 205.46 L928.76 206.19" stroke="#62dc7c" stroke-width="1.65"/>
<path d="M1028.57 142.95 L1028.06 144.08 L1027.39 145.61 L1026.6 147.42 L1025.71 149.43 L1024.75 151.53 L1023.75 153.63 L1022.73 155.63 L1021.71 157.43 L1020.68 159.07 L1019.59 160.67 L1018.45 162.23 L1017.29 163.76 L1016.1 165.26 L1014.91 166.73 L1013.73 168.18 L1012.57 169.62 L1011.38 170.98 L1010.11 172.25 L1008.81 173.46 L1007.52 174.67 L1006.3 175.91 L1005.18 177.23 L1004.21 178.67 L1003.43 180.29 L1002.84 182.08 L1002.39 184.01 L1002.06 186.06 L1001.86 188.19 L1001.75 190.38 L1001.73 192.61 L1001.79 194.84 L1001.9 197.05 L1002.15 199.39 L1002.57 201.94 L1003.11 204.6 L1003.71 207.24 L1004.33 209.75 L1004.9 212.01 L1005.38 213.91 L1005.71 215.33" stroke="#658c28" stroke-width="3.7" stroke-linecap="butt"/>
<path d="M1028.57 142.95 L1028.06 144.08 L1027.39 145.61 L1026.6 147.42 L1025.71 149.43 L1024.75 151.53 L1023.75 153.63 L1022.73 155.63 L1021.71 157.43 L1020.68 159.07 L1019.59 160.67 L1018.45 162.23 L1017.29 163.76 L1016.1 165.26 L1014.91 166.73 L1013.73 168.18 L1012.57 169.62 L1011.38 170.98 L1010.11 172.25 L1008.81 173.46 L1007.52 174.67 L1006.3 175.91 L1005.18 177.23 L1004.21 178.67 L1003.43 180.29 L1002.84 182.08 L1002.39 184.01 L1002.06 186.06 L1001.86 188.19 L1001.75 190.38 L1001.73 192.61 L1001.79 194.84 L1001.9 197.05 L1002.15 199.39 L1002.57 201.94 L1003.11 204.6 L1003.71 207.24 L1004.33 209.75 L1004.9 212.01 L1005.38 213.91 L1005.71 215.33" stroke="#9cd83e" stroke-width="2.8" stroke-linecap="butt"/>
<path d="M995.81 145.24 L996.17 146.41 L996.67 147.98 L997.26 149.84 L997.9 151.9 L998.58 154.09 L999.24 156.31 L999.85 158.47 L1000.38 160.48 L1000.83 162.36 L1001.23 164.21 L1001.6 166.06 L1001.95 167.9 L1002.3 169.78 L1002.65 171.69 L1003.02 173.66 L1003.43 175.71 L1003.89 177.98 L1004.42 180.5 L1004.97 183.15 L1005.52 185.81 L1006.06 188.35 L1006.54 190.64 L1006.94 192.57 L1007.24 194" stroke="#658c28" stroke-width="3.1" stroke-linecap="butt"/>
<path d="M995.81 145.24 L996.17 146.41 L996.67 147.98 L997.26 149.84 L997.9 151.9 L998.58 154.09 L999.24 156.31 L999.85 158.47 L1000.38 160.48 L1000.83 162.36 L1001.23 164.21 L1001.6 166.06 L1001.95 167.9 L1002.3 169.78 L1002.65 171.69 L1003.02 173.66 L1003.43 175.71 L1003.89 177.98 L1004.42 180.5 L1004.97 183.15 L1005.52 185.81 L1006.06 188.35 L1006.54 190.64 L1006.94 192.57 L1007.24 194" stroke="#9cd83e" stroke-width="2.2" stroke-linecap="butt"/>
<path d="M967.8 136.34 L968.49 135.92 L969.33 135.32 L970.32 134.6 L971.46 133.83 L972.76 133.06 L974.21 132.37 L975.81 131.81 L977.56 131.46 L979.62 131.27 L982.04 131.14 L984.7 131.1 L987.47 131.16 L990.22 131.33 L992.82 131.63 L995.15 132.08 L997.07 132.68 L998.62 133.56 L999.93 134.75 L1001.03 136.14 L1001.95 137.64 L1002.72 139.12 L1003.36 140.49 L1003.91 141.63 L1004.39 142.44" stroke="#9cd83e" stroke-width="1.5"/>
<path d="M1038.48 151.33 L1030.86 157.43" stroke="#658c28" stroke-width="3.9" stroke-linecap="butt"/>
<path d="M1038.48 151.33 L1030.86 157.43" stroke="#9cd83e" stroke-width="3" stroke-linecap="butt"/>
<path d="M965.33 158.19 L966.16 158.21 L967.25 158.21 L968.54 158.2 L969.98 158.18 L971.52 158.19 L973.12 158.23 L974.73 158.31 L976.28 158.45 L977.74 158.66 L979.05 158.95 L980.26 159.3 L981.45 159.68 L982.62 160.1 L983.75 160.57 L984.86 161.1 L985.92 161.7 L986.95 162.38 L987.92 163.16 L988.85 164.04 L989.71 165.05 L990.54 166.27 L991.32 167.75 L992.07 169.43 L992.77 171.22 L993.43 173.05 L994.03 174.85 L994.57 176.55 L995.05 178.07 L995.47 179.34 L995.81 180.29" stroke="#dd8a1e" stroke-width="7.14" opacity="0.45" stroke-linecap="butt"/>
<path d="M967.85 158.26 L968.29 159.87 L968.46 161.18 L968.34 162.08 L968.05 162.4 L967.74 162.08" stroke="#895512" stroke-width="2.09"/>
<path d="M973.56 154.04 L975.17 154.45 L976.61 155.43 L977.81 156.97 L978.52 158.65 L978.75 160.43 L978.68 161.79 L978.08 162.71 L977.72 162.96 L977.29 162.48" stroke="#895512" stroke-width="2.09"/>
<path d="M985.31 156.67 L986.86 157.75 L987.93 159.41 L988.32 161.2 L988.17 163.2 L987.67 164.8 L986.71 165.99 L986.03 166.61 L985.29 166.45 L985.29 166.01" stroke="#895512" stroke-width="2.09"/>
<path d="M995.01 165.75 L995.52 167.62 L995.29 169.35 L994.47 171.13 L993.28 172.52 L991.96 173.55 L990.65 174.09 L989.74 174.26 L989.34 174.09" stroke="#895512" stroke-width="2.09"/>
<path d="M998.96 176.49 L999.15 178.11 L998.74 179.8 L997.88 181.3 L996.67 182.66" stroke="#895512" stroke-width="2.09"/>
<path d="M968.05 162.4 L967.74 162.08 L967.58 161.17 L967.67 159.78 L968.16 158.18 L969.02 156.57 L970.3 155.19 L971.81 154.32 L973.56 154.04 L975.17 154.45" stroke="#6f450f" stroke-width="3"/>
<path d="M968.05 162.4 L967.74 162.08 L967.58 161.17 L967.67 159.78 L968.16 158.18 L969.02 156.57 L970.3 155.19 L971.81 154.32 L973.56 154.04 L975.17 154.45" stroke="#e19839" stroke-width="2.2"/>
<path d="M977.72 162.96 L977.29 162.48 L977.4 161.56 L977.87 160.23 L978.81 158.84 L980.19 157.53 L981.8 156.65 L983.67 156.34 L985.31 156.67 L986.86 157.75" stroke="#6f450f" stroke-width="3"/>
<path d="M977.72 162.96 L977.29 162.48 L977.4 161.56 L977.87 160.23 L978.81 158.84 L980.19 157.53 L981.8 156.65 L983.67 156.34 L985.31 156.67 L986.86 157.75" stroke="#e19839" stroke-width="2.2"/>
<path d="M985.29 166.45 L985.29 166.01 L985.72 164.96 L986.83 164.16 L988.55 163.32 L990.37 163.14 L992.47 163.57 L993.97 164.46 L995.01 165.75 L995.52 167.62" stroke="#6f450f" stroke-width="3"/>
<path d="M985.29 166.45 L985.29 166.01 L985.72 164.96 L986.83 164.16 L988.55 163.32 L990.37 163.14 L992.47 163.57 L993.97 164.46 L995.01 165.75 L995.52 167.62" stroke="#e19839" stroke-width="2.2"/>
<path d="M989.74 174.26 L989.34 174.09 L989.53 173.62 L990.34 173.19 L991.68 172.87 L993.38 172.81 L995.17 173.14 L996.84 173.88 L998.16 175.03 L998.96 176.49 L999.15 178.11" stroke="#6f450f" stroke-width="3"/>
<path d="M989.74 174.26 L989.34 174.09 L989.53 173.62 L990.34 173.19 L991.68 172.87 L993.38 172.81 L995.17 173.14 L996.84 173.88 L998.16 175.03 L998.96 176.49 L999.15 178.11" stroke="#e19839" stroke-width="2.2"/>
<path d="M986.67 157.43 L987.84 157.71 L989.4 158.06 L991.26 158.48 L993.33 158.95 L995.52 159.47 L997.74 160.04 L999.9 160.63 L1001.9 161.24 L1003.91 161.93 L1006.07 162.74 L1008.29 163.62 L1010.48 164.52 L1012.54 165.39 L1014.4 166.18 L1015.97 166.85 L1017.14 167.33" stroke="#9a510e" stroke-width="3.5" stroke-linecap="butt"/>
<path d="M986.67 157.43 L987.84 157.71 L989.4 158.06 L991.26 158.48 L993.33 158.95 L995.52 159.47 L997.74 160.04 L999.9 160.63 L1001.9 161.24 L1003.91 161.93 L1006.07 162.74 L1008.29 163.62 L1010.48 164.52 L1012.54 165.39 L1014.4 166.18 L1015.97 166.85 L1017.14 167.33" stroke="#ee7d16" stroke-width="2.6" stroke-linecap="butt"/>
<path d="M976.3 165.81 L976.16 167.48 L975.97 169.63 L975.76 172.17 L975.51 175.02 L975.25 178.1 L974.96 181.32 L974.66 184.6 L974.35 187.86 L974.03 191.02 L973.71 194 L973.37 196.99 L972.97 200.2 L972.54 203.54 L972.1 206.92 L971.65 210.24 L971.21 213.42 L970.81 216.37 L970.44 219 L970.14 221.23 L969.9 222.95" stroke="#dd8a1e" stroke-width="9.52" opacity="0.45" stroke-linecap="butt"/>
<path d="M976.08 168.32 L973.93 168.3 L972.14 167.95 L970.97 167.39 L970.6 166.75 L971.07 166.2" stroke="#895512" stroke-width="1.9"/>
<path d="M981.51 170.58 L980.97 171.86 L979.67 172.93 L977.78 173.68 L975.6 174.05 L973.45 174.04 L971.65 173.69 L970.48 173.14 L970.11 172.5 L970.58 171.93" stroke="#895512" stroke-width="1.9"/>
<path d="M981.02 176.32 L980.48 177.6 L979.17 178.67 L977.28 179.42 L975.1 179.78 L972.95 179.76 L971.16 179.42 L969.99 178.85 L969.62 178.21 L970.09 177.64" stroke="#895512" stroke-width="1.9"/>
<path d="M980.21 180.7 L980.52 182.08 L979.97 183.36 L978.66 184.42 L976.76 185.15 L974.58 185.51 L972.43 185.48 L970.64 185.13 L969.47 184.56 L969.1 183.92 L969.59 183.34" stroke="#895512" stroke-width="1.9"/>
<path d="M979.98 187.82 L979.43 189.1 L978.1 190.18 L976.2 190.9 L974.01 191.23 L971.86 191.18 L970.08 190.82 L968.91 190.24 L968.55 189.59" stroke="#895512" stroke-width="1.9"/>
<path d="M979.11 192.25 L979.39 193.61 L978.82 194.88 L977.49 195.92 L975.56 196.65 L973.37 196.95 L971.22 196.87 L969.44 196.47 L968.29 195.87 L967.93 195.22" stroke="#895512" stroke-width="1.9"/>
<path d="M978.45 198.05 L978.71 199.41 L978.12 200.67 L976.78 201.69 L974.86 202.37 L972.67 202.65 L970.51 202.55 L968.73 202.13 L967.58 201.52 L967.24 200.87 L967.74 200.32" stroke="#895512" stroke-width="1.9"/>
<path d="M977.98 205.16 L977.38 206.42 L976.02 207.43 L974.1 208.09 L971.91 208.36 L969.76 208.24 L967.98 207.82 L966.84 207.19 L966.5 206.53" stroke="#895512" stroke-width="1.9"/>
<path d="M977.21 210.88 L976.61 212.14 L975.25 213.15 L973.32 213.8 L971.13 214.05 L968.98 213.93 L967.21 213.5 L966.06 212.88 L965.72 212.22 L966.23 211.68" stroke="#895512" stroke-width="1.9"/>
<path d="M976.43 216.59 L975.83 217.85 L974.46 218.85 L972.54 219.5 L970.34 219.75 L968.19 219.62 L966.42 219.19 L965.28 218.57 L964.94 217.91 L965.44 217.38" stroke="#895512" stroke-width="1.9"/>
<path d="M975.65 222.27 L975.05 223.53 L973.69 224.53 L971.77 225.19 L969.57 225.45" stroke="#895512" stroke-width="1.9"/>
<path d="M970.6 166.75 L971.07 166.2 L972.32 165.84 L974.15 165.81 L976.27 166.16 L978.36 166.9 L980.09 167.95 L981.2 169.23 L981.51 170.58 L980.97 171.86" stroke="#6f450f" stroke-width="2.8"/>
<path d="M970.6 166.75 L971.07 166.2 L972.32 165.84 L974.15 165.81 L976.27 166.16 L978.36 166.9 L980.09 167.95 L981.2 169.23 L981.51 170.58 L980.97 171.86" stroke="#e19839" stroke-width="2"/>
<path d="M970.11 172.5 L970.58 171.93 L971.83 171.58 L973.66 171.54 L975.78 171.89 L977.87 172.63 L979.6 173.69 L980.71 174.96 L981.02 176.32 L980.48 177.6" stroke="#6f450f" stroke-width="2.8"/>
<path d="M970.11 172.5 L970.58 171.93 L971.83 171.58 L973.66 171.54 L975.78 171.89 L977.87 172.63 L979.6 173.69 L980.71 174.96 L981.02 176.32 L980.48 177.6" stroke="#e19839" stroke-width="2"/>
<path d="M969.62 178.21 L970.09 177.64 L971.34 177.29 L973.17 177.27 L975.29 177.62 L977.38 178.36 L979.11 179.42 L980.21 180.7 L980.52 182.08" stroke="#6f450f" stroke-width="2.8"/>
<path d="M969.62 178.21 L970.09 177.64 L971.34 177.29 L973.17 177.27 L975.29 177.62 L977.38 178.36 L979.11 179.42 L980.21 180.7 L980.52 182.08" stroke="#e19839" stroke-width="2"/>
<path d="M969.1 183.92 L969.59 183.34 L970.84 183 L972.66 182.98 L974.78 183.35 L976.86 184.1 L978.59 185.18 L979.68 186.47 L979.98 187.82 L979.43 189.1" stroke="#6f450f" stroke-width="2.8"/>
<path d="M969.1 183.92 L969.59 183.34 L970.84 183 L972.66 182.98 L974.78 183.35 L976.86 184.1 L978.59 185.18 L979.68 186.47 L979.98 187.82 L979.43 189.1" stroke="#e19839" stroke-width="2"/>
<path d="M968.91 190.24 L968.55 189.59 L969.03 189.04 L970.29 188.7 L972.13 188.68 L974.24 189.08 L976.32 189.86 L978.02 190.95 L979.11 192.25 L979.39 193.61" stroke="#6f450f" stroke-width="2.8"/>
<path d="M968.91 190.24 L968.55 189.59 L969.03 189.04 L970.29 188.7 L972.13 188.68 L974.24 189.08 L976.32 189.86 L978.02 190.95 L979.11 192.25 L979.39 193.61" stroke="#e19839" stroke-width="2"/>
<path d="M968.29 195.87 L967.93 195.22 L968.43 194.67 L969.69 194.36 L971.51 194.38 L973.64 194.8 L975.7 195.61 L977.39 196.73 L978.45 198.05 L978.71 199.41" stroke="#6f450f" stroke-width="2.8"/>
<path d="M968.29 195.87 L967.93 195.22 L968.43 194.67 L969.69 194.36 L971.51 194.38 L973.64 194.8 L975.7 195.61 L977.39 196.73 L978.45 198.05 L978.71 199.41" stroke="#e19839" stroke-width="2"/>
<path d="M967.24 200.87 L967.74 200.32 L969 200.02 L970.83 200.07 L972.93 200.51 L974.99 201.33 L976.68 202.47 L977.73 203.8 L977.98 205.16 L977.38 206.42" stroke="#6f450f" stroke-width="2.8"/>
<path d="M967.24 200.87 L967.74 200.32 L969 200.02 L970.83 200.07 L972.93 200.51 L974.99 201.33 L976.68 202.47 L977.73 203.8 L977.98 205.16 L977.38 206.42" stroke="#e19839" stroke-width="2"/>
<path d="M966.84 207.19 L966.5 206.53 L967 205.99 L968.26 205.7 L970.09 205.76 L972.19 206.21 L974.24 207.04 L975.92 208.18 L976.97 209.51 L977.21 210.88 L976.61 212.14" stroke="#6f450f" stroke-width="2.8"/>
<path d="M966.84 207.19 L966.5 206.53 L967 205.99 L968.26 205.7 L970.09 205.76 L972.19 206.21 L974.24 207.04 L975.92 208.18 L976.97 209.51 L977.21 210.88 L976.61 212.14" stroke="#e19839" stroke-width="2"/>
<path d="M965.72 212.22 L966.23 211.68 L967.5 211.39 L969.32 211.45 L971.42 211.91 L973.47 212.75 L975.14 213.89 L976.19 215.22 L976.43 216.59 L975.83 217.85" stroke="#6f450f" stroke-width="2.8"/>
<path d="M965.72 212.22 L966.23 211.68 L967.5 211.39 L969.32 211.45 L971.42 211.91 L973.47 212.75 L975.14 213.89 L976.19 215.22 L976.43 216.59 L975.83 217.85" stroke="#e19839" stroke-width="2"/>
<path d="M964.94 217.91 L965.44 217.38 L966.71 217.09 L968.53 217.15 L970.63 217.61 L972.68 218.44 L974.36 219.59 L975.4 220.92 L975.65 222.27 L975.05 223.53" stroke="#6f450f" stroke-width="2.8"/>
<path d="M964.94 217.91 L965.44 217.38 L966.71 217.09 L968.53 217.15 L970.63 217.61 L972.68 218.44 L974.36 219.59 L975.4 220.92 L975.65 222.27 L975.05 223.53" stroke="#e19839" stroke-width="2"/>
<path d="M987.43 175.71 L988.02 176.52 L988.79 177.56 L989.7 178.77 L990.71 180.14 L991.81 181.62 L992.95 183.17 L994.11 184.77 L995.24 186.37 L996.33 187.93 L997.33 189.43 L998.32 190.96 L999.36 192.62 L1000.42 194.37 L1001.48 196.15 L1002.52 197.9 L1003.51 199.6 L1004.43 201.17 L1005.24 202.57 L1005.94 203.75 L1006.48 204.67" stroke="#dd8a1e" stroke-width="7.82" opacity="0.45" stroke-linecap="butt"/>
<path d="M989.06 177.94 L987.88 179.31 L986.72 180.22 L985.75 180.59 L985.21 180.46 L985.23 179.9" stroke="#895512" stroke-width="2.18"/>
<path d="M995.57 178.96 L996.28 180.52 L996.37 182.33 L995.88 184.22 L994.94 185.92 L993.75 187.28 L992.56 188.18 L991.56 188.52 L991.02 188.36 L991.05 187.8" stroke="#895512" stroke-width="2.18"/>
<path d="M1001.43 187.3 L1002.04 188.89 L1002.03 190.71 L1001.41 192.59 L1000.35 194.22 L999.08 195.5 L997.78 196.29 L996.79 196.57 L996.26 196.38 L996.32 195.8" stroke="#895512" stroke-width="2.18"/>
<path d="M1005.53 194.64 L1006.69 195.92 L1007.24 197.55 L1007.14 199.36 L1006.47 201.17 L1005.36 202.77 L1004.05 204.01 L1002.77 204.78 L1001.77 205.04 L1001.25 204.84 L1001.33 204.3" stroke="#895512" stroke-width="2.18"/>
<path d="M985.21 180.46 L985.23 179.9 L985.87 179.08 L987.08 178.2 L988.73 177.48 L990.65 177.09 L992.57 177.18 L994.28 177.81 L995.57 178.96 L996.28 180.52" stroke="#6f450f" stroke-width="3.1"/>
<path d="M985.21 180.46 L985.23 179.9 L985.87 179.08 L987.08 178.2 L988.73 177.48 L990.65 177.09 L992.57 177.18 L994.28 177.81 L995.57 178.96 L996.28 180.52" stroke="#e19839" stroke-width="2.3"/>
<path d="M991.02 188.36 L991.05 187.8 L991.69 186.96 L992.93 186.13 L994.61 185.46 L996.57 185.14 L998.49 185.32 L1000.16 186.02 L1001.43 187.3 L1002.04 188.89" stroke="#6f450f" stroke-width="3.1"/>
<path d="M991.02 188.36 L991.05 187.8 L991.69 186.96 L992.93 186.13 L994.61 185.46 L996.57 185.14 L998.49 185.32 L1000.16 186.02 L1001.43 187.3 L1002.04 188.89" stroke="#e19839" stroke-width="2.3"/>
<path d="M996.26 196.38 L996.32 195.8 L997.04 195.05 L998.33 194.3 L1000.05 193.75 L1002 193.56 L1003.9 193.85 L1005.53 194.64 L1006.69 195.92" stroke="#6f450f" stroke-width="3.1"/>
<path d="M996.26 196.38 L996.32 195.8 L997.04 195.05 L998.33 194.3 L1000.05 193.75 L1002 193.56 L1003.9 193.85 L1005.53 194.64 L1006.69 195.92" stroke="#e19839" stroke-width="2.3"/>
<path d="M1001.25 204.84 L1001.33 204.3 L1002.05 203.55 L1003.35 202.84 L1005.07 202.29" stroke="#6f450f" stroke-width="3.1"/>
<path d="M1001.25 204.84 L1001.33 204.3 L1002.05 203.55 L1003.35 202.84 L1005.07 202.29" stroke="#e19839" stroke-width="2.3"/>
<path d="M993.52 203.14 L1001.9 201.62" stroke="#dd8a1e" stroke-width="2"/>
<path d="M992.76 199.33 L991.7 199.78 L990.3 200.34 L988.62 201.01 L986.76 201.76 L984.79 202.6 L982.8 203.49 L980.86 204.44 L979.05 205.43 L977.24 206.55 L975.3 207.87 L973.3 209.3 L971.33 210.76 L969.47 212.18 L967.8 213.46 L966.39 214.54 L965.33 215.33" stroke="#658c28" stroke-width="3.3" stroke-linecap="butt"/>
<path d="M992.76 199.33 L991.7 199.78 L990.3 200.34 L988.62 201.01 L986.76 201.76 L984.79 202.6 L982.8 203.49 L980.86 204.44 L979.05 205.43 L977.24 206.55 L975.3 207.87 L973.3 209.3 L971.33 210.76 L969.47 212.18 L967.8 213.46 L966.39 214.54 L965.33 215.33" stroke="#9cd83e" stroke-width="2.4" stroke-linecap="butt"/>
<path d="M965.33 215.33 L964.36 216.31 L963.04 217.63 L961.45 219.21 L959.71 220.95 L957.92 222.75 L956.15 224.51 L954.53 226.14 L953.14 227.52 L951.92 228.75 L950.74 229.93 L949.62 231.05 L948.57 232.1 L947.62 233.04 L946.79 233.88 L946.08 234.59 L945.52 235.14" stroke="#658c28" stroke-width="5.5" stroke-linecap="butt"/>
<path d="M965.33 215.33 L964.36 216.31 L963.04 217.63 L961.45 219.21 L959.71 220.95 L957.92 222.75 L956.15 224.51 L954.53 226.14 L953.14 227.52 L951.92 228.75 L950.74 229.93 L949.62 231.05 L948.57 232.1 L947.62 233.04 L946.79 233.88 L946.08 234.59 L945.52 235.14" stroke="#9cd83e" stroke-width="4.6" stroke-linecap="butt"/>
<path d="M945.52 235.14 L946.61 234.78 L948.1 234.29 L949.86 233.7 L951.81 233.05 L953.83 232.37 L955.81 231.71 L957.65 231.1 L959.24 230.57 L960.66 230.1 L962.06 229.63 L963.4 229.18 L964.67 228.76 L965.82 228.38 L966.85 228.04 L967.71 227.75 L968.38 227.52" stroke="#9cd83e" stroke-width="2"/>
<path d="M969.14 219.9 L968.91 220.44 L968.69 220.97 L968.46 221.5 L968.23 222.04 L968 222.57 L967.77 223.1 L967.54 223.64 L967.31 224.17 L967.09 224.7 L966.86 225.24 L966.63 225.77 L966.4 226.3 L966.17 226.84 L965.94 227.37 L965.71 227.9 L965.49 228.44 L965.26 228.97 L965.03 229.5 L964.8 230.04 L964.57 230.57" stroke="#c9ac28" stroke-width="7.14" opacity="0.45" stroke-linecap="butt"/>
<path d="M968.23 222.03 L966.68 221.57 L965.48 220.9 L964.8 220.19 L964.71 219.58 L965.21 219.23" stroke="#7c6a18" stroke-width="1.71"/>
<path d="M971.29 225.56 L970.5 226.58 L969.23 227.24 L967.64 227.5 L965.95 227.36 L964.4 226.9 L963.2 226.24 L962.51 225.52 L962.43 224.92 L962.92 224.56" stroke="#7c6a18" stroke-width="1.71"/>
<path d="M969 230.89 L968.22 231.91 L966.94 232.58 L965.35 232.83 L963.66 232.69" stroke="#7c6a18" stroke-width="1.71"/>
<path d="M964.71 219.58 L965.21 219.23 L966.2 219.23 L967.51 219.64 L968.91 220.45 L970.18 221.58 L971.09 222.91 L971.49 224.29 L971.29 225.56 L970.5 226.58" stroke="#655714" stroke-width="2.6"/>
<path d="M964.71 219.58 L965.21 219.23 L966.2 219.23 L967.51 219.64 L968.91 220.45 L970.18 221.58 L971.09 222.91 L971.49 224.29 L971.29 225.56 L970.5 226.58" stroke="#cfb541" stroke-width="1.8"/>
<path d="M962.43 224.92 L962.92 224.56 L963.91 224.57 L965.22 224.98 L966.62 225.78 L967.89 226.91 L968.8 228.24 L969.2 229.62 L969 230.89 L968.22 231.91" stroke="#655714" stroke-width="2.6"/>
<path d="M962.43 224.92 L962.92 224.56 L963.91 224.57 L965.22 224.98 L966.62 225.78 L967.89 226.91 L968.8 228.24 L969.2 229.62 L969 230.89 L968.22 231.91" stroke="#cfb541" stroke-width="1.8"/>
<path d="M986.67 215.33 L986.88 216.43 L987.15 217.84 L987.46 219.52 L987.81 221.4 L988.19 223.43 L988.6 225.54 L989.05 227.67 L989.51 229.77 L989.99 231.77 L990.48 233.62 L991.02 235.43 L991.65 237.34 L992.33 239.29 L993.04 241.24 L993.76 243.14 L994.46 244.96 L995.12 246.63 L995.71 248.13 L996.2 249.39 L996.57 250.38" stroke="#c2bd3a" stroke-width="9.18" opacity="0.45" stroke-linecap="butt"/>
<path d="M987.19 217.98 L985.19 218.5 L983.42 218.59 L982.16 218.27 L981.61 217.61 L981.88 216.84" stroke="#787523" stroke-width="1.61"/>
<path d="M992.7 218.2 L992.55 219.61 L991.62 221 L990.06 222.22 L988.12 223.12 L986.11 223.61 L984.34 223.68 L983.1 223.37 L982.57 222.75 L982.84 221.98" stroke="#787523" stroke-width="1.61"/>
<path d="M993.66 223.26 L993.52 224.68 L992.6 226.08 L991.06 227.31 L989.16 228.23 L987.16 228.77 L985.39 228.87 L984.14 228.56 L983.59 227.96 L983.85 227.18" stroke="#787523" stroke-width="1.61"/>
<path d="M994.01 227.01 L994.7 228.25 L994.59 229.67 L993.73 231.02 L992.24 232.31 L990.35 233.31 L988.37 233.91 L986.61 234.06 L985.34 233.8 L984.81 233.34 L985.03 232.55" stroke="#787523" stroke-width="1.61"/>
<path d="M995.12 231.73 L995.9 232.91 L995.9 234.33 L995.12 235.82 L993.71 237.2 L991.96 238.28 L990.03 239.04 L988.28 239.34 L987 239.18 L986.39 238.64 L986.56 237.84" stroke="#787523" stroke-width="1.61"/>
<path d="M996.63 236.49 L997.45 237.56 L997.53 238.98 L996.84 240.51 L995.51 241.97 L993.75 243.18 L991.85 244 L990.15 244.39 L988.86 244.29 L988.23 243.77" stroke="#787523" stroke-width="1.61"/>
<path d="M999.25 242.36 L999.35 243.77 L998.69 245.31 L997.4 246.78 L995.67 248.03 L993.79 248.9 L992.06 249.29 L990.77 249.21 L990.13 248.71 L990.26 247.9" stroke="#787523" stroke-width="1.61"/>
<path d="M1000.26 246.08 L1001.14 247.2 L1001.26 248.67 L1000.59 250.21 L999.27 251.68 L997.52 252.91" stroke="#787523" stroke-width="1.61"/>
<path d="M981.61 217.61 L981.88 216.84 L982.93 216.08 L984.61 215.5 L986.67 215.24 L988.8 215.39 L990.68 215.97 L992.05 216.94 L992.7 218.2 L992.55 219.61" stroke="#625f1d" stroke-width="2.5"/>
<path d="M981.61 217.61 L981.88 216.84 L982.93 216.08 L984.61 215.5 L986.67 215.24 L988.8 215.39 L990.68 215.97 L992.05 216.94 L992.7 218.2 L992.55 219.61" stroke="#c9c451" stroke-width="1.7"/>
<path d="M982.57 222.75 L982.84 221.98 L983.89 221.22 L985.56 220.64 L987.61 220.37 L989.74 220.51 L991.62 221.06 L993 222.01 L993.66 223.26 L993.52 224.68" stroke="#625f1d" stroke-width="2.5"/>
<path d="M982.57 222.75 L982.84 221.98 L983.89 221.22 L985.56 220.64 L987.61 220.37 L989.74 220.51 L991.62 221.06 L993 222.01 L993.66 223.26 L993.52 224.68" stroke="#c9c451" stroke-width="1.7"/>
<path d="M983.59 227.96 L983.85 227.18 L984.89 226.4 L986.52 225.83 L988.57 225.5 L990.7 225.58 L992.61 226.09 L994.01 227.01 L994.7 228.25" stroke="#625f1d" stroke-width="2.5"/>
<path d="M983.59 227.96 L983.85 227.18 L984.89 226.4 L986.52 225.83 L988.57 225.5 L990.7 225.58 L992.61 226.09 L994.01 227.01 L994.7 228.25" stroke="#c9c451" stroke-width="1.7"/>
<path d="M984.81 233.34 L985.03 232.55 L986.02 231.72 L987.65 231.02 L989.68 230.6 L991.81 230.59 L993.65 230.91 L995.12 231.73 L995.9 232.91" stroke="#625f1d" stroke-width="2.5"/>
<path d="M984.81 233.34 L985.03 232.55 L986.02 231.72 L987.65 231.02 L989.68 230.6 L991.81 230.59 L993.65 230.91 L995.12 231.73 L995.9 232.91" stroke="#c9c451" stroke-width="1.7"/>
<path d="M986.39 238.64 L986.56 237.84 L987.49 237.03 L989.06 236.21 L991.05 235.64 L993.18 235.46 L995.13 235.74 L996.63 236.49 L997.45 237.56" stroke="#625f1d" stroke-width="2.5"/>
<path d="M986.39 238.64 L986.56 237.84 L987.49 237.03 L989.06 236.21 L991.05 235.64 L993.18 235.46 L995.13 235.74 L996.63 236.49 L997.45 237.56" stroke="#c9c451" stroke-width="1.7"/>
<path d="M988.86 244.29 L988.23 243.77 L988.36 242.97 L989.26 242.04 L990.81 241.18 L992.79 240.56 L994.89 240.32 L996.85 240.54 L998.37 241.24 L999.25 242.36 L999.35 243.77" stroke="#625f1d" stroke-width="2.5"/>
<path d="M988.86 244.29 L988.23 243.77 L988.36 242.97 L989.26 242.04 L990.81 241.18 L992.79 240.56 L994.89 240.32 L996.85 240.54 L998.37 241.24 L999.25 242.36 L999.35 243.77" stroke="#c9c451" stroke-width="1.7"/>
<path d="M990.13 248.71 L990.26 247.9 L991.14 246.96 L992.68 246.08 L994.65 245.43 L996.77 245.18 L998.74 245.39 L1000.26 246.08 L1001.14 247.2" stroke="#625f1d" stroke-width="2.5"/>
<path d="M990.13 248.71 L990.26 247.9 L991.14 246.96 L992.68 246.08 L994.65 245.43 L996.77 245.18 L998.74 245.39 L1000.26 246.08 L1001.14 247.2" stroke="#c9c451" stroke-width="1.7"/>
<path d="M997.33 221.43 L998.19 221.31 L999.42 221.08 L1000.89 220.8 L1002.48 220.52 L1004.04 220.32 L1005.44 220.23 L1006.55 220.33 L1007.24 220.67 L1007.5 221.32 L1007.48 222.26 L1007.21 223.41 L1006.76 224.67 L1006.18 225.95 L1005.52 227.17 L1004.84 228.23 L1004.19 229.05 L1003.47 229.64 L1002.58 230.1 L1001.6 230.45 L1000.57 230.71 L999.57 230.91 L998.65 231.07 L997.89 231.2 L997.33 231.33" stroke="#e2c252" stroke-width="1.55"/>
<path d="M963.05 243.52 L963.62 244.2 L964.33 245.05 L965.17 246.06 L966.11 247.2 L967.14 248.43 L968.24 249.72 L969.39 251.05 L970.57 252.39 L971.76 253.7 L972.95 254.95 L974.23 256.24 L975.67 257.65 L977.22 259.13 L978.82 260.65 L980.43 262.14 L981.99 263.58 L983.44 264.92 L984.74 266.12 L985.83 267.13 L986.67 267.9" stroke="#b3bb35" stroke-width="9.86" opacity="0.45" stroke-linecap="butt"/>
<path d="M965.3 246.18 L963.71 247.73 L962.07 248.7 L960.61 248.95 L959.69 248.54 L959.44 247.54" stroke="#6e7320" stroke-width="1.8"/>
<path d="M970.76 243.72 L971.55 245.35 L971.58 247.34 L970.9 249.46 L969.66 251.39 L968.07 252.95 L966.42 253.92 L965.01 254.19 L964.12 253.83 L963.86 252.85" stroke="#6e7320" stroke-width="1.8"/>
<path d="M975.04 248.68 L975.9 250.28 L976.01 252.27 L975.42 254.41 L974.29 256.37 L972.79 258.01 L971.2 259.07 L969.8 259.42 L968.95 259.15 L968.63 258.2" stroke="#6e7320" stroke-width="1.8"/>
<path d="M977.97 252.41 L979.54 253.32 L980.46 254.81 L980.71 256.8 L980.26 258.97 L979.22 261.05 L977.8 262.77 L976.3 263.91 L974.93 264.34 L973.96 264.04 L973.61 263.09" stroke="#6e7320" stroke-width="1.8"/>
<path d="M984.38 257.9 L985.35 259.4 L985.64 261.38 L985.23 263.56 L984.23 265.66 L982.84 267.39 L981.33 268.55 L979.96 269 L978.99 268.71" stroke="#6e7320" stroke-width="1.8"/>
<path d="M987.76 261.62 L989.35 262.48 L990.35 264 L990.64 266.01 L990.22 268.19 L989.21 270.28" stroke="#6e7320" stroke-width="1.8"/>
<path d="M959.69 248.54 L959.44 247.54 L959.96 246.2 L961.2 244.75 L963 243.46 L965.15 242.57 L967.35 242.27 L969.31 242.66 L970.76 243.72 L971.55 245.35" stroke="#5a5e1a" stroke-width="2.7"/>
<path d="M959.69 248.54 L959.44 247.54 L959.96 246.2 L961.2 244.75 L963 243.46 L965.15 242.57 L967.35 242.27 L969.31 242.66 L970.76 243.72 L971.55 245.35" stroke="#bcc34d" stroke-width="1.9"/>
<path d="M964.12 253.83 L963.86 252.85 L964.35 251.5 L965.56 250.02 L967.32 248.71 L969.44 247.76 L971.63 247.39 L973.6 247.72 L975.04 248.68 L975.9 250.28" stroke="#5a5e1a" stroke-width="2.7"/>
<path d="M964.12 253.83 L963.86 252.85 L964.35 251.5 L965.56 250.02 L967.32 248.71 L969.44 247.76 L971.63 247.39 L973.6 247.72 L975.04 248.68 L975.9 250.28" stroke="#bcc34d" stroke-width="1.9"/>
<path d="M968.95 259.15 L968.63 258.2 L969.02 256.81 L970.13 255.26 L971.78 253.85 L973.83 252.74 L975.98 252.22 L977.97 252.41 L979.54 253.32" stroke="#5a5e1a" stroke-width="2.7"/>
<path d="M968.95 259.15 L968.63 258.2 L969.02 256.81 L970.13 255.26 L971.78 253.85 L973.83 252.74 L975.98 252.22 L977.97 252.41 L979.54 253.32" stroke="#bcc34d" stroke-width="1.9"/>
<path d="M973.96 264.04 L973.61 263.09 L973.96 261.7 L975 260.12 L976.64 258.61 L978.65 257.45 L980.8 256.88 L982.79 257.02 L984.38 257.9 L985.35 259.4" stroke="#5a5e1a" stroke-width="2.7"/>
<path d="M973.96 264.04 L973.61 263.09 L973.96 261.7 L975 260.12 L976.64 258.61 L978.65 257.45 L980.8 256.88 L982.79 257.02 L984.38 257.9 L985.35 259.4" stroke="#bcc34d" stroke-width="1.9"/>
<path d="M979.96 269 L978.99 268.71 L978.62 267.77 L978.96 266.37 L979.99 264.77 L981.61 263.24 L983.62 262.07 L985.77 261.49 L987.76 261.62 L989.35 262.48" stroke="#5a5e1a" stroke-width="2.7"/>
<path d="M979.96 269 L978.99 268.71 L978.62 267.77 L978.96 266.37 L979.99 264.77 L981.61 263.24 L983.62 262.07 L985.77 261.49 L987.76 261.62 L989.35 262.48" stroke="#bcc34d" stroke-width="1.9"/>
<path d="M986.67 267.9 L987.1 268.53 L987.71 269.48 L988.44 270.61 L989.24 271.81 L990.04 272.95 L990.81 273.9 L991.48 274.55 L992 274.76 L992.34 274.47 L992.52 273.77 L992.62 272.76 L992.67 271.57 L992.73 270.3 L992.86 269.07 L993.1 267.98 L993.52 267.14 L994.17 266.52 L995.02 265.99 L996.01 265.53 L997.05 265.14 L998.08 264.81 L999.02 264.54 L999.82 264.3 L1000.38 264.1" stroke="#aac83a" stroke-width="1.4"/>
<ellipse cx="1006.78" cy="262.27" rx="5" ry="4.25" stroke="#748c29" stroke-width="2.5" transform="rotate(0 1006.78 262.27)"/>
<ellipse cx="1006.78" cy="262.27" rx="5" ry="4.25" stroke="#a6c93b" stroke-width="1.8" transform="rotate(0 1006.78 262.27)"/>
<ellipse cx="1008.76" cy="264.1" rx="4" ry="3.4" stroke="#748c29" stroke-width="2.1" transform="rotate(0 1008.76 264.1)"/>
<ellipse cx="1008.76" cy="264.1" rx="4" ry="3.4" stroke="#a6c93b" stroke-width="1.4" transform="rotate(0 1008.76 264.1)"/>
<path d="M1009.52 256.48 L1010.21 256.1 L1011.11 255.57 L1012.18 254.93 L1013.38 254.24 L1014.67 253.54 L1016.01 252.89 L1017.35 252.33 L1018.67 251.9 L1020.06 251.62 L1021.63 251.43 L1023.29 251.31 L1024.95 251.24 L1026.55 251.21 L1027.99 251.19 L1029.2 251.18 L1030.1 251.14" stroke="#738d2a" stroke-width="3.1" stroke-linecap="butt"/>
<path d="M1009.52 256.48 L1010.21 256.1 L1011.11 255.57 L1012.18 254.93 L1013.38 254.24 L1014.67 253.54 L1016.01 252.89 L1017.35 252.33 L1018.67 251.9 L1020.06 251.62 L1021.63 251.43 L1023.29 251.31 L1024.95 251.24 L1026.55 251.21 L1027.99 251.19 L1029.2 251.18 L1030.1 251.14" stroke="#b2da42" stroke-width="2.2" stroke-linecap="butt"/>
<path d="M977.52 239.71 L978.3 240.15 L979.42 240.7 L980.75 241.35 L982.19 242.1 L983.62 242.92 L984.92 243.82 L985.97 244.79 L986.67 245.81 L986.98 247 L987 248.4 L986.81 249.94 L986.48 251.52 L986.07 253.06 L985.67 254.45 L985.33 255.62 L985.14 256.48" stroke="#9fc83a" stroke-width="1.45"/>
<path d="M1018.11 171.92 L1018.93 172.14 L1019.98 172.41 L1021.22 172.74 L1022.61 173.1 L1024.11 173.49 L1025.68 173.91 L1027.28 174.36 L1028.87 174.81 L1030.4 175.27 L1031.83 175.73 L1033.17 176.21 L1034.48 176.71 L1035.75 177.24 L1037.02 177.79 L1038.31 178.35 L1039.62 178.91 L1040.98 179.47 L1042.41 180.02 L1043.93 180.56 L1045.55 181.07 L1047.37 181.58 L1049.44 182.1 L1051.67 182.64 L1053.99 183.17 L1056.31 183.69 L1058.57 184.18 L1060.69 184.63 L1062.57 185.03 L1064.16 185.37 L1065.37 185.64" stroke="#42d6b0" stroke-width="7.48" opacity="0.45" stroke-linecap="butt"/>
<path d="M1020.66 172.61 L1020.52 174.31 L1020.12 175.67 L1019.55 176.5 L1018.99 176.71 L1018.6 176.26" stroke="#28846d" stroke-width="1.9"/>
<path d="M1025.19 169.23 L1026.6 169.95 L1027.67 171.23 L1028.35 172.89 L1028.6 174.72 L1028.45 176.43 L1028.02 177.79 L1027.39 178.62 L1026.82 178.8 L1026.44 178.34" stroke="#28846d" stroke-width="1.9"/>
<path d="M1033.43 171.63 L1034.75 172.45 L1035.73 173.81 L1036.3 175.61 L1036.35 177.44 L1036.03 179.13 L1035.38 180.46 L1034.69 181.21 L1034.05 181.3 L1033.73 180.8" stroke="#28846d" stroke-width="1.9"/>
<path d="M1039.77 174.55 L1041.3 174.85 L1042.52 175.71 L1043.43 177.11 L1043.87 178.78 L1043.94 180.61 L1043.62 182.29 L1043.16 183.58 L1042.52 184.37 L1041.94 184.52 L1041.58 184.04" stroke="#28846d" stroke-width="1.9"/>
<path d="M1046.95 177.24 L1048.51 177.33 L1049.81 178 L1050.9 179.27 L1051.6 180.92 L1051.88 182.73 L1051.8 184.4 L1051.41 185.78 L1050.85 186.62 L1050.29 186.83 L1049.92 186.41" stroke="#28846d" stroke-width="1.9"/>
<path d="M1056.28 179.17 L1057.69 179.83 L1058.81 181.04 L1059.57 182.67 L1059.91 184.47 L1059.86 186.18 L1059.5 187.56 L1058.98 188.42 L1058.42 188.64" stroke="#28846d" stroke-width="1.9"/>
<path d="M1064.28 180.9 L1065.7 181.55 L1066.86 182.79 L1067.61 184.42 L1067.94 186.21" stroke="#28846d" stroke-width="1.9"/>
<path d="M1018.99 176.71 L1018.6 176.26 L1018.5 175.25 L1018.8 173.85 L1019.53 172.3 L1020.64 170.85 L1022.07 169.74 L1023.63 169.16 L1025.19 169.23 L1026.6 169.95" stroke="#216c59" stroke-width="2.8"/>
<path d="M1018.99 176.71 L1018.6 176.26 L1018.5 175.25 L1018.8 173.85 L1019.53 172.3 L1020.64 170.85 L1022.07 169.74 L1023.63 169.16 L1025.19 169.23 L1026.6 169.95" stroke="#58dab9" stroke-width="2"/>
<path d="M1026.82 178.8 L1026.44 178.34 L1026.34 177.3 L1026.69 175.91 L1027.48 174.39 L1028.69 172.96 L1030.16 171.93 L1031.75 171.44 L1033.43 171.63 L1034.75 172.45" stroke="#216c59" stroke-width="2.8"/>
<path d="M1026.82 178.8 L1026.44 178.34 L1026.34 177.3 L1026.69 175.91 L1027.48 174.39 L1028.69 172.96 L1030.16 171.93 L1031.75 171.44 L1033.43 171.63 L1034.75 172.45" stroke="#58dab9" stroke-width="2"/>
<path d="M1034.05 181.3 L1033.73 180.8 L1033.79 179.79 L1034.3 178.44 L1035.26 177.02 L1036.59 175.77 L1038.13 174.89 L1039.77 174.55 L1041.3 174.85" stroke="#216c59" stroke-width="2.8"/>
<path d="M1034.05 181.3 L1033.73 180.8 L1033.79 179.79 L1034.3 178.44 L1035.26 177.02 L1036.59 175.77 L1038.13 174.89 L1039.77 174.55 L1041.3 174.85" stroke="#58dab9" stroke-width="2"/>
<path d="M1041.94 184.52 L1041.58 184.04 L1041.66 183.1 L1042.03 181.73 L1042.83 180.21 L1043.95 178.87 L1045.38 177.79 L1046.95 177.24 L1048.51 177.33" stroke="#216c59" stroke-width="2.8"/>
<path d="M1041.94 184.52 L1041.58 184.04 L1041.66 183.1 L1042.03 181.73 L1042.83 180.21 L1043.95 178.87 L1045.38 177.79 L1046.95 177.24 L1048.51 177.33" stroke="#58dab9" stroke-width="2"/>
<path d="M1050.29 186.83 L1049.92 186.41 L1049.8 185.4 L1050.07 184 L1050.75 182.43 L1051.82 180.95 L1053.17 179.8 L1054.72 179.17 L1056.28 179.17 L1057.69 179.83" stroke="#216c59" stroke-width="2.8"/>
<path d="M1050.29 186.83 L1049.92 186.41 L1049.8 185.4 L1050.07 184 L1050.75 182.43 L1051.82 180.95 L1053.17 179.8 L1054.72 179.17 L1056.28 179.17 L1057.69 179.83" stroke="#58dab9" stroke-width="2"/>
<path d="M1058.98 188.42 L1058.42 188.64 L1058 188.21 L1057.87 187.21 L1058.11 185.8 L1058.77 184.22 L1059.82 182.72 L1061.18 181.55 L1062.72 180.9 L1064.28 180.9 L1065.7 181.55" stroke="#216c59" stroke-width="2.8"/>
<path d="M1058.98 188.42 L1058.42 188.64 L1058 188.21 L1057.87 187.21 L1058.11 185.8 L1058.77 184.22 L1059.82 182.72 L1061.18 181.55 L1062.72 180.9 L1064.28 180.9 L1065.7 181.55" stroke="#58dab9" stroke-width="2"/>
<path d="M1047.07 158.2 L1047.8 158.97 L1048.73 159.95 L1049.84 161.11 L1051.07 162.41 L1052.41 163.82 L1053.8 165.3 L1055.23 166.81 L1056.63 168.31 L1057.99 169.77 L1059.27 171.16 L1060.48 172.5 L1061.68 173.85 L1062.88 175.22 L1064.07 176.59 L1065.27 177.97 L1066.48 179.35 L1067.69 180.74 L1068.93 182.12 L1070.18 183.5 L1071.46 184.88 L1072.8 186.28 L1074.2 187.72 L1075.64 189.19 L1077.1 190.66 L1078.56 192.12 L1080.01 193.55 L1081.41 194.93 L1082.76 196.24 L1084.02 197.47 L1085.18 198.6 L1086.28 199.64 L1087.34 200.63 L1088.35 201.57 L1089.32 202.45 L1090.23 203.27 L1091.07 204.01 L1091.84 204.69 L1092.51 205.28 L1093.09 205.79 L1093.57 206.22" stroke="#3bd2b8" stroke-width="7.48" opacity="0.45" stroke-linecap="butt"/>
<path d="M1048.89 160.12 L1047.88 161.51 L1046.81 162.45 L1045.9 162.87 L1045.32 162.75 L1045.23 162.17" stroke="#248272" stroke-width="1.9"/>
<path d="M1054.58 159.72 L1055.39 161.06 L1055.65 162.72 L1055.37 164.5 L1054.64 166.18 L1053.64 167.57 L1052.57 168.52 L1051.64 168.93 L1051.06 168.8 L1050.97 168.22" stroke="#248272" stroke-width="1.9"/>
<path d="M1060.34 165.84 L1061.14 167.19 L1061.38 168.85 L1061.08 170.64 L1060.33 172.31 L1059.31 173.69 L1058.22 174.62 L1057.26 175 L1056.69 174.86 L1056.61 174.28" stroke="#248272" stroke-width="1.9"/>
<path d="M1066.03 172.14 L1066.8 173.53 L1066.98 175.2 L1066.62 176.96 L1065.83 178.61 L1064.77 179.96 L1063.66 180.86 L1062.72 181.23 L1062.15 181.09" stroke="#248272" stroke-width="1.9"/>
<path d="M1071.51 178.41 L1072.28 179.78 L1072.49 181.44 L1072.16 183.18 L1071.4 184.84 L1070.37 186.21 L1069.33 187.15 L1068.4 187.55 L1067.82 187.43" stroke="#248272" stroke-width="1.9"/>
<path d="M1077.09 184.39 L1077.9 185.69 L1078.19 187.35 L1077.94 189.13 L1077.24 190.82 L1076.29 192.23 L1075.24 193.2 L1074.33 193.64 L1073.74 193.53" stroke="#248272" stroke-width="1.9"/>
<path d="M1082.92 190.25 L1083.77 191.55 L1084.09 193.2 L1083.87 194.98 L1083.2 196.69 L1082.26 198.11 L1081.23 199.1 L1080.32 199.55 L1079.75 199.46" stroke="#248272" stroke-width="1.9"/>
<path d="M1088.86 196.02 L1089.74 197.33 L1090.07 198.93 L1089.89 200.72 L1089.28 202.43 L1088.38 203.88 L1087.38 204.9 L1086.51 205.39 L1085.93 205.31" stroke="#248272" stroke-width="1.9"/>
<path d="M1094.91 201.53 L1095.84 202.79 L1096.25 204.43 L1096.12 206.25 L1095.53 207.98" stroke="#248272" stroke-width="1.9"/>
<path d="M1045.32 162.75 L1045.23 162.17 L1045.69 161.27 L1046.69 160.25 L1048.13 159.32 L1049.85 158.68 L1051.64 158.49 L1053.28 158.84 L1054.58 159.72 L1055.39 161.06" stroke="#1d6a5d" stroke-width="2.8"/>
<path d="M1045.32 162.75 L1045.23 162.17 L1045.69 161.27 L1046.69 160.25 L1048.13 159.32 L1049.85 158.68 L1051.64 158.49 L1053.28 158.84 L1054.58 159.72 L1055.39 161.06" stroke="#52d7c0" stroke-width="2"/>
<path d="M1051.06 168.8 L1050.97 168.22 L1051.44 167.32 L1052.44 166.3 L1053.89 165.38 L1055.61 164.76 L1057.4 164.58 L1059.06 164.95 L1060.34 165.84 L1061.14 167.19" stroke="#1d6a5d" stroke-width="2.8"/>
<path d="M1051.06 168.8 L1050.97 168.22 L1051.44 167.32 L1052.44 166.3 L1053.89 165.38 L1055.61 164.76 L1057.4 164.58 L1059.06 164.95 L1060.34 165.84 L1061.14 167.19" stroke="#52d7c0" stroke-width="2"/>
<path d="M1056.69 174.86 L1056.61 174.28 L1057.08 173.36 L1058.12 172.37 L1059.59 171.5 L1061.35 170.92 L1063.15 170.8 L1064.77 171.21 L1066.03 172.14 L1066.8 173.53" stroke="#1d6a5d" stroke-width="2.8"/>
<path d="M1056.69 174.86 L1056.61 174.28 L1057.08 173.36 L1058.12 172.37 L1059.59 171.5 L1061.35 170.92 L1063.15 170.8 L1064.77 171.21 L1066.03 172.14 L1066.8 173.53" stroke="#52d7c0" stroke-width="2"/>
<path d="M1062.72 181.23 L1062.15 181.09 L1062.08 180.5 L1062.58 179.62 L1063.62 178.66 L1065.1 177.79 L1066.84 177.22 L1068.64 177.1 L1070.24 177.49 L1071.51 178.41 L1072.28 179.78" stroke="#1d6a5d" stroke-width="2.8"/>
<path d="M1062.72 181.23 L1062.15 181.09 L1062.08 180.5 L1062.58 179.62 L1063.62 178.66 L1065.1 177.79 L1066.84 177.22 L1068.64 177.1 L1070.24 177.49 L1071.51 178.41 L1072.28 179.78" stroke="#52d7c0" stroke-width="2"/>
<path d="M1068.4 187.55 L1067.82 187.43 L1067.74 186.84 L1068.22 185.98 L1069.22 184.96 L1070.66 184.03 L1072.35 183.4 L1074.14 183.19 L1075.78 183.52 L1077.09 184.39 L1077.9 185.69" stroke="#1d6a5d" stroke-width="2.8"/>
<path d="M1068.4 187.55 L1067.82 187.43 L1067.74 186.84 L1068.22 185.98 L1069.22 184.96 L1070.66 184.03 L1072.35 183.4 L1074.14 183.19 L1075.78 183.52 L1077.09 184.39 L1077.9 185.69" stroke="#52d7c0" stroke-width="2"/>
<path d="M1074.33 193.64 L1073.74 193.53 L1073.65 192.96 L1074.09 192.05 L1075.06 191 L1076.48 190.04 L1078.17 189.36 L1079.95 189.11 L1081.6 189.41 L1082.92 190.25 L1083.77 191.55" stroke="#1d6a5d" stroke-width="2.8"/>
<path d="M1074.33 193.64 L1073.74 193.53 L1073.65 192.96 L1074.09 192.05 L1075.06 191 L1076.48 190.04 L1078.17 189.36 L1079.95 189.11 L1081.6 189.41 L1082.92 190.25 L1083.77 191.55" stroke="#52d7c0" stroke-width="2"/>
<path d="M1080.32 199.55 L1079.75 199.46 L1079.63 198.88 L1080.06 197.96 L1081.02 196.9 L1082.42 195.92 L1084.11 195.21 L1085.89 194.95 L1087.52 195.21 L1088.86 196.02 L1089.74 197.33" stroke="#1d6a5d" stroke-width="2.8"/>
<path d="M1080.32 199.55 L1079.75 199.46 L1079.63 198.88 L1080.06 197.96 L1081.02 196.9 L1082.42 195.92 L1084.11 195.21 L1085.89 194.95 L1087.52 195.21 L1088.86 196.02 L1089.74 197.33" stroke="#52d7c0" stroke-width="2"/>
<path d="M1086.51 205.39 L1085.93 205.31 L1085.79 204.73 L1086.19 203.82 L1087.11 202.73 L1088.46 201.7 L1090.12 200.92 L1091.88 200.57 L1093.54 200.77 L1094.91 201.53 L1095.84 202.79" stroke="#1d6a5d" stroke-width="2.8"/>
<path d="M1086.51 205.39 L1085.93 205.31 L1085.79 204.73 L1086.19 203.82 L1087.11 202.73 L1088.46 201.7 L1090.12 200.92 L1091.88 200.57 L1093.54 200.77 L1094.91 201.53 L1095.84 202.79" stroke="#52d7c0" stroke-width="2"/>
<path d="M1030.3 180.3 L1030.62 181.14 L1031.07 182.24 L1031.63 183.56 L1032.24 185.02 L1032.88 186.59 L1033.49 188.21 L1034.03 189.81 L1034.48 191.35 L1034.77 192.78 L1034.88 194.02 L1034.77 195.17 L1034.48 196.29 L1034.03 197.39 L1033.49 198.45 L1032.88 199.46 L1032.24 200.39 L1031.63 201.24 L1031.07 202 L1030.62 202.65 L1030.3 203.17" stroke="#42d6b0" stroke-width="6.46" opacity="0.45" stroke-linecap="butt"/>
<path d="M1031.04 182.26 L1029.8 183.11 L1028.75 183.67 L1027.93 183.83 L1027.56 183.68 L1027.73 183.34" stroke="#28846d" stroke-width="1.71"/>
<path d="M1036.19 184.64 L1036.41 185.98 L1036.08 187.46 L1035.27 188.81 L1034.15 189.96 L1032.83 190.79 L1031.68 191.25 L1030.85 191.36 L1030.43 191.01 L1030.63 190.67" stroke="#28846d" stroke-width="1.71"/>
<path d="M1038.66 194.39 L1038.25 195.67 L1037.32 196.79 L1035.58 197.8 L1034 198.09 L1032.3 197.81 L1031.13 197.41 L1030.48 196.62 L1030.35 196.24 L1030.74 196.12" stroke="#28846d" stroke-width="1.71"/>
<path d="M1035.09 202.44 L1034.54 203.71 L1033.52 204.6 L1032.21 205.05 L1030.83 205.13 L1029.23 204.96" stroke="#28846d" stroke-width="1.71"/>
<path d="M1027.56 183.68 L1027.73 183.34 L1028.42 182.88 L1029.59 182.45 L1031.07 182.22 L1032.67 182.28 L1034.21 182.73 L1035.43 183.53 L1036.19 184.64 L1036.41 185.98" stroke="#216c59" stroke-width="2.6"/>
<path d="M1027.56 183.68 L1027.73 183.34 L1028.42 182.88 L1029.59 182.45 L1031.07 182.22 L1032.67 182.28 L1034.21 182.73 L1035.43 183.53 L1036.19 184.64 L1036.41 185.98" stroke="#58dab9" stroke-width="1.8"/>
<path d="M1030.43 191.01 L1030.63 190.67 L1031.37 190.29 L1032.68 189.87 L1034.18 189.93 L1035.74 190.3 L1037.34 191.29 L1038.26 192.41 L1038.66 194.39 L1038.25 195.67" stroke="#216c59" stroke-width="2.6"/>
<path d="M1030.43 191.01 L1030.63 190.67 L1031.37 190.29 L1032.68 189.87 L1034.18 189.93 L1035.74 190.3 L1037.34 191.29 L1038.26 192.41 L1038.66 194.39 L1038.25 195.67" stroke="#58dab9" stroke-width="1.8"/>
<path d="M1030.35 196.24 L1030.74 196.12 L1031.7 196.23 L1032.72 196.92 L1033.84 198.03 L1034.67 199.41 L1035.13 200.99 L1035.09 202.44 L1034.54 203.71" stroke="#216c59" stroke-width="2.6"/>
<path d="M1030.35 196.24 L1030.74 196.12 L1031.7 196.23 L1032.72 196.92 L1033.84 198.03 L1034.67 199.41 L1035.13 200.99 L1035.09 202.44 L1034.54 203.71" stroke="#58dab9" stroke-width="1.8"/>
<path d="M1071.46 212.32 L1071.84 212.93 L1072.23 213.54 L1072.61 214.15 L1072.99 214.76 L1073.37 215.37 L1073.75 215.98 L1074.13 216.59 L1074.51 217.2 L1074.89 217.8 L1075.27 218.41 L1075.66 219.02 L1076.04 219.63 L1076.42 220.24 L1076.8 220.85 L1077.18 221.46 L1077.56 222.07 L1077.94 222.68 L1078.32 223.29 L1078.7 223.9 L1079.09 224.51" stroke="#42d6b0" stroke-width="6.46" opacity="0.45" stroke-linecap="butt"/>
<path d="M1072.57 214.09 L1071.49 215.11 L1070.44 215.76 L1069.62 216 L1069.19 215.86 L1069.25 215.41" stroke="#28846d" stroke-width="1.9"/>
<path d="M1077.54 214.88 L1077.96 216.09 L1077.86 217.48 L1077.29 218.9 L1076.38 220.19 L1075.3 221.2 L1074.26 221.85 L1073.44 222.1 L1073 221.95 L1073.06 221.5" stroke="#28846d" stroke-width="1.9"/>
<path d="M1081.36 220.97 L1081.77 222.19 L1081.67 223.58 L1081.1 225 L1080.19 226.28" stroke="#28846d" stroke-width="1.9"/>
<path d="M1069.19 215.86 L1069.25 215.41 L1069.83 214.77 L1070.87 214.12 L1072.26 213.59 L1073.82 213.34 L1075.34 213.45 L1076.64 213.97 L1077.54 214.88 L1077.96 216.09" stroke="#216c59" stroke-width="2.8"/>
<path d="M1069.19 215.86 L1069.25 215.41 L1069.83 214.77 L1070.87 214.12 L1072.26 213.59 L1073.82 213.34 L1075.34 213.45 L1076.64 213.97 L1077.54 214.88 L1077.96 216.09" stroke="#58dab9" stroke-width="2"/>
<path d="M1073 221.95 L1073.06 221.5 L1073.64 220.87 L1074.69 220.22 L1076.07 219.69 L1077.63 219.44 L1079.15 219.55 L1080.45 220.07 L1081.36 220.97 L1081.77 222.19" stroke="#216c59" stroke-width="2.8"/>
<path d="M1073 221.95 L1073.06 221.5 L1073.64 220.87 L1074.69 220.22 L1076.07 219.69 L1077.63 219.44 L1079.15 219.55 L1080.45 220.07 L1081.36 220.97 L1081.77 222.19" stroke="#58dab9" stroke-width="2"/>
<path d="M1093.57 206.22 L1093.54 206.95 L1093.56 207.93 L1093.57 209.11 L1093.57 210.41 L1093.51 211.76 L1093.39 213.08 L1093.16 214.31 L1092.8 215.37 L1092.31 216.33 L1091.69 217.28 L1090.98 218.21 L1090.18 219.08 L1089.34 219.87 L1088.46 220.55 L1087.58 221.09 L1086.71 221.46 L1085.78 221.63 L1084.73 221.58 L1083.63 221.38 L1082.52 221.08 L1081.45 220.73 L1080.49 220.39 L1079.68 220.11 L1079.09 219.94" stroke="#42d6b0" stroke-width="1.6"/>
<path d="M1024.21 152.87 L1033.35 151.34" stroke="#38bfd0" stroke-width="2.2"/>
<path d="M1052.41 166.59 L1052.3 167.87 L1052.15 169.56 L1051.98 171.58 L1051.79 173.83 L1051.58 176.22 L1051.35 178.66 L1051.12 181.07 L1050.88 183.35 L1050.62 185.69 L1050.31 188.25 L1049.98 190.91 L1049.65 193.55 L1049.32 196.06 L1049.03 198.32 L1048.78 200.22 L1048.6 201.65" stroke="#9a5914" stroke-width="2.7" stroke-linecap="butt"/>
<path d="M1052.41 166.59 L1052.3 167.87 L1052.15 169.56 L1051.98 171.58 L1051.79 173.83 L1051.58 176.22 L1051.35 178.66 L1051.12 181.07 L1050.88 183.35 L1050.62 185.69 L1050.31 188.25 L1049.98 190.91 L1049.65 193.55 L1049.32 196.06 L1049.03 198.32 L1048.78 200.22 L1048.6 201.65" stroke="#ee8a20" stroke-width="1.8" stroke-linecap="butt"/>
<path d="M1044.02 162.77 L1042.5 175.73" stroke="#9a5914" stroke-width="2.3" stroke-linecap="butt"/>
<path d="M1044.02 162.77 L1042.5 175.73" stroke="#ee8a20" stroke-width="1.4" stroke-linecap="butt"/>
<path d="M1034.12 219.94 L1033.84 221.01 L1033.44 222.44 L1032.96 224.15 L1032.45 226.04 L1031.95 228.02 L1031.53 230.01 L1031.21 231.92 L1031.07 233.66 L1031.06 235.3 L1031.14 236.96 L1031.3 238.61 L1031.54 240.23 L1031.87 241.79 L1032.28 243.27 L1032.78 244.63 L1033.35 245.85 L1034.1 246.95 L1035.06 247.95 L1036.16 248.85 L1037.31 249.66 L1038.44 250.38 L1039.48 251 L1040.35 251.52 L1040.98 251.95" stroke="#9c5312" stroke-width="5.9" stroke-linecap="butt"/>
<path d="M1034.12 219.94 L1033.84 221.01 L1033.44 222.44 L1032.96 224.15 L1032.45 226.04 L1031.95 228.02 L1031.53 230.01 L1031.21 231.92 L1031.07 233.66 L1031.06 235.3 L1031.14 236.96 L1031.3 238.61 L1031.54 240.23 L1031.87 241.79 L1032.28 243.27 L1032.78 244.63 L1033.35 245.85 L1034.1 246.95 L1035.06 247.95 L1036.16 248.85 L1037.31 249.66 L1038.44 250.38 L1039.48 251 L1040.35 251.52 L1040.98 251.95" stroke="#f0801c" stroke-width="5" stroke-linecap="butt"/>
<path d="M1045.55 221.46 L1045.32 222.4 L1045.02 223.65 L1044.66 225.14 L1044.26 226.8 L1043.83 228.55 L1043.39 230.32 L1042.94 232.05 L1042.5 233.66 L1042.03 235.27 L1041.51 236.99 L1040.96 238.77 L1040.4 240.52 L1039.87 242.17 L1039.39 243.66 L1038.99 244.91 L1038.69 245.85" stroke="#82270b" stroke-width="3.1" stroke-linecap="butt"/>
<path d="M1045.55 221.46 L1045.32 222.4 L1045.02 223.65 L1044.66 225.14 L1044.26 226.8 L1043.83 228.55 L1043.39 230.32 L1042.94 232.05 L1042.5 233.66 L1042.03 235.27 L1041.51 236.99 L1040.96 238.77 L1040.4 240.52 L1039.87 242.17 L1039.39 243.66 L1038.99 244.91 L1038.69 245.85" stroke="#c83c12" stroke-width="2.2" stroke-linecap="butt"/>
<path d="M1044.02 239.76 L1044.65 239.49 L1045.45 239.16 L1046.39 238.77 L1047.45 238.33 L1048.6 237.85 L1049.8 237.34 L1051.05 236.81 L1052.29 236.27 L1053.52 235.72 L1054.7 235.18 L1055.91 234.61 L1057.23 233.96 L1058.63 233.27 L1060.05 232.56 L1061.46 231.85 L1062.82 231.16 L1064.08 230.51 L1065.21 229.94 L1066.16 229.46 L1066.89 229.09" stroke="#ec6c1a" stroke-width="7.82" opacity="0.45" stroke-linecap="butt"/>
<path d="M1046.14 238.86 L1047.15 240.35 L1047.75 241.73 L1047.92 242.74 L1047.73 243.2 L1047.27 243.01" stroke="#924210" stroke-width="2.28"/>
<path d="M1048.04 233.09 L1049.47 232.86 L1051.03 233.28 L1052.54 234.24 L1053.89 235.57 L1054.91 237.05 L1055.55 238.38 L1055.76 239.38 L1055.62 239.82 L1055.15 239.65" stroke="#924210" stroke-width="2.28"/>
<path d="M1055.46 229.71 L1056.88 229.4 L1058.46 229.73 L1060.03 230.6 L1061.44 231.86 L1062.54 233.28 L1063.24 234.59 L1063.5 235.58 L1063.34 236.05 L1062.87 235.9" stroke="#924210" stroke-width="2.28"/>
<path d="M1061.83 226.89 L1062.92 225.94 L1064.34 225.61 L1065.92 225.92 L1067.52 226.79 L1068.94 228.05" stroke="#924210" stroke-width="2.28"/>
<path d="M1047.73 243.2 L1047.27 243.01 L1046.68 242.17 L1046.14 240.78 L1045.79 239.02 L1045.75 237.13 L1046.12 235.37 L1046.9 233.95 L1048.04 233.09 L1049.47 232.86" stroke="#77360d" stroke-width="3.2"/>
<path d="M1047.73 243.2 L1047.27 243.01 L1046.68 242.17 L1046.14 240.78 L1045.79 239.02 L1045.75 237.13 L1046.12 235.37 L1046.9 233.95 L1048.04 233.09 L1049.47 232.86" stroke="#ee7d35" stroke-width="2.4"/>
<path d="M1055.62 239.82 L1055.15 239.65 L1054.54 238.83 L1053.97 237.48 L1053.53 235.73 L1053.4 233.87 L1053.67 232.08 L1054.38 230.62 L1055.46 229.71 L1056.88 229.4" stroke="#77360d" stroke-width="3.2"/>
<path d="M1055.62 239.82 L1055.15 239.65 L1054.54 238.83 L1053.97 237.48 L1053.53 235.73 L1053.4 233.87 L1053.67 232.08 L1054.38 230.62 L1055.46 229.71 L1056.88 229.4" stroke="#ee7d35" stroke-width="2.4"/>
<path d="M1063.34 236.05 L1062.87 235.9 L1062.23 235.11 L1061.57 233.76 L1061.09 232.04 L1060.92 230.15 L1061.15 228.36 L1061.83 226.89 L1062.92 225.94" stroke="#77360d" stroke-width="3.2"/>
<path d="M1063.34 236.05 L1062.87 235.9 L1062.23 235.11 L1061.57 233.76 L1061.09 232.04 L1060.92 230.15 L1061.15 228.36 L1061.83 226.89 L1062.92 225.94" stroke="#ee7d35" stroke-width="2.4"/>
<path d="M1056.22 201.65 L1056.78 202.09 L1057.54 202.66 L1058.44 203.32 L1059.44 204.07 L1060.51 204.89 L1061.6 205.74 L1062.67 206.63 L1063.68 207.52 L1064.6 208.41 L1065.37 209.27 L1066.03 210.16 L1066.65 211.15 L1067.22 212.19 L1067.74 213.26 L1068.22 214.32 L1068.66 215.34 L1069.05 216.29 L1069.39 217.15 L1069.69 217.86 L1069.94 218.41" stroke="#ea5a1a" stroke-width="6.8" opacity="0.45" stroke-linecap="butt"/>
<path d="M1057.95 203.01 L1057.3 204.45 L1056.64 205.52 L1056.01 206.13 L1055.6 206.2 L1055.55 205.79" stroke="#913710" stroke-width="1.9"/>
<path d="M1063.99 202.54 L1064.95 203.72 L1065.37 205.19 L1065.33 206.94 L1064.86 208.56 L1064.14 209.97 L1063.17 210.97 L1062.46 211.48 L1061.83 211.32 L1061.87 210.9" stroke="#913710" stroke-width="1.9"/>
<path d="M1070.87 210.55 L1071.21 211.93 L1070.99 213.56 L1070.23 215.04 L1069.09 216.35 L1067.83 217.3 L1066.63 217.85 L1065.76 218.03 L1065.37 217.86 L1065.54 217.48" stroke="#913710" stroke-width="1.9"/>
<path d="M1055.6 206.2 L1055.55 205.79 L1055.94 204.99 L1056.78 204 L1058.01 202.99 L1059.51 202.21 L1061.17 201.81 L1062.7 201.91 L1063.99 202.54 L1064.95 203.72" stroke="#762d0d" stroke-width="2.8"/>
<path d="M1055.6 206.2 L1055.55 205.79 L1055.94 204.99 L1056.78 204 L1058.01 202.99 L1059.51 202.21 L1061.17 201.81 L1062.7 201.91 L1063.99 202.54 L1064.95 203.72" stroke="#ec6d35" stroke-width="2"/>
<path d="M1061.83 211.32 L1061.87 210.9 L1062.33 209.92 L1063.42 209.21 L1065 208.53 L1066.68 208.33 L1068.48 208.61 L1069.85 209.31 L1070.87 210.55 L1071.21 211.93" stroke="#762d0d" stroke-width="2.8"/>
<path d="M1061.83 211.32 L1061.87 210.9 L1062.33 209.92 L1063.42 209.21 L1065 208.53 L1066.68 208.33 L1068.48 208.61 L1069.85 209.31 L1070.87 210.55 L1071.21 211.93" stroke="#ec6d35" stroke-width="2"/>
<path d="M1065.37 217.86 L1065.54 217.48 L1066.29 217.04 L1067.47 216.7 L1069.03 216.41" stroke="#762d0d" stroke-width="2.8"/>
<path d="M1065.37 217.86 L1065.54 217.48 L1066.29 217.04 L1067.47 216.7 L1069.03 216.41" stroke="#ec6d35" stroke-width="2"/>
<ellipse cx="1077.56" cy="235.18" rx="4.6" ry="4.14" stroke="#7d190b" stroke-width="2.4" transform="rotate(0 1077.56 235.18)"/>
<ellipse cx="1077.56" cy="235.18" rx="4.6" ry="4.14" stroke="#b32410" stroke-width="1.7" transform="rotate(0 1077.56 235.18)"/>
<ellipse cx="1082.9" cy="238.99" rx="4.4" ry="3.96" stroke="#631208" stroke-width="2.3" transform="rotate(0 1082.9 238.99)"/>
<ellipse cx="1082.9" cy="238.99" rx="4.4" ry="3.96" stroke="#8e1a0c" stroke-width="1.6" transform="rotate(0 1082.9 238.99)"/>
<ellipse cx="1071.46" cy="231.37" rx="3.8" ry="3.42" stroke="#a33e12" stroke-width="2.2" transform="rotate(0 1071.46 231.37)"/>
<ellipse cx="1071.46" cy="231.37" rx="3.8" ry="3.42" stroke="#ea5a1a" stroke-width="1.5" transform="rotate(0 1071.46 231.37)"/>
<ellipse cx="1059.27" cy="258.05" rx="5" ry="4.25" stroke="#7d190b" stroke-width="2.6" transform="rotate(0 1059.27 258.05)"/>
<ellipse cx="1059.27" cy="258.05" rx="5" ry="4.25" stroke="#b32410" stroke-width="1.9" transform="rotate(0 1059.27 258.05)"/>
<ellipse cx="1056.98" cy="259.57" rx="3.6" ry="3.06" stroke="#9c2512" stroke-width="2.1" transform="rotate(0 1056.98 259.57)"/>
<ellipse cx="1056.98" cy="259.57" rx="3.6" ry="3.06" stroke="#e0361a" stroke-width="1.4" transform="rotate(0 1056.98 259.57)"/>
<ellipse cx="1039.76" cy="257.29" rx="4.6" ry="4.14" stroke="#9f2e12" stroke-width="2.3" transform="rotate(0 1039.76 257.29)"/>
<ellipse cx="1039.76" cy="257.29" rx="4.6" ry="4.14" stroke="#e4421a" stroke-width="1.6" transform="rotate(0 1039.76 257.29)"/>
<path d="M1032.59 258.05 L1032.72 258.67 L1032.84 259.54 L1032.98 260.58 L1033.16 261.72 L1033.42 262.87 L1033.77 263.96 L1034.25 264.92 L1034.88 265.67 L1035.7 266.25 L1036.72 266.74 L1037.87 267.15 L1039.12 267.48 L1040.4 267.73 L1041.68 267.89 L1042.91 267.96 L1044.02 267.96 L1045.1 267.81 L1046.22 267.5 L1047.33 267.07 L1048.41 266.58 L1049.41 266.06 L1050.31 265.58 L1051.07 265.18 L1051.65 264.91" stroke="#e4421a" stroke-width="1.6"/>
<path d="M1065.37 258.05 L1065.97 257.63 L1066.81 257.01 L1067.8 256.27 L1068.89 255.48 L1070.02 254.72 L1071.12 254.08 L1072.13 253.64 L1072.99 253.48 L1073.78 253.61 L1074.6 253.98 L1075.39 254.52 L1076.13 255.19 L1076.76 255.93 L1077.24 256.69 L1077.52 257.41 L1077.56 258.05 L1077.27 258.65 L1076.64 259.3 L1075.79 259.96 L1074.8 260.62 L1073.77 261.24 L1072.81 261.8 L1072.01 262.27 L1071.46 262.62" stroke="#d63018" stroke-width="1.4"/>
<path d="M1047.07 251.95 L1047.78 251.55 L1048.72 250.95 L1049.83 250.24 L1051.07 249.47 L1052.39 248.74 L1053.72 248.09 L1055.01 247.62 L1056.22 247.38 L1057.43 247.42 L1058.72 247.68 L1060.05 248.1 L1061.36 248.62 L1062.61 249.17 L1063.72 249.7 L1064.66 250.14 L1065.37 250.43" stroke="#e85a1c" stroke-width="1.4"/>
<path d="M1077.56 242.8 L1077.35 243.31 L1077.08 244.01 L1076.77 244.85 L1076.42 245.76 L1076.01 246.68 L1075.56 247.56 L1075.06 248.32 L1074.51 248.9 L1073.85 249.32 L1073.06 249.64 L1072.18 249.88 L1071.27 250.05 L1070.39 250.17 L1069.58 250.26 L1068.91 250.34 L1068.41 250.43" stroke="#b32410" stroke-width="1.65"/>
<line x1="1040.98" y1="267.96" x2="1051.65" y2="267.2" stroke="#5a1008" stroke-width="1.6" />
<path d="M1021.92 156.68 L1021.78 157.46 L1021.61 158.51 L1021.42 159.77 L1021.19 161.15 L1020.93 162.6 L1020.63 164.04 L1020.3 165.39 L1019.94 166.59 L1019.5 167.7 L1018.96 168.83 L1018.37 169.95 L1017.76 171.02 L1017.16 172.01 L1016.61 172.89 L1016.16 173.63 L1015.82 174.21" stroke="#be140e" stroke-width="3.1" stroke-linecap="butt"/>
<path d="M1021.92 156.68 L1021.78 157.46 L1021.61 158.51 L1021.42 159.77 L1021.19 161.15 L1020.93 162.6 L1020.63 164.04 L1020.3 165.39 L1019.94 166.59 L1019.5 167.7 L1018.96 168.83 L1018.37 169.95 L1017.76 171.02 L1017.16 172.01 L1016.61 172.89 L1016.16 173.63 L1015.82 174.21" stroke="#ee1a12" stroke-width="2.2" stroke-linecap="butt"/>
<path d="M1013.84 174.97 L1014.14 175.82 L1014.53 176.9 L1015 178.18 L1015.51 179.61 L1016.07 181.16 L1016.65 182.8 L1017.24 184.48 L1017.81 186.18 L1018.36 187.85 L1018.87 189.45 L1019.37 191.11 L1019.89 192.93 L1020.42 194.84 L1020.95 196.8 L1021.47 198.74 L1021.97 200.61 L1022.42 202.35 L1022.83 203.9 L1023.18 205.21 L1023.45 206.22" stroke="#ee1a12" stroke-width="7.82" opacity="0.45" stroke-linecap="butt"/>
<path d="M1014.61 177.14 L1013.06 178.04 L1011.68 178.57 L1010.66 178.68 L1010.2 178.46 L1010.41 178" stroke="#b2130d" stroke-width="2.85"/>
<path d="M1020.25 179.19 L1020.39 180.63 L1019.87 182.15 L1018.8 183.6 L1017.37 184.83 L1015.81 185.74 L1014.41 186.24 L1013.39 186.34 L1012.92 186.08 L1013.14 185.62" stroke="#b2130d" stroke-width="2.85"/>
<path d="M1022.95 187.09 L1023.04 188.53 L1022.46 190.08 L1021.31 191.47 L1019.82 192.64 L1018.23 193.46 L1016.78 193.87 L1015.75 193.92 L1015.32 193.66 L1015.55 193.21" stroke="#b2130d" stroke-width="2.85"/>
<path d="M1025.27 195.13 L1025.3 196.58 L1024.66 198.05 L1023.48 199.42 L1021.95 200.53 L1020.33 201.31 L1018.89 201.7 L1017.87 201.73 L1017.43 201.46" stroke="#b2130d" stroke-width="2.85"/>
<path d="M1027.37 203.07 L1027.38 204.51 L1026.74 205.96 L1025.56 207.32 L1024.04 208.44" stroke="#b2130d" stroke-width="2.85"/>
<path d="M1010.2 178.46 L1010.41 178 L1011.27 177.44 L1012.67 176.94 L1014.44 176.65 L1016.33 176.7 L1018.09 177.15 L1019.45 177.99 L1020.25 179.19 L1020.39 180.63" stroke="#a0110c" stroke-width="3.8"/>
<path d="M1010.2 178.46 L1010.41 178 L1011.27 177.44 L1012.67 176.94 L1014.44 176.65 L1016.33 176.7 L1018.09 177.15 L1019.45 177.99 L1020.25 179.19 L1020.39 180.63" stroke="#ee1a12" stroke-width="3"/>
<path d="M1012.92 186.08 L1013.14 185.62 L1014 185.07 L1015.42 184.61 L1017.21 184.35 L1019.1 184.45 L1020.83 184.94 L1022.2 185.87 L1022.95 187.09 L1023.04 188.53" stroke="#a0110c" stroke-width="3.8"/>
<path d="M1012.92 186.08 L1013.14 185.62 L1014 185.07 L1015.42 184.61 L1017.21 184.35 L1019.1 184.45 L1020.83 184.94 L1022.2 185.87 L1022.95 187.09 L1023.04 188.53" stroke="#ee1a12" stroke-width="3"/>
<path d="M1015.32 193.66 L1015.55 193.21 L1016.45 192.68 L1017.89 192.3 L1019.67 192.15 L1021.57 192.35 L1023.27 192.93 L1024.56 193.88 L1025.27 195.13 L1025.3 196.58" stroke="#a0110c" stroke-width="3.8"/>
<path d="M1015.32 193.66 L1015.55 193.21 L1016.45 192.68 L1017.89 192.3 L1019.67 192.15 L1021.57 192.35 L1023.27 192.93 L1024.56 193.88 L1025.27 195.13 L1025.3 196.58" stroke="#ee1a12" stroke-width="3"/>
<path d="M1017.87 201.73 L1017.43 201.46 L1017.68 201.01 L1018.58 200.53 L1020.03 200.16 L1021.82 200.04 L1023.7 200.26 L1025.4 200.86 L1026.68 201.82 L1027.37 203.07 L1027.38 204.51" stroke="#a0110c" stroke-width="3.8"/>
<path d="M1017.87 201.73 L1017.43 201.46 L1017.68 201.01 L1018.58 200.53 L1020.03 200.16 L1021.82 200.04 L1023.7 200.26 L1025.4 200.86 L1026.68 201.82 L1027.37 203.07 L1027.38 204.51" stroke="#ee1a12" stroke-width="3"/>
<path d="M1008.2 208.51 L1009.43 208.6 L1011.06 208.77 L1013 208.97 L1015.16 209.17 L1017.45 209.34 L1019.78 209.44 L1022.06 209.42 L1024.21 209.27 L1026.28 208.9 L1028.38 208.32 L1030.51 207.61 L1032.64 206.84 L1034.77 206.09 L1036.87 205.43 L1038.95 204.94 L1040.98 204.7 L1042.97 204.68 L1044.95 204.8 L1046.9 205.05 L1048.84 205.41 L1050.74 205.87 L1052.61 206.43 L1054.43 207.06 L1056.22 207.74 L1058.04 208.59 L1059.92 209.66 L1061.82 210.87 L1063.65 212.13 L1065.37 213.36 L1066.9 214.5 L1068.19 215.44 L1069.18 216.13" stroke="#b2130d" stroke-width="4.3" stroke-linecap="butt"/>
<path d="M1008.2 208.51 L1009.43 208.6 L1011.06 208.77 L1013 208.97 L1015.16 209.17 L1017.45 209.34 L1019.78 209.44 L1022.06 209.42 L1024.21 209.27 L1026.28 208.9 L1028.38 208.32 L1030.51 207.61 L1032.64 206.84 L1034.77 206.09 L1036.87 205.43 L1038.95 204.94 L1040.98 204.7 L1042.97 204.68 L1044.95 204.8 L1046.9 205.05 L1048.84 205.41 L1050.74 205.87 L1052.61 206.43 L1054.43 207.06 L1056.22 207.74 L1058.04 208.59 L1059.92 209.66 L1061.82 210.87 L1063.65 212.13 L1065.37 213.36 L1066.9 214.5 L1068.19 215.44 L1069.18 216.13" stroke="#ee1a12" stroke-width="3.4" stroke-linecap="butt"/>
<path d="M1025.73 211.55 L1026.91 211.85 L1028.47 212.24 L1030.33 212.7 L1032.4 213.22 L1034.59 213.77 L1036.81 214.32 L1038.97 214.86 L1040.98 215.37 L1042.88 215.86 L1044.79 216.39 L1046.69 216.93 L1048.6 217.46 L1050.5 217.97 L1052.41 218.44 L1054.31 218.85 L1056.22 219.18 L1058.23 219.42 L1060.39 219.6 L1062.61 219.72 L1064.79 219.8 L1066.86 219.84 L1068.72 219.87 L1070.29 219.9 L1071.46 219.94" stroke="#b2130d" stroke-width="4.5" stroke-linecap="butt"/>
<path d="M1025.73 211.55 L1026.91 211.85 L1028.47 212.24 L1030.33 212.7 L1032.4 213.22 L1034.59 213.77 L1036.81 214.32 L1038.97 214.86 L1040.98 215.37 L1042.88 215.86 L1044.79 216.39 L1046.69 216.93 L1048.6 217.46 L1050.5 217.97 L1052.41 218.44 L1054.31 218.85 L1056.22 219.18 L1058.23 219.42 L1060.39 219.6 L1062.61 219.72 L1064.79 219.8 L1066.86 219.84 L1068.72 219.87 L1070.29 219.9 L1071.46 219.94" stroke="#ee1a12" stroke-width="3.6" stroke-linecap="butt"/>
<path d="M1024.21 209.27 L1025.06 209.1 L1026.23 208.93 L1027.63 208.75 L1029.16 208.51 L1030.74 208.17 L1032.28 207.7 L1033.69 207.06 L1034.88 206.22 L1035.9 205.05 L1036.87 203.53 L1037.77 201.78 L1038.59 199.93 L1039.34 198.11 L1039.99 196.43 L1040.54 195.03 L1040.98 194.02" stroke="#ac100b" stroke-width="2.3" stroke-linecap="butt"/>
<path d="M1024.21 209.27 L1025.06 209.1 L1026.23 208.93 L1027.63 208.75 L1029.16 208.51 L1030.74 208.17 L1032.28 207.7 L1033.69 207.06 L1034.88 206.22 L1035.9 205.05 L1036.87 203.53 L1037.77 201.78 L1038.59 199.93 L1039.34 198.11 L1039.99 196.43 L1040.54 195.03 L1040.98 194.02" stroke="#d8140e" stroke-width="1.4" stroke-linecap="butt"/>
<line x1="1025.73" y1="183.35" x2="1031.83" y2="187.93" stroke="#5a6ad8" stroke-width="0.8" />
<line x1="1031.83" y1="187.93" x2="1030.3" y2="194.02" stroke="#8a8a9a" stroke-width="0.8" />
<line x1="1027.26" y1="190.98" x2="1034.88" y2="192.5" stroke="#d84a4a" stroke-width="0.8" />
<line x1="1022.68" y1="198.6" x2="1028.78" y2="201.65" stroke="#5a6ad8" stroke-width="0.8" />
<line x1="1018.11" y1="215.37" x2="1024.21" y2="217.65" stroke="#9a9aa8" stroke-width="0.8" />
<line x1="1021.16" y1="217.65" x2="1025.73" y2="212.32" stroke="#9a9aa8" stroke-width="0.8" />
<line x1="1037.93" y1="190.98" x2="1045.55" y2="190.21" stroke="#d8a040" stroke-width="0.8" />
<line x1="1040.21" y1="188.69" x2="1043.26" y2="192.8" stroke="#48c0a0" stroke-width="0.8" />
<path d="M1013.84 224.82 l2.6 0.6 l-1.6 2.6 z" stroke="#e03030" stroke-width="0.8"/>
</g>
<g id="panelBlabels">
<rect x="935.35" y="91.45" width="8.3" height="8.3" fill="none" stroke="#ee1c25" stroke-width="1.1" transform="rotate(-30 939.5 95.6)"/>
<rect x="953.65" y="85.05" width="8.3" height="8.3" fill="none" stroke="#ee1c25" stroke-width="1.1" transform="rotate(-30 957.8 89.2)"/>
<rect x="957.45" y="123.45" width="8.3" height="8.3" fill="none" stroke="#ee1c25" stroke-width="1.1" transform="rotate(-30 961.6 127.6)"/>
<rect x="930.4" y="138.1" width="4.4" height="8.6" fill="none" stroke="#ee1c25" stroke-width="1.1" transform="rotate(-30 932.6 142.4)"/>
<rect x="934" y="136.3" width="4.4" height="8.6" fill="none" stroke="#ee1c25" stroke-width="1.1" transform="rotate(-30 936.2 140.6)"/>
<rect x="1037.45" y="153.65" width="8.3" height="8.3" fill="none" stroke="#ee1c25" stroke-width="1.1" transform="rotate(-30 1041.6 157.8)"/>
<rect x="1056.25" y="187.45" width="8.3" height="8.3" fill="none" stroke="#ee1c25" stroke-width="1.1" transform="rotate(-30 1060.4 191.6)"/>
<text x="891.4" y="99.2" font-size="13.5" fill="#000" >E176A</text>
<text x="969.6" y="93.8" font-size="13.5" fill="#000" >K238R</text>
<text x="969.6" y="131" font-size="13.5" fill="#000" >N164Y</text>
<text x="885.8" y="152.3" font-size="13.5" fill="#000" >E563R</text>
<text x="943.4" y="152.3" font-size="13.5" fill="#000" >T447R</text>
<text x="1052.6" y="161.3" font-size="13.5" fill="#000" >E323R</text>
<text x="1069.8" y="196.2" font-size="13.5" fill="#000" >D362R</text>
</g>
<g id="panelC">
<line x1="1184.4" y1="48" x2="1184.4" y2="234.85" stroke="#0a0a0a" stroke-width="1.3" />
<line x1="1183.75" y1="234.2" x2="1489" y2="234.2" stroke="#0a0a0a" stroke-width="1.3" />
<line x1="1176.9" y1="231.6" x2="1184.4" y2="231.6" stroke="#0a0a0a" stroke-width="1.3" />
<text x="1170.9" y="234.6" font-size="15.2" fill="#111" text-anchor="end" >0</text>
<line x1="1176.9" y1="195" x2="1184.4" y2="195" stroke="#0a0a0a" stroke-width="1.3" />
<text x="1170.9" y="198" font-size="15.2" fill="#111" text-anchor="end" >1</text>
<line x1="1176.9" y1="158.4" x2="1184.4" y2="158.4" stroke="#0a0a0a" stroke-width="1.3" />
<text x="1170.9" y="161.4" font-size="15.2" fill="#111" text-anchor="end" >2</text>
<line x1="1176.9" y1="121.8" x2="1184.4" y2="121.8" stroke="#0a0a0a" stroke-width="1.3" />
<text x="1170.9" y="124.8" font-size="15.2" fill="#111" text-anchor="end" >3</text>
<line x1="1176.9" y1="85.2" x2="1184.4" y2="85.2" stroke="#0a0a0a" stroke-width="1.3" />
<text x="1170.9" y="88.2" font-size="15.2" fill="#111" text-anchor="end" >4</text>
<line x1="1176.9" y1="48.6" x2="1184.4" y2="48.6" stroke="#0a0a0a" stroke-width="1.3" />
<text x="1170.9" y="51.6" font-size="15.2" fill="#111" text-anchor="end" >5</text>
<text transform="translate(1143.5,123.5) rotate(-90)" font-size="20.8" text-anchor="middle" fill="#111">Mutation (%)</text>
<rect x="1198.6" y="44" width="18.4" height="18.4" fill="#dcdddd" stroke="#0a0a0a" stroke-width="1.3" />
<rect x="1198.6" y="75.9" width="18.4" height="18.4" fill="#b8cfda" stroke="#0a0a0a" stroke-width="1.3" />
<text x="1225.3" y="56.2" font-size="16" fill="#111" >control</text>
<text x="1225.3" y="88.6" font-size="16" fill="#111" >Cas12i1</text>
<line x1="1225.2" y1="234.2" x2="1225.2" y2="240.8" stroke="#0a0a0a" stroke-width="1.3" />
<rect x="1204.4" y="204.15" width="20.8" height="30.05" fill="#dcdddd" stroke="#0a0a0a" stroke-width="1.2" />
<rect x="1225.2" y="197.93" width="20.8" height="36.27" fill="#b8cfda" stroke="#0a0a0a" stroke-width="1.2" />
<circle cx="1214.5" cy="204.15" r="3.6" fill="#000"/>
<circle cx="1231.7" cy="196.83" r="3.6" fill="#000"/>
<circle cx="1235.8" cy="199.39" r="3.6" fill="#000"/>
<circle cx="1240.4" cy="197.56" r="3.6" fill="#000"/>
<text transform="translate(1233.5,254.9) rotate(-45)" font-size="14.6" text-anchor="end" fill="#111">Os<tspan font-style="italic">DEP1</tspan>-cR01</text>
<line x1="1298.1" y1="234.2" x2="1298.1" y2="240.8" stroke="#0a0a0a" stroke-width="1.3" />
<line x1="1277.1" y1="233.4" x2="1301.1" y2="233.4" stroke="#0a0a0a" stroke-width="1.2" />
<circle cx="1287.8" cy="233.25" r="3.6" fill="#000"/>
<circle cx="1301.8" cy="233.25" r="3.6" fill="#000"/>
<circle cx="1309.1" cy="233.25" r="3.6" fill="#000"/>
<circle cx="1317.5" cy="233.25" r="3.6" fill="#000"/>
<text transform="translate(1313.1,255.7) rotate(-45)" font-size="14.6" text-anchor="end" fill="#111">Os<tspan font-style="italic">DEP1</tspan>-L6</text>
<line x1="1374" y1="234.2" x2="1374" y2="240.8" stroke="#0a0a0a" stroke-width="1.3" />
<rect x="1353.2" y="219.16" width="20.8" height="15.04" fill="#dcdddd" stroke="#0a0a0a" stroke-width="1.2" />
<rect x="1374" y="210.01" width="20.8" height="24.19" fill="#b8cfda" stroke="#0a0a0a" stroke-width="1.2" />
<line x1="1383.7" y1="202.69" x2="1383.7" y2="217.69" stroke="#0a0a0a" stroke-width="1.3" />
<line x1="1380.2" y1="202.69" x2="1387.2" y2="202.69" stroke="#0a0a0a" stroke-width="1.3" />
<line x1="1380.2" y1="217.69" x2="1387.2" y2="217.69" stroke="#0a0a0a" stroke-width="1.3" />
<circle cx="1364.1" cy="219.52" r="3.6" fill="#000"/>
<circle cx="1383.7" cy="203.05" r="3.6" fill="#000"/>
<circle cx="1383.7" cy="209.64" r="3.6" fill="#000"/>
<circle cx="1383.7" cy="218.42" r="3.6" fill="#000"/>
<text transform="translate(1384.4,254.3) rotate(-45)" font-size="14.6" text-anchor="end" fill="#111">Os<tspan font-style="italic">DEP1</tspan>-cR02</text>
<line x1="1448.4" y1="234.2" x2="1448.4" y2="240.8" stroke="#0a0a0a" stroke-width="1.3" />
<rect x="1427.6" y="230.5" width="20.8" height="3.7" fill="#dcdddd" stroke="#0a0a0a" stroke-width="1.2" />
<rect x="1448.4" y="223.18" width="20.8" height="11.02" fill="#b8cfda" stroke="#0a0a0a" stroke-width="1.2" />
<circle cx="1438" cy="230.5" r="3.6" fill="#000"/>
<circle cx="1454" cy="224.65" r="3.6" fill="#000"/>
<circle cx="1458.3" cy="221.35" r="3.6" fill="#000"/>
<circle cx="1463.2" cy="224.28" r="3.6" fill="#000"/>
<text transform="translate(1452.4,255.9) rotate(-45)" font-size="14.6" text-anchor="end" fill="#111">Os<tspan font-style="italic">ROC5</tspan>-cR01</text>
</g>
<g id="panelD">
<line x1="66.5" y1="338.5" x2="66.5" y2="563.25" stroke="#0a0a0a" stroke-width="1.5" />
<line x1="65.75" y1="562.5" x2="908.2" y2="562.5" stroke="#0a0a0a" stroke-width="1.5" />
<line x1="58" y1="562.5" x2="66.5" y2="562.5" stroke="#0a0a0a" stroke-width="1.5" />
<text x="56" y="569.1" font-size="18.8" fill="#000" text-anchor="end" >0</text>
<line x1="58" y1="506.6" x2="66.5" y2="506.6" stroke="#0a0a0a" stroke-width="1.5" />
<text x="56" y="513.2" font-size="18.8" fill="#000" text-anchor="end" >10</text>
<line x1="58" y1="450.7" x2="66.5" y2="450.7" stroke="#0a0a0a" stroke-width="1.5" />
<text x="56" y="457.3" font-size="18.8" fill="#000" text-anchor="end" >20</text>
<line x1="58" y1="394.8" x2="66.5" y2="394.8" stroke="#0a0a0a" stroke-width="1.5" />
<text x="56" y="401.4" font-size="18.8" fill="#000" text-anchor="end" >30</text>
<line x1="58" y1="338.9" x2="66.5" y2="338.9" stroke="#0a0a0a" stroke-width="1.5" />
<text x="56" y="345.5" font-size="18.8" fill="#000" text-anchor="end" >40</text>
<text transform="translate(19.5,439.5) rotate(-90)" font-size="22.8" text-anchor="middle" fill="#000">Mutation (%)</text>
<rect x="94.2" y="343" width="20" height="20" fill="#dcdddd" stroke="#0a0a0a" stroke-width="1.4" />
<rect x="94.2" y="377.4" width="20" height="20" fill="#6e9fb1" stroke="#0a0a0a" stroke-width="1.4" />
<rect x="94.2" y="412" width="20" height="20" fill="#e4a3a6" stroke="#0a0a0a" stroke-width="1.4" />
<text x="123.6" y="355.6" font-size="17.9" fill="#000" >control</text>
<text x="123.6" y="392.2" font-size="18" fill="#000" >Cas12i2</text>
<text x="123.6" y="427.8" font-size="18.1" fill="#231815">Cas12i2<tspan font-size="10.8" font-style="italic" dy="-5.6" dx="1.2">Max</tspan></text>
<line x1="95.8" y1="562.5" x2="95.8" y2="568.1" stroke="#0a0a0a" stroke-width="1.4" />
<rect x="73.75" y="561.66" width="14.7" height="0.84" fill="#dcdddd" stroke="#0a0a0a" stroke-width="1.3" />
<rect x="88.45" y="545.17" width="14.7" height="17.33" fill="#6e9fb1" stroke="#0a0a0a" stroke-width="1.3" />
<rect x="103.15" y="507.89" width="14.7" height="54.61" fill="#e4a3a6" stroke="#0a0a0a" stroke-width="1.3" />
<line x1="95.8" y1="535.67" x2="95.8" y2="554.12" stroke="#0a0a0a" stroke-width="1.3" />
<line x1="93.5" y1="535.67" x2="98.1" y2="535.67" stroke="#0a0a0a" stroke-width="1.3" />
<line x1="93.5" y1="554.12" x2="98.1" y2="554.12" stroke="#0a0a0a" stroke-width="1.3" />
<line x1="110.5" y1="488.71" x2="110.5" y2="527.84" stroke="#0a0a0a" stroke-width="1.3" />
<line x1="108.2" y1="488.71" x2="112.8" y2="488.71" stroke="#0a0a0a" stroke-width="1.3" />
<line x1="108.2" y1="527.84" x2="112.8" y2="527.84" stroke="#0a0a0a" stroke-width="1.3" />
<circle cx="81.1" cy="560.82" r="3" fill="#000"/>
<circle cx="95.8" cy="535.95" r="3.1" fill="#000"/>
<circle cx="95.8" cy="545.73" r="3.1" fill="#000"/>
<circle cx="95.8" cy="553.56" r="3.1" fill="#000"/>
<circle cx="110.5" cy="492.62" r="3.1" fill="#000"/>
<circle cx="110.5" cy="501.57" r="3.1" fill="#000"/>
<circle cx="110.5" cy="528.12" r="3.1" fill="#000"/>
<text transform="translate(100.8,580.5) rotate(-45)" font-size="15.2" text-anchor="end" fill="#111">AA01</text>
<line x1="148.35" y1="562.5" x2="148.35" y2="568.1" stroke="#0a0a0a" stroke-width="1.4" />
<rect x="126.3" y="561.94" width="14.7" height="0.56" fill="#dcdddd" stroke="#0a0a0a" stroke-width="1.3" />
<rect x="141" y="559.26" width="14.7" height="3.24" fill="#6e9fb1" stroke="#0a0a0a" stroke-width="1.3" />
<rect x="155.7" y="552.44" width="14.7" height="10.06" fill="#e4a3a6" stroke="#0a0a0a" stroke-width="1.3" />
<line x1="163.05" y1="549.64" x2="163.05" y2="555.23" stroke="#0a0a0a" stroke-width="1.3" />
<line x1="160.75" y1="549.64" x2="165.35" y2="549.64" stroke="#0a0a0a" stroke-width="1.3" />
<line x1="160.75" y1="555.23" x2="165.35" y2="555.23" stroke="#0a0a0a" stroke-width="1.3" />
<circle cx="133.65" cy="561.1" r="3" fill="#000"/>
<circle cx="145.85" cy="558.31" r="3.1" fill="#000"/>
<circle cx="148.85" cy="557.75" r="3.1" fill="#000"/>
<circle cx="151.35" cy="558.31" r="3.1" fill="#000"/>
<circle cx="160.55" cy="554.67" r="3.1" fill="#000"/>
<circle cx="163.55" cy="549.36" r="3.1" fill="#000"/>
<circle cx="166.55" cy="551.6" r="3.1" fill="#000"/>
<text transform="translate(153.35,580.5) rotate(-45)" font-size="15.2" text-anchor="end" fill="#111">TA01</text>
<line x1="200.9" y1="562.5" x2="200.9" y2="568.1" stroke="#0a0a0a" stroke-width="1.4" />
<rect x="178.85" y="561.94" width="14.7" height="0.56" fill="#dcdddd" stroke="#0a0a0a" stroke-width="1.3" />
<rect x="193.55" y="561.1" width="14.7" height="1.4" fill="#6e9fb1" stroke="#0a0a0a" stroke-width="1.3" />
<rect x="208.25" y="505.48" width="14.7" height="57.02" fill="#e4a3a6" stroke="#0a0a0a" stroke-width="1.3" />
<line x1="215.6" y1="494.86" x2="215.6" y2="513.87" stroke="#0a0a0a" stroke-width="1.3" />
<line x1="213.3" y1="494.86" x2="217.9" y2="494.86" stroke="#0a0a0a" stroke-width="1.3" />
<line x1="213.3" y1="513.87" x2="217.9" y2="513.87" stroke="#0a0a0a" stroke-width="1.3" />
<circle cx="186.2" cy="561.1" r="3" fill="#000"/>
<circle cx="198.7" cy="561.38" r="3.1" fill="#000"/>
<circle cx="202.1" cy="559.98" r="3.1" fill="#000"/>
<circle cx="203.9" cy="561.1" r="3.1" fill="#000"/>
<circle cx="215.6" cy="497.66" r="3.1" fill="#000"/>
<circle cx="215.6" cy="512.19" r="3.1" fill="#000"/>
<text transform="translate(205.9,580.5) rotate(-45)" font-size="15.2" text-anchor="end" fill="#111">CA02</text>
<line x1="253.45" y1="562.5" x2="253.45" y2="568.1" stroke="#0a0a0a" stroke-width="1.4" />
<rect x="246.1" y="554.84" width="14.7" height="7.66" fill="#6e9fb1" stroke="#0a0a0a" stroke-width="1.3" />
<rect x="260.8" y="549.25" width="14.7" height="13.25" fill="#e4a3a6" stroke="#0a0a0a" stroke-width="1.3" />
<line x1="268.15" y1="544.05" x2="268.15" y2="553.56" stroke="#0a0a0a" stroke-width="1.3" />
<line x1="265.85" y1="544.05" x2="270.45" y2="544.05" stroke="#0a0a0a" stroke-width="1.3" />
<line x1="265.85" y1="553.56" x2="270.45" y2="553.56" stroke="#0a0a0a" stroke-width="1.3" />
<circle cx="238.75" cy="562.22" r="3" fill="#000"/>
<circle cx="250.45" cy="555.23" r="3.1" fill="#000"/>
<circle cx="253.75" cy="552.16" r="3.1" fill="#000"/>
<circle cx="256.65" cy="554.67" r="3.1" fill="#000"/>
<circle cx="265.65" cy="542.66" r="3.1" fill="#000"/>
<circle cx="270.65" cy="546.01" r="3.1" fill="#000"/>
<circle cx="268.15" cy="552.72" r="3.1" fill="#000"/>
<text transform="translate(258.45,580.5) rotate(-45)" font-size="15.2" text-anchor="end" fill="#111">GA01</text>
<line x1="306" y1="562.5" x2="306" y2="568.1" stroke="#0a0a0a" stroke-width="1.4" />
<rect x="298.65" y="522.59" width="14.7" height="39.91" fill="#6e9fb1" stroke="#0a0a0a" stroke-width="1.3" />
<rect x="313.35" y="479.88" width="14.7" height="82.62" fill="#e4a3a6" stroke="#0a0a0a" stroke-width="1.3" />
<line x1="306" y1="503.81" x2="306" y2="537.9" stroke="#0a0a0a" stroke-width="1.3" />
<line x1="303.7" y1="503.81" x2="308.3" y2="503.81" stroke="#0a0a0a" stroke-width="1.3" />
<line x1="303.7" y1="537.9" x2="308.3" y2="537.9" stroke="#0a0a0a" stroke-width="1.3" />
<line x1="320.7" y1="444.55" x2="320.7" y2="513.87" stroke="#0a0a0a" stroke-width="1.3" />
<line x1="318.4" y1="444.55" x2="323" y2="444.55" stroke="#0a0a0a" stroke-width="1.3" />
<line x1="318.4" y1="513.87" x2="323" y2="513.87" stroke="#0a0a0a" stroke-width="1.3" />
<circle cx="291.3" cy="561.94" r="3" fill="#000"/>
<circle cx="306" cy="503.81" r="3.1" fill="#000"/>
<circle cx="306" cy="523.93" r="3.1" fill="#000"/>
<circle cx="306" cy="538.13" r="3.1" fill="#000"/>
<circle cx="320.7" cy="441.76" r="3.1" fill="#000"/>
<circle cx="320.7" cy="488.71" r="3.1" fill="#000"/>
<circle cx="320.7" cy="508.84" r="3.1" fill="#000"/>
<text transform="translate(311,580.5) rotate(-45)" font-size="15.2" text-anchor="end" fill="#111">AT01</text>
<line x1="358.55" y1="562.5" x2="358.55" y2="568.1" stroke="#0a0a0a" stroke-width="1.4" />
<rect x="351.2" y="561.66" width="14.7" height="0.84" fill="#6e9fb1" stroke="#0a0a0a" stroke-width="1.3" />
<rect x="365.9" y="526.56" width="14.7" height="35.94" fill="#e4a3a6" stroke="#0a0a0a" stroke-width="1.3" />
<line x1="373.25" y1="515.26" x2="373.25" y2="536.79" stroke="#0a0a0a" stroke-width="1.3" />
<line x1="370.95" y1="515.26" x2="375.55" y2="515.26" stroke="#0a0a0a" stroke-width="1.3" />
<line x1="370.95" y1="536.79" x2="375.55" y2="536.79" stroke="#0a0a0a" stroke-width="1.3" />
<circle cx="343.85" cy="561.94" r="3" fill="#000"/>
<circle cx="357.05" cy="561.66" r="3.1" fill="#000"/>
<circle cx="360.05" cy="560.26" r="3.1" fill="#000"/>
<circle cx="373.25" cy="515.32" r="3.1" fill="#000"/>
<circle cx="373.25" cy="525.61" r="3.1" fill="#000"/>
<circle cx="373.25" cy="536.39" r="3.1" fill="#000"/>
<text transform="translate(363.55,580.5) rotate(-45)" font-size="15.2" text-anchor="end" fill="#111">TT01</text>
<line x1="411.1" y1="562.5" x2="411.1" y2="568.1" stroke="#0a0a0a" stroke-width="1.4" />
<rect x="389.05" y="558.87" width="14.7" height="3.63" fill="#dcdddd" stroke="#0a0a0a" stroke-width="1.3" />
<rect x="403.75" y="517.05" width="14.7" height="45.45" fill="#6e9fb1" stroke="#0a0a0a" stroke-width="1.3" />
<rect x="418.45" y="511.35" width="14.7" height="51.15" fill="#e4a3a6" stroke="#0a0a0a" stroke-width="1.3" />
<line x1="411.1" y1="502.13" x2="411.1" y2="528.4" stroke="#0a0a0a" stroke-width="1.3" />
<line x1="408.8" y1="502.13" x2="413.4" y2="502.13" stroke="#0a0a0a" stroke-width="1.3" />
<line x1="408.8" y1="528.4" x2="413.4" y2="528.4" stroke="#0a0a0a" stroke-width="1.3" />
<line x1="425.8" y1="492.07" x2="425.8" y2="527.28" stroke="#0a0a0a" stroke-width="1.3" />
<line x1="423.5" y1="492.07" x2="428.1" y2="492.07" stroke="#0a0a0a" stroke-width="1.3" />
<line x1="423.5" y1="527.28" x2="428.1" y2="527.28" stroke="#0a0a0a" stroke-width="1.3" />
<circle cx="396.4" cy="558.03" r="3" fill="#000"/>
<circle cx="411.1" cy="502.35" r="3.1" fill="#000"/>
<circle cx="409.1" cy="523.93" r="3.1" fill="#000"/>
<circle cx="413.5" cy="522.25" r="3.1" fill="#000"/>
<circle cx="425.8" cy="492.07" r="3.1" fill="#000"/>
<circle cx="424" cy="522.25" r="3.1" fill="#000"/>
<circle cx="427.8" cy="518.9" r="3.1" fill="#000"/>
<text transform="translate(416.1,580.5) rotate(-45)" font-size="15.2" text-anchor="end" fill="#111">CT01</text>
<line x1="463.65" y1="562.5" x2="463.65" y2="568.1" stroke="#0a0a0a" stroke-width="1.4" />
<rect x="441.6" y="561.94" width="14.7" height="0.56" fill="#dcdddd" stroke="#0a0a0a" stroke-width="1.3" />
<rect x="456.3" y="551.88" width="14.7" height="10.62" fill="#6e9fb1" stroke="#0a0a0a" stroke-width="1.3" />
<rect x="471" y="535.11" width="14.7" height="27.39" fill="#e4a3a6" stroke="#0a0a0a" stroke-width="1.3" />
<line x1="478.35" y1="524.49" x2="478.35" y2="544.05" stroke="#0a0a0a" stroke-width="1.3" />
<line x1="476.05" y1="524.49" x2="480.65" y2="524.49" stroke="#0a0a0a" stroke-width="1.3" />
<line x1="476.05" y1="544.05" x2="480.65" y2="544.05" stroke="#0a0a0a" stroke-width="1.3" />
<circle cx="448.95" cy="561.1" r="3" fill="#000"/>
<circle cx="460.75" cy="552.44" r="3.1" fill="#000"/>
<circle cx="463.85" cy="548.25" r="3.1" fill="#000"/>
<circle cx="466.05" cy="552.44" r="3.1" fill="#000"/>
<circle cx="478.35" cy="524.49" r="3.1" fill="#000"/>
<circle cx="478.35" cy="536.79" r="3.1" fill="#000"/>
<circle cx="478.35" cy="544.05" r="3.1" fill="#000"/>
<text transform="translate(468.65,580.5) rotate(-45)" font-size="15.2" text-anchor="end" fill="#111">GT01</text>
<line x1="516.2" y1="562.5" x2="516.2" y2="568.1" stroke="#0a0a0a" stroke-width="1.4" />
<rect x="494.15" y="561.94" width="14.7" height="0.56" fill="#dcdddd" stroke="#0a0a0a" stroke-width="1.3" />
<rect x="508.85" y="514.99" width="14.7" height="47.51" fill="#6e9fb1" stroke="#0a0a0a" stroke-width="1.3" />
<rect x="523.55" y="478.09" width="14.7" height="84.41" fill="#e4a3a6" stroke="#0a0a0a" stroke-width="1.3" />
<line x1="516.2" y1="507.16" x2="516.2" y2="520.58" stroke="#0a0a0a" stroke-width="1.3" />
<line x1="513.9" y1="507.16" x2="518.5" y2="507.16" stroke="#0a0a0a" stroke-width="1.3" />
<line x1="513.9" y1="520.58" x2="518.5" y2="520.58" stroke="#0a0a0a" stroke-width="1.3" />
<line x1="530.9" y1="441.76" x2="530.9" y2="510.51" stroke="#0a0a0a" stroke-width="1.3" />
<line x1="528.6" y1="441.76" x2="533.2" y2="441.76" stroke="#0a0a0a" stroke-width="1.3" />
<line x1="528.6" y1="510.51" x2="533.2" y2="510.51" stroke="#0a0a0a" stroke-width="1.3" />
<circle cx="501.5" cy="561.38" r="3" fill="#000"/>
<circle cx="516.2" cy="507.38" r="3.1" fill="#000"/>
<circle cx="514.7" cy="520.58" r="3.1" fill="#000"/>
<circle cx="519.2" cy="516.27" r="3.1" fill="#000"/>
<circle cx="530.9" cy="441.76" r="3.1" fill="#000"/>
<circle cx="530.9" cy="483.12" r="3.1" fill="#000"/>
<circle cx="530.9" cy="509.39" r="3.1" fill="#000"/>
<text transform="translate(521.2,580.5) rotate(-45)" font-size="15.2" text-anchor="end" fill="#111">AC01</text>
<line x1="568.75" y1="562.5" x2="568.75" y2="568.1" stroke="#0a0a0a" stroke-width="1.4" />
<rect x="546.7" y="561.94" width="14.7" height="0.56" fill="#dcdddd" stroke="#0a0a0a" stroke-width="1.3" />
<rect x="561.4" y="544.22" width="14.7" height="18.28" fill="#6e9fb1" stroke="#0a0a0a" stroke-width="1.3" />
<rect x="576.1" y="545.17" width="14.7" height="17.33" fill="#e4a3a6" stroke="#0a0a0a" stroke-width="1.3" />
<line x1="568.75" y1="539.02" x2="568.75" y2="549.64" stroke="#0a0a0a" stroke-width="1.3" />
<line x1="566.45" y1="539.02" x2="571.05" y2="539.02" stroke="#0a0a0a" stroke-width="1.3" />
<line x1="566.45" y1="549.64" x2="571.05" y2="549.64" stroke="#0a0a0a" stroke-width="1.3" />
<line x1="583.45" y1="536.23" x2="583.45" y2="550.76" stroke="#0a0a0a" stroke-width="1.3" />
<line x1="581.15" y1="536.23" x2="585.75" y2="536.23" stroke="#0a0a0a" stroke-width="1.3" />
<line x1="581.15" y1="550.76" x2="585.75" y2="550.76" stroke="#0a0a0a" stroke-width="1.3" />
<circle cx="554.05" cy="561.38" r="3" fill="#000"/>
<circle cx="568.75" cy="539.02" r="3.1" fill="#000"/>
<circle cx="566.75" cy="549.08" r="3.1" fill="#000"/>
<circle cx="571.25" cy="544.61" r="3.1" fill="#000"/>
<circle cx="583.45" cy="536.23" r="3.1" fill="#000"/>
<circle cx="583.45" cy="545.73" r="3.1" fill="#000"/>
<circle cx="583.45" cy="550.76" r="3.1" fill="#000"/>
<text transform="translate(573.75,580.5) rotate(-45)" font-size="15.2" text-anchor="end" fill="#111">TC01</text>
<line x1="621.3" y1="562.5" x2="621.3" y2="568.1" stroke="#0a0a0a" stroke-width="1.4" />
<rect x="599.25" y="544.22" width="14.7" height="18.28" fill="#dcdddd" stroke="#0a0a0a" stroke-width="1.3" />
<rect x="613.95" y="403.74" width="14.7" height="158.76" fill="#6e9fb1" stroke="#0a0a0a" stroke-width="1.3" />
<rect x="628.65" y="473.62" width="14.7" height="88.88" fill="#e4a3a6" stroke="#0a0a0a" stroke-width="1.3" />
<line x1="621.3" y1="362.38" x2="621.3" y2="439.52" stroke="#0a0a0a" stroke-width="1.3" />
<line x1="619" y1="362.38" x2="623.6" y2="362.38" stroke="#0a0a0a" stroke-width="1.3" />
<line x1="619" y1="439.52" x2="623.6" y2="439.52" stroke="#0a0a0a" stroke-width="1.3" />
<line x1="636" y1="454.61" x2="636" y2="495.7" stroke="#0a0a0a" stroke-width="1.3" />
<line x1="633.7" y1="454.61" x2="638.3" y2="454.61" stroke="#0a0a0a" stroke-width="1.3" />
<line x1="633.7" y1="495.7" x2="638.3" y2="495.7" stroke="#0a0a0a" stroke-width="1.3" />
<circle cx="606.6" cy="544.05" r="3" fill="#000"/>
<circle cx="621.3" cy="362.38" r="3.1" fill="#000"/>
<circle cx="621.3" cy="409.33" r="3.1" fill="#000"/>
<circle cx="621.3" cy="436.73" r="3.1" fill="#000"/>
<circle cx="636" cy="455.17" r="3.1" fill="#000"/>
<circle cx="636" cy="469.71" r="3.1" fill="#000"/>
<circle cx="636" cy="495.7" r="3.1" fill="#000"/>
<text transform="translate(626.3,580.5) rotate(-45)" font-size="15.2" text-anchor="end" fill="#111">CC21</text>
<line x1="673.85" y1="562.5" x2="673.85" y2="568.1" stroke="#0a0a0a" stroke-width="1.4" />
<rect x="666.5" y="525.61" width="14.7" height="36.89" fill="#6e9fb1" stroke="#0a0a0a" stroke-width="1.3" />
<rect x="681.2" y="552.83" width="14.7" height="9.67" fill="#e4a3a6" stroke="#0a0a0a" stroke-width="1.3" />
<line x1="673.85" y1="520.02" x2="673.85" y2="530.64" stroke="#0a0a0a" stroke-width="1.3" />
<line x1="671.55" y1="520.02" x2="676.15" y2="520.02" stroke="#0a0a0a" stroke-width="1.3" />
<line x1="671.55" y1="530.64" x2="676.15" y2="530.64" stroke="#0a0a0a" stroke-width="1.3" />
<circle cx="659.15" cy="561.94" r="3" fill="#000"/>
<circle cx="671.85" cy="520.02" r="3.1" fill="#000"/>
<circle cx="675.15" cy="525.05" r="3.1" fill="#000"/>
<circle cx="673.85" cy="530.64" r="3.1" fill="#000"/>
<circle cx="688.55" cy="550.76" r="3.1" fill="#000"/>
<circle cx="686.05" cy="554.67" r="3.1" fill="#000"/>
<circle cx="690.55" cy="552.44" r="3.1" fill="#000"/>
<text transform="translate(678.85,580.5) rotate(-45)" font-size="15.2" text-anchor="end" fill="#111">GC01</text>
<line x1="726.4" y1="562.5" x2="726.4" y2="568.1" stroke="#0a0a0a" stroke-width="1.4" />
<rect x="704.35" y="558.48" width="14.7" height="4.02" fill="#dcdddd" stroke="#0a0a0a" stroke-width="1.3" />
<rect x="719.05" y="551.54" width="14.7" height="10.96" fill="#6e9fb1" stroke="#0a0a0a" stroke-width="1.3" />
<rect x="733.75" y="497.94" width="14.7" height="64.56" fill="#e4a3a6" stroke="#0a0a0a" stroke-width="1.3" />
<line x1="741.1" y1="473.06" x2="741.1" y2="520.02" stroke="#0a0a0a" stroke-width="1.3" />
<line x1="738.8" y1="473.06" x2="743.4" y2="473.06" stroke="#0a0a0a" stroke-width="1.3" />
<line x1="738.8" y1="520.02" x2="743.4" y2="520.02" stroke="#0a0a0a" stroke-width="1.3" />
<circle cx="711.7" cy="558.03" r="3" fill="#000"/>
<circle cx="723.4" cy="553.28" r="3.1" fill="#000"/>
<circle cx="726.4" cy="549.64" r="3.1" fill="#000"/>
<circle cx="728.6" cy="551.88" r="3.1" fill="#000"/>
<circle cx="741.1" cy="473.06" r="3.1" fill="#000"/>
<circle cx="741.1" cy="501.29" r="3.1" fill="#000"/>
<circle cx="741.1" cy="518.9" r="3.1" fill="#000"/>
<text transform="translate(731.4,580.5) rotate(-45)" font-size="15.2" text-anchor="end" fill="#111">AG06</text>
<line x1="778.95" y1="562.5" x2="778.95" y2="568.1" stroke="#0a0a0a" stroke-width="1.4" />
<rect x="771.6" y="549.08" width="14.7" height="13.42" fill="#6e9fb1" stroke="#0a0a0a" stroke-width="1.3" />
<rect x="786.3" y="522.48" width="14.7" height="40.02" fill="#e4a3a6" stroke="#0a0a0a" stroke-width="1.3" />
<line x1="793.65" y1="501.57" x2="793.65" y2="539.58" stroke="#0a0a0a" stroke-width="1.3" />
<line x1="791.35" y1="501.57" x2="795.95" y2="501.57" stroke="#0a0a0a" stroke-width="1.3" />
<line x1="791.35" y1="539.58" x2="795.95" y2="539.58" stroke="#0a0a0a" stroke-width="1.3" />
<circle cx="764.25" cy="561.94" r="3" fill="#000"/>
<circle cx="776.75" cy="549.08" r="3.1" fill="#000"/>
<circle cx="779.65" cy="548.52" r="3.1" fill="#000"/>
<circle cx="782.35" cy="548.52" r="3.1" fill="#000"/>
<circle cx="793.65" cy="501.57" r="3.1" fill="#000"/>
<circle cx="793.65" cy="528.96" r="3.1" fill="#000"/>
<circle cx="793.65" cy="535.67" r="3.1" fill="#000"/>
<text transform="translate(783.95,580.5) rotate(-45)" font-size="15.2" text-anchor="end" fill="#111">TG01</text>
<line x1="831.5" y1="562.5" x2="831.5" y2="568.1" stroke="#0a0a0a" stroke-width="1.4" />
<rect x="809.45" y="559.37" width="14.7" height="3.13" fill="#dcdddd" stroke="#0a0a0a" stroke-width="1.3" />
<rect x="824.15" y="513.53" width="14.7" height="48.97" fill="#6e9fb1" stroke="#0a0a0a" stroke-width="1.3" />
<rect x="838.85" y="445.11" width="14.7" height="117.39" fill="#e4a3a6" stroke="#0a0a0a" stroke-width="1.3" />
<line x1="831.5" y1="504.36" x2="831.5" y2="522.81" stroke="#0a0a0a" stroke-width="1.3" />
<line x1="829.2" y1="504.36" x2="833.8" y2="504.36" stroke="#0a0a0a" stroke-width="1.3" />
<line x1="829.2" y1="522.81" x2="833.8" y2="522.81" stroke="#0a0a0a" stroke-width="1.3" />
<line x1="846.2" y1="391.45" x2="846.2" y2="497.66" stroke="#0a0a0a" stroke-width="1.3" />
<line x1="843.9" y1="391.45" x2="848.5" y2="391.45" stroke="#0a0a0a" stroke-width="1.3" />
<line x1="843.9" y1="497.66" x2="848.5" y2="497.66" stroke="#0a0a0a" stroke-width="1.3" />
<circle cx="816.8" cy="558.31" r="3" fill="#000"/>
<circle cx="831.5" cy="504.92" r="3.1" fill="#000"/>
<circle cx="831.5" cy="511.35" r="3.1" fill="#000"/>
<circle cx="831.5" cy="522.81" r="3.1" fill="#000"/>
<circle cx="846.2" cy="395.92" r="3.1" fill="#000"/>
<circle cx="846.2" cy="436.73" r="3.1" fill="#000"/>
<circle cx="846.2" cy="501.01" r="3.1" fill="#000"/>
<text transform="translate(836.5,580.5) rotate(-45)" font-size="15.2" text-anchor="end" fill="#111">CG01</text>
<line x1="884.05" y1="562.5" x2="884.05" y2="568.1" stroke="#0a0a0a" stroke-width="1.4" />
<rect x="862" y="561.94" width="14.7" height="0.56" fill="#dcdddd" stroke="#0a0a0a" stroke-width="1.3" />
<rect x="876.7" y="561.38" width="14.7" height="1.12" fill="#6e9fb1" stroke="#0a0a0a" stroke-width="1.3" />
<rect x="891.4" y="549.98" width="14.7" height="12.52" fill="#e4a3a6" stroke="#0a0a0a" stroke-width="1.3" />
<line x1="898.75" y1="545.17" x2="898.75" y2="554.67" stroke="#0a0a0a" stroke-width="1.3" />
<line x1="896.45" y1="545.17" x2="901.05" y2="545.17" stroke="#0a0a0a" stroke-width="1.3" />
<line x1="896.45" y1="554.67" x2="901.05" y2="554.67" stroke="#0a0a0a" stroke-width="1.3" />
<circle cx="869.35" cy="560.82" r="3" fill="#000"/>
<circle cx="881.85" cy="559.71" r="3.1" fill="#000"/>
<circle cx="884.55" cy="559.71" r="3.1" fill="#000"/>
<circle cx="886.75" cy="559.71" r="3.1" fill="#000"/>
<circle cx="896.55" cy="545.17" r="3.1" fill="#000"/>
<circle cx="899.95" cy="550.2" r="3.1" fill="#000"/>
<circle cx="898.15" cy="554.67" r="3.1" fill="#000"/>
<text transform="translate(889.05,580.5) rotate(-45)" font-size="15.2" text-anchor="end" fill="#111">GG01</text>
<text x="78" y="470.7" font-size="11" fill="#231815"><tspan font-style="italic">P</tspan>=0.3452, ns</text>
<line x1="85.8" y1="473.6" x2="111.6" y2="473.6" stroke="#231815" stroke-width="1.1" />
<text x="126" y="534.1" font-size="11" fill="#231815"><tspan font-style="italic">P</tspan>=0.0057, <tspan font-size="9.46" font-weight="bold" dy="0.6">∗∗</tspan></text>
<line x1="139.2" y1="537.1" x2="165.1" y2="537.1" stroke="#231815" stroke-width="1.1" />
<text x="185.4" y="481.6" font-size="11" fill="#231815"><tspan font-style="italic">P</tspan>=0.0021,<tspan font-size="9.46" font-weight="bold" dy="0.6">∗∗</tspan></text>
<line x1="193.2" y1="484.6" x2="219.1" y2="484.6" stroke="#231815" stroke-width="1.1" />
<text x="225.6" y="529.7" font-size="11" fill="#231815"><tspan font-style="italic">P</tspan>=0.0138,<tspan font-size="9.46" font-weight="bold" dy="0.6">∗</tspan></text>
<line x1="245.2" y1="533" x2="270.6" y2="533" stroke="#231815" stroke-width="1.1" />
<text x="282.4" y="429" font-size="11" fill="#231815"><tspan font-style="italic">P</tspan>=0.1318,ns</text>
<line x1="298.5" y1="432.5" x2="324.8" y2="432.5" stroke="#231815" stroke-width="1.1" />
<text x="341.4" y="497.8" font-size="11" fill="#231815"><tspan font-style="italic">P</tspan>=0.0042,<tspan font-size="9.46" font-weight="bold" dy="0.6">∗∗</tspan></text>
<line x1="349.2" y1="501.1" x2="375.1" y2="501.1" stroke="#231815" stroke-width="1.1" />
<text x="386.1" y="475.7" font-size="11" fill="#231815"><tspan font-style="italic">P</tspan>=0.6957,ns</text>
<line x1="402.2" y1="479.1" x2="428.1" y2="479.1" stroke="#231815" stroke-width="1.1" />
<text x="438.5" y="511.6" font-size="11" fill="#231815"><tspan font-style="italic">P</tspan>=0.0457,<tspan font-size="9.46" font-weight="bold" dy="0.6">∗</tspan></text>
<line x1="454.9" y1="514.9" x2="480.9" y2="514.9" stroke="#231815" stroke-width="1.1" />
<text x="490.7" y="427.8" font-size="11" fill="#231815"><tspan font-style="italic">P</tspan>=0.1421,ns</text>
<line x1="507.2" y1="430.9" x2="532.8" y2="430.9" stroke="#231815" stroke-width="1.1" />
<text x="546.6" y="522.3" font-size="11" fill="#231815"><tspan font-style="italic">P</tspan>=0.9442,ns</text>
<line x1="562.6" y1="525.6" x2="588.7" y2="525.6" stroke="#231815" stroke-width="1.1" />
<text x="604.5" y="349.6" font-size="11" fill="#231815"><tspan font-style="italic">P</tspan>=0.0442,<tspan font-size="9.46" font-weight="bold" dy="0.6">∗</tspan></text>
<line x1="621" y1="352.4" x2="646.9" y2="352.4" stroke="#231815" stroke-width="1.1" />
<text x="656.6" y="503.5" font-size="11" fill="#231815"><tspan font-style="italic">P</tspan>=0.0012,<tspan font-size="9.46" font-weight="bold" dy="0.6">∗∗</tspan></text>
<line x1="673.1" y1="506.1" x2="700" y2="506.1" stroke="#231815" stroke-width="1.1" />
<text x="701.6" y="461.7" font-size="11" fill="#231815"><tspan font-style="italic">P</tspan>=0.0159,<tspan font-size="9.46" font-weight="bold" dy="0.6">∗</tspan></text>
<line x1="717.9" y1="464.6" x2="743.6" y2="464.6" stroke="#231815" stroke-width="1.1" />
<text x="751.9" y="484" font-size="11" fill="#231815"><tspan font-style="italic">P</tspan>=0.1437,ns</text>
<line x1="768.2" y1="487.4" x2="793.9" y2="487.4" stroke="#231815" stroke-width="1.1" />
<text x="804" y="382.4" font-size="11" fill="#231815"><tspan font-style="italic">P</tspan>=0.0928,ns</text>
<line x1="820.8" y1="385.7" x2="846.5" y2="385.7" stroke="#231815" stroke-width="1.1" />
<text x="858.1" y="530.3" font-size="11" fill="#231815"><tspan font-style="italic">P</tspan>=0.0102,<tspan font-size="9.46" font-weight="bold" dy="0.6">∗</tspan></text>
<line x1="875.1" y1="533.2" x2="900.5" y2="533.2" stroke="#231815" stroke-width="1.1" />
<line x1="69.5" y1="612.8" x2="244.6" y2="612.8" stroke="#000" stroke-width="2.6" stroke-linecap="round"/>
<text x="154.4" y="638.2" font-size="21.3" font-weight="bold" text-anchor="middle" letter-spacing="0.9"><tspan fill="#ff2a00">N</tspan><tspan fill="#111">TT</tspan><tspan fill="#0a3cff">A</tspan></text>
<line x1="276.6" y1="612.8" x2="451.2" y2="612.8" stroke="#000" stroke-width="2.6" stroke-linecap="round"/>
<text x="363.5" y="638.2" font-size="21.3" font-weight="bold" text-anchor="middle" letter-spacing="0.9"><tspan fill="#ff2a00">N</tspan><tspan fill="#111">TT</tspan><tspan fill="#0a3cff">T</tspan></text>
<line x1="483.6" y1="612.8" x2="658.9" y2="612.8" stroke="#000" stroke-width="2.6" stroke-linecap="round"/>
<text x="570.3" y="638.2" font-size="21.3" font-weight="bold" text-anchor="middle" letter-spacing="0.9"><tspan fill="#ff2a00">N</tspan><tspan fill="#111">TT</tspan><tspan fill="#0a3cff">C</tspan></text>
<line x1="697.5" y1="612.8" x2="871.3" y2="612.8" stroke="#000" stroke-width="2.6" stroke-linecap="round"/>
<text x="774" y="638.2" font-size="21.3" font-weight="bold" text-anchor="middle" letter-spacing="0.9"><tspan fill="#ff2a00">N</tspan><tspan fill="#111">TT</tspan><tspan fill="#0a3cff">G</tspan></text>
</g>
<g id="panelE">
<line x1="66.3" y1="702.1" x2="66.3" y2="938.55" stroke="#0a0a0a" stroke-width="1.5" />
<line x1="65.55" y1="937.8" x2="897.2" y2="937.8" stroke="#0a0a0a" stroke-width="1.5" />
<line x1="55.8" y1="937.8" x2="66.3" y2="937.8" stroke="#0a0a0a" stroke-width="1.5" />
<text x="49.5" y="944.3" font-size="18.6" fill="#000" text-anchor="end" >0</text>
<line x1="55.8" y1="890.8" x2="66.3" y2="890.8" stroke="#0a0a0a" stroke-width="1.5" />
<text x="49.5" y="897.3" font-size="18.6" fill="#000" text-anchor="end" >10</text>
<line x1="55.8" y1="843.8" x2="66.3" y2="843.8" stroke="#0a0a0a" stroke-width="1.5" />
<text x="49.5" y="850.3" font-size="18.6" fill="#000" text-anchor="end" >20</text>
<line x1="55.8" y1="796.8" x2="66.3" y2="796.8" stroke="#0a0a0a" stroke-width="1.5" />
<text x="49.5" y="803.3" font-size="18.6" fill="#000" text-anchor="end" >30</text>
<line x1="55.8" y1="749.8" x2="66.3" y2="749.8" stroke="#0a0a0a" stroke-width="1.5" />
<text x="49.5" y="756.3" font-size="18.6" fill="#000" text-anchor="end" >40</text>
<line x1="55.8" y1="702.8" x2="66.3" y2="702.8" stroke="#0a0a0a" stroke-width="1.5" />
<text x="49.5" y="709.3" font-size="18.6" fill="#000" text-anchor="end" >50</text>
<text transform="translate(21.5,812.5) rotate(-90)" font-size="23" text-anchor="middle" fill="#000">Mutation (%)</text>
<text x="93.8" y="691.0" font-size="15.3" fill="#111"><tspan fill="#ff2a00">V</tspan>TT<tspan fill="#0a3cff">V</tspan></text>
<text x="93.8" y="709.6" font-size="15.0" fill="#111"><tspan fill="#ff2a00">V</tspan>TTT<tspan fill="#0a3cff">V</tspan></text>
<line x1="93.8" y1="714.4" x2="143.6" y2="714.4" stroke="#444" stroke-width="1.3" />
<text x="117.4" y="730.4" font-size="14.4" fill="#111" text-anchor="middle" >PAM</text>
<text transform="translate(149.7,700.4) scale(1.24,1)" font-size="21.0" fill="#111">N</text>
<text x="167.6" y="708.4" font-size="13.5" fill="#111">1</text>
<text transform="translate(173.1,700.4) scale(1.24,1)" font-size="21.0" fill="#111">N</text>
<text x="190.7" y="708.4" font-size="13.5" fill="#111">2</text>
<text transform="translate(196.6,700.4) scale(1.24,1)" font-size="21.0" fill="#111">N</text>
<text x="213.6" y="708.4" font-size="13.5" fill="#111">3</text>
<text transform="translate(261.4,700.4) scale(1.24,1)" font-size="21.0" fill="#111">N</text>
<text x="279.4" y="708.4" font-size="13.5" fill="#111">18</text>
<text transform="translate(293,700.4) scale(1.24,1)" font-size="21.0" fill="#111">N</text>
<text x="311.3" y="708.4" font-size="13.5" fill="#111">19</text>
<text transform="translate(324.3,700.4) scale(1.24,1)" font-size="21.0" fill="#111">N</text>
<text x="342.3" y="708.4" font-size="13.5" fill="#111">20</text>
<text x="222.6 229.7 236.8 243.9 251.0 258.1" y="700.4" font-size="17" fill="#111">......</text>
<line x1="153" y1="714.8" x2="358.8" y2="714.8" stroke="#444" stroke-width="1.3" />
<text x="250.4" y="730.4" font-size="14.4" fill="#111" text-anchor="middle" >crRNA</text>
<rect x="365.6" y="687.3" width="14.8" height="14.4" fill="#c3c3c3" stroke="#7f7f7f" stroke-width="1.2" />
<rect x="365.6" y="708.5" width="14.8" height="14.4" fill="#dcdcdc" stroke="#222" stroke-width="1.2" />
<text x="388.4" y="700.3" font-size="16" fill="#111" >VTTTV-control</text>
<text x="388.4" y="722" font-size="16" fill="#111" >VTTV-control</text>
<rect x="510" y="683.9" width="14.8" height="14.4" fill="#b9cfd9" stroke="#8c9ea6" stroke-width="1.2" />
<rect x="510" y="707.8" width="14.8" height="14.4" fill="#6e9fb1" stroke="#222" stroke-width="1.2" />
<text x="535.5" y="697.4" font-size="16" fill="#111" >VTTTV-Cas12i2</text>
<text x="535.5" y="720.6" font-size="16" fill="#111" >VTTV-Cas12i2</text>
<rect x="678.6" y="683.9" width="14.8" height="14.4" fill="#f2d5d6" stroke="#b5a3a4" stroke-width="1.2" />
<rect x="678.6" y="708.5" width="14.8" height="14.4" fill="#e4a3a6" stroke="#222" stroke-width="1.2" />
<text x="703.8" y="698.4" font-size="16" fill="#231815">VTTTV-Cas12i2<tspan font-size="9.4" font-style="italic" dy="-6.6" dx="0.5">Max</tspan></text>
<text x="703.8" y="722" font-size="16" fill="#231815">VTTV-Cas12i2<tspan font-size="9.4" font-style="italic" dy="-6.6" dx="0.5">Max</tspan></text>
<line x1="153.3" y1="937.8" x2="153.3" y2="949.3" stroke="#0a0a0a" stroke-width="1.4" />
<text x="153" y="974" font-size="21.6" fill="#000" text-anchor="middle" >CA02</text>
<rect x="118.53" y="929.2" width="17.93" height="8.6" fill="#b9cfd9" stroke="#8c9ea6" stroke-width="1.3" />
<rect x="136.46" y="881.49" width="17.93" height="56.31" fill="#f2d5d6" stroke="#b5a3a4" stroke-width="1.3" />
<rect x="172.32" y="936.86" width="17.93" height="0.94" fill="#6e9fb1" stroke="#222" stroke-width="1.3" />
<rect x="190.25" y="885.63" width="17.93" height="52.17" fill="#e4a3a6" stroke="#222" stroke-width="1.3" />
<circle cx="109.56" cy="937.8" r="3.4" fill="#000"/>
<line x1="127.5" y1="921.35" x2="127.5" y2="931.69" stroke="#0a0a0a" stroke-width="1.5" />
<line x1="122.4" y1="921.35" x2="132.59" y2="921.35" stroke="#0a0a0a" stroke-width="1.5" />
<line x1="122.4" y1="931.69" x2="132.59" y2="931.69" stroke="#0a0a0a" stroke-width="1.5" />
<circle cx="121" cy="930.98" r="3.4" fill="#000"/>
<circle cx="127.5" cy="921.35" r="3.4" fill="#000"/>
<circle cx="133.5" cy="929.81" r="3.4" fill="#000"/>
<line x1="145.42" y1="855.08" x2="145.42" y2="906.78" stroke="#0a0a0a" stroke-width="1.5" />
<line x1="140.32" y1="855.08" x2="150.52" y2="855.08" stroke="#0a0a0a" stroke-width="1.5" />
<line x1="140.32" y1="906.78" x2="150.52" y2="906.78" stroke="#0a0a0a" stroke-width="1.5" />
<circle cx="145.42" cy="860.25" r="3.4" fill="#000"/>
<circle cx="145.42" cy="872" r="3.4" fill="#000"/>
<circle cx="145.42" cy="910.54" r="3.4" fill="#000"/>
<circle cx="163.35" cy="937.09" r="3.4" fill="#000"/>
<circle cx="174.28" cy="936.86" r="3.4" fill="#000"/>
<circle cx="180.28" cy="935.21" r="3.4" fill="#000"/>
<circle cx="187.09" cy="936.39" r="3.4" fill="#000"/>
<line x1="199.22" y1="875.76" x2="199.22" y2="894.56" stroke="#0a0a0a" stroke-width="1.5" />
<line x1="194.12" y1="875.76" x2="204.31" y2="875.76" stroke="#0a0a0a" stroke-width="1.5" />
<line x1="194.12" y1="894.56" x2="204.31" y2="894.56" stroke="#0a0a0a" stroke-width="1.5" />
<circle cx="199.22" cy="878.58" r="3.4" fill="#000"/>
<circle cx="199.22" cy="891.03" r="3.4" fill="#000"/>
<line x1="378" y1="937.8" x2="378" y2="949.3" stroke="#0a0a0a" stroke-width="1.4" />
<text x="377.7" y="974" font-size="21.6" fill="#000" text-anchor="middle" >CC21</text>
<rect x="343.38" y="802.44" width="17.28" height="135.36" fill="#b9cfd9" stroke="#8c9ea6" stroke-width="1.3" />
<rect x="360.66" y="842.39" width="17.28" height="95.41" fill="#f2d5d6" stroke="#b5a3a4" stroke-width="1.3" />
<rect x="377.94" y="923.37" width="17.28" height="14.43" fill="#dcdcdc" stroke="#222" stroke-width="1.3" />
<rect x="395.22" y="804.79" width="17.28" height="133.01" fill="#6e9fb1" stroke="#222" stroke-width="1.3" />
<rect x="412.5" y="856.96" width="17.28" height="80.84" fill="#e4a3a6" stroke="#222" stroke-width="1.3" />
<circle cx="334.74" cy="937.8" r="3.4" fill="#000"/>
<line x1="352.02" y1="760.14" x2="352.02" y2="844.27" stroke="#0a0a0a" stroke-width="1.5" />
<line x1="346.92" y1="760.14" x2="357.12" y2="760.14" stroke="#0a0a0a" stroke-width="1.5" />
<line x1="346.92" y1="844.27" x2="357.12" y2="844.27" stroke="#0a0a0a" stroke-width="1.5" />
<circle cx="352.02" cy="764.37" r="3.4" fill="#000"/>
<circle cx="352.02" cy="795.86" r="3.4" fill="#000"/>
<circle cx="352.02" cy="846.15" r="3.4" fill="#000"/>
<line x1="369.3" y1="826.41" x2="369.3" y2="856.49" stroke="#0a0a0a" stroke-width="1.5" />
<line x1="364.2" y1="826.41" x2="374.4" y2="826.41" stroke="#0a0a0a" stroke-width="1.5" />
<line x1="364.2" y1="856.49" x2="374.4" y2="856.49" stroke="#0a0a0a" stroke-width="1.5" />
<circle cx="369.3" cy="831.58" r="3.4" fill="#000"/>
<circle cx="369.3" cy="843.33" r="3.4" fill="#000"/>
<circle cx="369.3" cy="859.31" r="3.4" fill="#000"/>
<circle cx="386.58" cy="922.52" r="3.4" fill="#000"/>
<line x1="403.86" y1="768.6" x2="403.86" y2="835.34" stroke="#0a0a0a" stroke-width="1.5" />
<line x1="398.76" y1="768.6" x2="408.96" y2="768.6" stroke="#0a0a0a" stroke-width="1.5" />
<line x1="398.76" y1="835.34" x2="408.96" y2="835.34" stroke="#0a0a0a" stroke-width="1.5" />
<circle cx="403.86" cy="770.48" r="3.4" fill="#000"/>
<circle cx="403.86" cy="809.96" r="3.4" fill="#000"/>
<circle cx="403.86" cy="832.99" r="3.4" fill="#000"/>
<line x1="421.14" y1="837.22" x2="421.14" y2="874.82" stroke="#0a0a0a" stroke-width="1.5" />
<line x1="416.04" y1="837.22" x2="426.24" y2="837.22" stroke="#0a0a0a" stroke-width="1.5" />
<line x1="416.04" y1="874.82" x2="426.24" y2="874.82" stroke="#0a0a0a" stroke-width="1.5" />
<circle cx="421.14" cy="838.63" r="3.4" fill="#000"/>
<circle cx="421.14" cy="852.73" r="3.4" fill="#000"/>
<circle cx="421.14" cy="876.93" r="3.4" fill="#000"/>
<line x1="601.2" y1="937.8" x2="601.2" y2="949.3" stroke="#0a0a0a" stroke-width="1.4" />
<text x="600.9" y="974" font-size="21.6" fill="#000" text-anchor="middle" >AC01</text>
<rect x="549.5" y="934.98" width="17.2" height="2.82" fill="#c3c3c3" stroke="#7f7f7f" stroke-width="1.3" />
<rect x="566.7" y="898.32" width="17.2" height="39.48" fill="#8fc0d8" stroke="#8c9ea6" stroke-width="1.3" />
<rect x="583.9" y="830.17" width="17.2" height="107.63" fill="#f2d5d6" stroke="#b5a3a4" stroke-width="1.3" />
<rect x="618.3" y="898.79" width="17.2" height="39.01" fill="#6e9fb1" stroke="#222" stroke-width="1.3" />
<rect x="635.5" y="860.72" width="17.2" height="77.08" fill="#e4a3a6" stroke="#222" stroke-width="1.3" />
<circle cx="558.1" cy="934.27" r="3.4" fill="#000"/>
<line x1="575.3" y1="888.45" x2="575.3" y2="904.9" stroke="#0a0a0a" stroke-width="1.5" />
<line x1="570.2" y1="888.45" x2="580.4" y2="888.45" stroke="#0a0a0a" stroke-width="1.5" />
<line x1="570.2" y1="904.9" x2="580.4" y2="904.9" stroke="#0a0a0a" stroke-width="1.5" />
<circle cx="569.1" cy="903.02" r="3.4" fill="#000"/>
<circle cx="575.2" cy="888.45" r="3.4" fill="#000"/>
<circle cx="581.3" cy="900.2" r="3.4" fill="#000"/>
<line x1="592.5" y1="776.12" x2="592.5" y2="882.81" stroke="#0a0a0a" stroke-width="1.5" />
<line x1="587.4" y1="776.12" x2="597.6" y2="776.12" stroke="#0a0a0a" stroke-width="1.5" />
<line x1="587.4" y1="882.81" x2="597.6" y2="882.81" stroke="#0a0a0a" stroke-width="1.5" />
<circle cx="592.5" cy="770.48" r="3.4" fill="#000"/>
<circle cx="592.5" cy="843.8" r="3.4" fill="#000"/>
<circle cx="592.5" cy="874.35" r="3.4" fill="#000"/>
<circle cx="609.7" cy="936.62" r="3.4" fill="#000"/>
<line x1="626.9" y1="892.21" x2="626.9" y2="903.02" stroke="#0a0a0a" stroke-width="1.5" />
<line x1="621.8" y1="892.21" x2="632" y2="892.21" stroke="#0a0a0a" stroke-width="1.5" />
<line x1="621.8" y1="903.02" x2="632" y2="903.02" stroke="#0a0a0a" stroke-width="1.5" />
<circle cx="621" cy="903.02" r="3.4" fill="#000"/>
<circle cx="626.9" cy="892.21" r="3.4" fill="#000"/>
<circle cx="632.5" cy="899.73" r="3.4" fill="#000"/>
<line x1="644.1" y1="828.76" x2="644.1" y2="891.74" stroke="#0a0a0a" stroke-width="1.5" />
<line x1="639" y1="828.76" x2="649.2" y2="828.76" stroke="#0a0a0a" stroke-width="1.5" />
<line x1="639" y1="891.74" x2="649.2" y2="891.74" stroke="#0a0a0a" stroke-width="1.5" />
<circle cx="644.1" cy="826.41" r="3.4" fill="#000"/>
<circle cx="644.1" cy="865.42" r="3.4" fill="#000"/>
<circle cx="644.1" cy="888.45" r="3.4" fill="#000"/>
<line x1="825" y1="937.8" x2="825" y2="949.3" stroke="#0a0a0a" stroke-width="1.4" />
<text x="824.7" y="974" font-size="21.6" fill="#000" text-anchor="middle" >AG06</text>
<rect x="790.33" y="929.34" width="17.33" height="8.46" fill="#b9cfd9" stroke="#8c9ea6" stroke-width="1.3" />
<rect x="807.66" y="911.15" width="17.33" height="26.65" fill="#f2d5d6" stroke="#b5a3a4" stroke-width="1.3" />
<rect x="824.99" y="935.68" width="17.33" height="2.12" fill="#dcdcdc" stroke="#222" stroke-width="1.3" />
<rect x="842.32" y="931.69" width="17.33" height="6.11" fill="#6e9fb1" stroke="#222" stroke-width="1.3" />
<rect x="859.65" y="878.25" width="17.33" height="59.55" fill="#e4a3a6" stroke="#222" stroke-width="1.3" />
<circle cx="781.66" cy="937.33" r="3.4" fill="#000"/>
<line x1="799" y1="918.76" x2="799" y2="928.87" stroke="#0a0a0a" stroke-width="1.5" />
<line x1="793.89" y1="918.76" x2="804.1" y2="918.76" stroke="#0a0a0a" stroke-width="1.5" />
<line x1="793.89" y1="928.87" x2="804.1" y2="928.87" stroke="#0a0a0a" stroke-width="1.5" />
<circle cx="793" cy="927.46" r="3.4" fill="#000"/>
<circle cx="799.2" cy="918.76" r="3.4" fill="#000"/>
<circle cx="805" cy="926.05" r="3.4" fill="#000"/>
<line x1="816.32" y1="903.02" x2="816.32" y2="917.59" stroke="#0a0a0a" stroke-width="1.5" />
<line x1="811.22" y1="903.02" x2="821.42" y2="903.02" stroke="#0a0a0a" stroke-width="1.5" />
<line x1="811.22" y1="917.59" x2="821.42" y2="917.59" stroke="#0a0a0a" stroke-width="1.5" />
<circle cx="809.92" cy="917.12" r="3.4" fill="#000"/>
<circle cx="816.32" cy="903.02" r="3.4" fill="#000"/>
<circle cx="822.82" cy="911.95" r="3.4" fill="#000"/>
<circle cx="833.65" cy="934.51" r="3.4" fill="#000"/>
<circle cx="844.48" cy="930.51" r="3.4" fill="#000"/>
<circle cx="850.98" cy="926.99" r="3.4" fill="#000"/>
<circle cx="857.18" cy="927.93" r="3.4" fill="#000"/>
<line x1="868.31" y1="856.02" x2="868.31" y2="898.79" stroke="#0a0a0a" stroke-width="1.5" />
<line x1="863.21" y1="856.02" x2="873.41" y2="856.02" stroke="#0a0a0a" stroke-width="1.5" />
<line x1="863.21" y1="898.79" x2="873.41" y2="898.79" stroke="#0a0a0a" stroke-width="1.5" />
<circle cx="868.31" cy="855.08" r="3.4" fill="#000"/>
<circle cx="868.31" cy="881.87" r="3.4" fill="#000"/>
<circle cx="868.31" cy="897.85" r="3.4" fill="#000"/>
<text x="120.9" y="812" font-size="11.4" fill="#e60012"><tspan font-style="italic">P</tspan>=0.0410, <tspan font-size="9.8" font-weight="bold" dy="0.6">∗</tspan></text>
<line x1="120.4" y1="818.1" x2="181.1" y2="818.1" stroke="#e60012" stroke-width="1.2" />
<text x="94.8" y="835.8" font-size="11.4" fill="#231815"><tspan font-style="italic">P</tspan>=0.0425,<tspan font-size="9.8" font-weight="bold" dy="0.6">∗</tspan></text>
<line x1="120.4" y1="842.6" x2="146" y2="842.6" stroke="#231815" stroke-width="1.2" />
<text x="158.8" y="841.8" font-size="11.4" fill="#e60012"><tspan font-style="italic">P</tspan>=0.8521,ns</text>
<line x1="143.8" y1="848.3" x2="204.9" y2="848.3" stroke="#e60012" stroke-width="1.2" />
<text x="168.9" y="862.3" font-size="11.4" fill="#231815"><tspan font-style="italic">P</tspan>=0.0021,<tspan font-size="9.8" font-weight="bold" dy="0.6">∗∗</tspan></text>
<line x1="176.6" y1="868.6" x2="202.7" y2="868.6" stroke="#231815" stroke-width="1.2" />
<text x="343.4" y="738.8" font-size="11.4" fill="#e60012"><tspan font-style="italic">P</tspan>=0.9462,ns</text>
<line x1="343.4" y1="742.4" x2="403.7" y2="742.4" stroke="#e60012" stroke-width="1.2" />
<text x="320" y="752.9" font-size="11.4" fill="#231815"><tspan font-style="italic">P</tspan>=0.1185,ns</text>
<line x1="343.4" y1="755.9" x2="369" y2="755.9" stroke="#231815" stroke-width="1.2" />
<text x="392.2" y="760.2" font-size="11.4" fill="#231815"><tspan font-style="italic">P</tspan>=0.0441,<tspan font-size="9.8" font-weight="bold" dy="0.6">∗</tspan></text>
<line x1="400" y1="763.4" x2="426.1" y2="763.4" stroke="#231815" stroke-width="1.2" />
<text x="367.6" y="783.4" font-size="11.4" fill="#e60012"><tspan font-style="italic">P</tspan>=0.3656,ns</text>
<line x1="369.5" y1="785.4" x2="430.5" y2="785.4" stroke="#e60012" stroke-width="1.2" />
<text x="562.2" y="741.5" font-size="11.4" fill="#e60012"><tspan font-style="italic">P</tspan>=0.9171,ns</text>
<line x1="562.9" y1="744.4" x2="624.6" y2="744.4" stroke="#e60012" stroke-width="1.2" />
<text x="542.7" y="756.6" font-size="11.4" fill="#231815"><tspan font-style="italic">P</tspan>=0.1107,ns</text>
<line x1="566.6" y1="764.4" x2="592.7" y2="764.4" stroke="#231815" stroke-width="1.2" />
<text x="595.9" y="789" font-size="11.4" fill="#e60012"><tspan font-style="italic">P</tspan>=0.4384,ns</text>
<line x1="594.6" y1="792.4" x2="655.6" y2="792.4" stroke="#e60012" stroke-width="1.2" />
<text x="597.6" y="810.7" font-size="11.4" fill="#231815"><tspan font-style="italic">P</tspan>=0.1421,ns</text>
<line x1="622" y1="818.3" x2="647.8" y2="818.3" stroke="#231815" stroke-width="1.2" />
<text x="810.5" y="817.6" font-size="11.4" fill="#e60012"><tspan font-style="italic">P</tspan>=0.0638,ns</text>
<line x1="812.2" y1="821.1" x2="873" y2="821.1" stroke="#e60012" stroke-width="1.2" />
<text x="825.9" y="839.2" font-size="11.4" fill="#231815"><tspan font-style="italic">P</tspan>=0.0441,<tspan font-size="9.8" font-weight="bold" dy="0.6">∗</tspan></text>
<line x1="844.9" y1="844.9" x2="870.8" y2="844.9" stroke="#231815" stroke-width="1.2" />
<text x="791" y="870.3" font-size="11.4" fill="#e60012"><tspan font-style="italic">P</tspan>=0.2358,ns</text>
<line x1="792.3" y1="873.8" x2="853.1" y2="873.8" stroke="#e60012" stroke-width="1.2" />
<text x="762.5" y="888.8" font-size="11.4" fill="#231815"><tspan font-style="italic">P</tspan>=0.0705,ns</text>
<line x1="793.5" y1="895" x2="816.5" y2="895" stroke="#231815" stroke-width="1.2" />
</g>
<g id="panelF">
<line x1="983" y1="340.9" x2="983" y2="561.8" stroke="#0a0a0a" stroke-width="1.4" />
<line x1="982.3" y1="561.1" x2="1486.4" y2="561.1" stroke="#0a0a0a" stroke-width="1.4" />
<line x1="975" y1="561.1" x2="983" y2="561.1" stroke="#0a0a0a" stroke-width="1.4" />
<text x="968.8" y="570.6" font-size="19.6" fill="#000" text-anchor="end" >0</text>
<line x1="975" y1="517.2" x2="983" y2="517.2" stroke="#0a0a0a" stroke-width="1.4" />
<text x="968.8" y="526.7" font-size="19.6" fill="#000" text-anchor="end" >20</text>
<line x1="975" y1="473.3" x2="983" y2="473.3" stroke="#0a0a0a" stroke-width="1.4" />
<text x="968.8" y="482.8" font-size="19.6" fill="#000" text-anchor="end" >40</text>
<line x1="975" y1="429.4" x2="983" y2="429.4" stroke="#0a0a0a" stroke-width="1.4" />
<text x="968.8" y="438.9" font-size="19.6" fill="#000" text-anchor="end" >60</text>
<line x1="975" y1="385.5" x2="983" y2="385.5" stroke="#0a0a0a" stroke-width="1.4" />
<text x="968.8" y="395" font-size="19.6" fill="#000" text-anchor="end" >80</text>
<line x1="975" y1="341.6" x2="983" y2="341.6" stroke="#0a0a0a" stroke-width="1.4" />
<text x="968.8" y="351.1" font-size="19.6" fill="#000" text-anchor="end" >100</text>
<text transform="translate(943.2,445) rotate(-90)" font-size="25.2" text-anchor="middle" fill="#000">Deletion size (%)</text>
<text x="1002.3" y="373.8" font-size="25.3" fill="#000" >Cas12i2</text>
<line x1="999.05" y1="561.1" x2="999.05" y2="575.5" stroke="#0a0a0a" stroke-width="1.4" />
<text x="999.05" y="598.2" font-size="21" fill="#000" text-anchor="middle" >1</text>
<rect x="991.55" y="543.98" width="15" height="17.12" fill="#7aadbf" stroke="#222" stroke-width="1.2" />
<line x1="999.05" y1="512.37" x2="999.05" y2="543.98" stroke="#0a0a0a" stroke-width="1.2" />
<line x1="996.45" y1="512.37" x2="1001.65" y2="512.37" stroke="#0a0a0a" stroke-width="1.2" />
<circle cx="1004.65" cy="560.77" r="2.6" fill="#000"/>
<circle cx="998.6" cy="556.51" r="2.6" fill="#000"/>
<circle cx="994.89" cy="560.77" r="2.6" fill="#000"/>
<circle cx="999.21" cy="557.77" r="2.6" fill="#000"/>
<circle cx="993.69" cy="560.77" r="2.6" fill="#000"/>
<circle cx="996.45" cy="560.77" r="2.6" fill="#000"/>
<circle cx="1001.6" cy="553.21" r="2.6" fill="#000"/>
<circle cx="993" cy="554.78" r="2.6" fill="#000"/>
<circle cx="1001.08" cy="551.88" r="2.6" fill="#000"/>
<circle cx="1000.58" cy="558.41" r="2.6" fill="#000"/>
<circle cx="999.05" cy="469.79" r="2.6" fill="#000"/>
<circle cx="999.05" cy="472.64" r="2.6" fill="#000"/>
<circle cx="999.05" cy="525.98" r="2.6" fill="#000"/>
<circle cx="999.55" cy="547.93" r="2.6" fill="#000"/>
<circle cx="995.05" cy="558.9" r="2.6" fill="#000"/>
<circle cx="1003.05" cy="559.34" r="2.6" fill="#000"/>
<circle cx="993.55" cy="554.95" r="2.6" fill="#000"/>
<line x1="1022.62" y1="561.1" x2="1022.62" y2="575.5" stroke="#0a0a0a" stroke-width="1.4" />
<text x="1022.62" y="598.2" font-size="21" fill="#000" text-anchor="middle" >2</text>
<circle cx="1023" cy="559.92" r="2.6" fill="#000"/>
<circle cx="1016.81" cy="559.87" r="2.6" fill="#000"/>
<circle cx="1016.42" cy="559.76" r="2.6" fill="#000"/>
<circle cx="1022.15" cy="559.39" r="2.6" fill="#000"/>
<circle cx="1022.88" cy="560.77" r="2.6" fill="#000"/>
<circle cx="1024.48" cy="559.39" r="2.6" fill="#000"/>
<circle cx="1022.06" cy="560.77" r="2.6" fill="#000"/>
<circle cx="1019.7" cy="560" r="2.6" fill="#000"/>
<circle cx="1027.12" cy="558.25" r="2.6" fill="#000"/>
<circle cx="1025.37" cy="560.05" r="2.6" fill="#000"/>
<circle cx="1019.84" cy="560.26" r="2.6" fill="#000"/>
<circle cx="1016.95" cy="559.42" r="2.6" fill="#000"/>
<circle cx="1017.62" cy="557.59" r="2.6" fill="#000"/>
<line x1="1046.2" y1="561.1" x2="1046.2" y2="575.5" stroke="#0a0a0a" stroke-width="1.4" />
<text x="1046.2" y="598.2" font-size="21" fill="#000" text-anchor="middle" >3</text>
<circle cx="1050.77" cy="559.91" r="2.6" fill="#000"/>
<circle cx="1044.7" cy="560.77" r="2.6" fill="#000"/>
<circle cx="1039.61" cy="558.36" r="2.6" fill="#000"/>
<circle cx="1042.37" cy="560.45" r="2.6" fill="#000"/>
<circle cx="1052.54" cy="559.17" r="2.6" fill="#000"/>
<circle cx="1044.85" cy="560.53" r="2.6" fill="#000"/>
<circle cx="1049.88" cy="558.89" r="2.6" fill="#000"/>
<circle cx="1043.16" cy="559.45" r="2.6" fill="#000"/>
<circle cx="1052.33" cy="559.33" r="2.6" fill="#000"/>
<circle cx="1049.61" cy="559.59" r="2.6" fill="#000"/>
<circle cx="1040.93" cy="559.52" r="2.6" fill="#000"/>
<circle cx="1040.39" cy="559.56" r="2.6" fill="#000"/>
<circle cx="1043.2" cy="557.81" r="2.6" fill="#000"/>
<line x1="1069.77" y1="561.1" x2="1069.77" y2="575.5" stroke="#0a0a0a" stroke-width="1.4" />
<text x="1069.77" y="598.2" font-size="21" fill="#000" text-anchor="middle" >4</text>
<circle cx="1070.56" cy="559.84" r="2.6" fill="#000"/>
<circle cx="1069.08" cy="560.53" r="2.6" fill="#000"/>
<circle cx="1064.9" cy="559.48" r="2.6" fill="#000"/>
<circle cx="1071.67" cy="558.68" r="2.6" fill="#000"/>
<circle cx="1065.98" cy="559.32" r="2.6" fill="#000"/>
<circle cx="1066.74" cy="559.39" r="2.6" fill="#000"/>
<circle cx="1067.19" cy="558.45" r="2.6" fill="#000"/>
<circle cx="1074.86" cy="560.29" r="2.6" fill="#000"/>
<circle cx="1074.45" cy="559.79" r="2.6" fill="#000"/>
<circle cx="1071.65" cy="559.15" r="2.6" fill="#000"/>
<circle cx="1065.99" cy="558.25" r="2.6" fill="#000"/>
<circle cx="1066.58" cy="558.44" r="2.6" fill="#000"/>
<circle cx="1066.27" cy="558.03" r="2.6" fill="#000"/>
<line x1="1093.35" y1="561.1" x2="1093.35" y2="575.5" stroke="#0a0a0a" stroke-width="1.4" />
<text x="1093.35" y="598.2" font-size="21" fill="#000" text-anchor="middle" >5</text>
<rect x="1085.85" y="557.81" width="15" height="3.29" fill="#7aadbf" stroke="#222" stroke-width="1.2" />
<line x1="1093.35" y1="554.73" x2="1093.35" y2="557.81" stroke="#0a0a0a" stroke-width="1.2" />
<line x1="1090.75" y1="554.73" x2="1095.95" y2="554.73" stroke="#0a0a0a" stroke-width="1.2" />
<circle cx="1090.66" cy="557.64" r="2.6" fill="#000"/>
<circle cx="1087.72" cy="558.97" r="2.6" fill="#000"/>
<circle cx="1089.96" cy="556.34" r="2.6" fill="#000"/>
<circle cx="1094.69" cy="556.87" r="2.6" fill="#000"/>
<circle cx="1099.41" cy="558.81" r="2.6" fill="#000"/>
<circle cx="1093.14" cy="556.76" r="2.6" fill="#000"/>
<circle cx="1089.16" cy="560.17" r="2.6" fill="#000"/>
<circle cx="1088.78" cy="559" r="2.6" fill="#000"/>
<circle cx="1090.04" cy="555.77" r="2.6" fill="#000"/>
<circle cx="1089.26" cy="559.13" r="2.6" fill="#000"/>
<circle cx="1089.34" cy="558.02" r="2.6" fill="#000"/>
<circle cx="1099.29" cy="560.77" r="2.6" fill="#000"/>
<circle cx="1092.31" cy="556.48" r="2.6" fill="#000"/>
<circle cx="1093.35" cy="547.27" r="2.6" fill="#000"/>
<line x1="1116.92" y1="561.1" x2="1116.92" y2="575.5" stroke="#0a0a0a" stroke-width="1.4" />
<text x="1116.92" y="598.2" font-size="21" fill="#000" text-anchor="middle" >6</text>
<rect x="1109.42" y="558.9" width="15" height="2.2" fill="#7aadbf" stroke="#222" stroke-width="1.2" />
<line x1="1116.92" y1="551" x2="1116.92" y2="558.9" stroke="#0a0a0a" stroke-width="1.2" />
<line x1="1114.33" y1="551" x2="1119.52" y2="551" stroke="#0a0a0a" stroke-width="1.2" />
<circle cx="1111.7" cy="559.91" r="2.6" fill="#000"/>
<circle cx="1113.47" cy="556.71" r="2.6" fill="#000"/>
<circle cx="1119.63" cy="558.23" r="2.6" fill="#000"/>
<circle cx="1118.2" cy="558.99" r="2.6" fill="#000"/>
<circle cx="1114.2" cy="556.86" r="2.6" fill="#000"/>
<circle cx="1111.23" cy="558.11" r="2.6" fill="#000"/>
<circle cx="1113.34" cy="557.34" r="2.6" fill="#000"/>
<circle cx="1118.43" cy="560.77" r="2.6" fill="#000"/>
<circle cx="1114.02" cy="559.69" r="2.6" fill="#000"/>
<circle cx="1110.54" cy="558.26" r="2.6" fill="#000"/>
<circle cx="1113.88" cy="559.27" r="2.6" fill="#000"/>
<circle cx="1112.65" cy="559.27" r="2.6" fill="#000"/>
<circle cx="1116.92" cy="534.1" r="2.6" fill="#000"/>
<circle cx="1116.92" cy="555.61" r="2.6" fill="#000"/>
<line x1="1140.5" y1="561.1" x2="1140.5" y2="575.5" stroke="#0a0a0a" stroke-width="1.4" />
<text x="1140.5" y="598.2" font-size="21" fill="#000" text-anchor="middle" >7</text>
<rect x="1133" y="557.26" width="15" height="3.84" fill="#7aadbf" stroke="#222" stroke-width="1.2" />
<line x1="1140.5" y1="551.88" x2="1140.5" y2="557.26" stroke="#0a0a0a" stroke-width="1.2" />
<line x1="1137.9" y1="551.88" x2="1143.1" y2="551.88" stroke="#0a0a0a" stroke-width="1.2" />
<circle cx="1138.77" cy="557.03" r="2.6" fill="#000"/>
<circle cx="1138.68" cy="558.2" r="2.6" fill="#000"/>
<circle cx="1145.66" cy="557.72" r="2.6" fill="#000"/>
<circle cx="1143.02" cy="554.39" r="2.6" fill="#000"/>
<circle cx="1141.61" cy="557.61" r="2.6" fill="#000"/>
<circle cx="1134.14" cy="556.92" r="2.6" fill="#000"/>
<circle cx="1145.91" cy="556.85" r="2.6" fill="#000"/>
<circle cx="1134.18" cy="558.8" r="2.6" fill="#000"/>
<circle cx="1142.3" cy="560.77" r="2.6" fill="#000"/>
<circle cx="1138.11" cy="560.44" r="2.6" fill="#000"/>
<circle cx="1147.09" cy="556.9" r="2.6" fill="#000"/>
<circle cx="1143.63" cy="555.05" r="2.6" fill="#000"/>
<circle cx="1145.78" cy="556.13" r="2.6" fill="#000"/>
<circle cx="1140.5" cy="542.88" r="2.6" fill="#000"/>
<circle cx="1138.5" cy="552.32" r="2.6" fill="#000"/>
<circle cx="1142.5" cy="553.2" r="2.6" fill="#000"/>
<line x1="1164.08" y1="561.1" x2="1164.08" y2="575.5" stroke="#0a0a0a" stroke-width="1.4" />
<text x="1164.08" y="598.2" font-size="21" fill="#000" text-anchor="middle" >8</text>
<rect x="1156.58" y="555.83" width="15" height="5.27" fill="#7aadbf" stroke="#222" stroke-width="1.2" />
<line x1="1164.08" y1="549.47" x2="1164.08" y2="555.83" stroke="#0a0a0a" stroke-width="1.2" />
<line x1="1161.48" y1="549.47" x2="1166.67" y2="549.47" stroke="#0a0a0a" stroke-width="1.2" />
<circle cx="1167.95" cy="556.16" r="2.6" fill="#000"/>
<circle cx="1169.55" cy="559.93" r="2.6" fill="#000"/>
<circle cx="1169.37" cy="558.22" r="2.6" fill="#000"/>
<circle cx="1168.97" cy="552.62" r="2.6" fill="#000"/>
<circle cx="1168.87" cy="559.87" r="2.6" fill="#000"/>
<circle cx="1165.04" cy="553.52" r="2.6" fill="#000"/>
<circle cx="1165.17" cy="557.66" r="2.6" fill="#000"/>
<circle cx="1165.51" cy="557.66" r="2.6" fill="#000"/>
<circle cx="1170.59" cy="552.54" r="2.6" fill="#000"/>
<circle cx="1169.09" cy="554.02" r="2.6" fill="#000"/>
<circle cx="1167.18" cy="556.19" r="2.6" fill="#000"/>
<circle cx="1165.14" cy="558.42" r="2.6" fill="#000"/>
<circle cx="1158.58" cy="560.51" r="2.6" fill="#000"/>
<circle cx="1164.48" cy="545.52" r="2.6" fill="#000"/>
<circle cx="1163.08" cy="549.69" r="2.6" fill="#000"/>
<circle cx="1167.08" cy="551" r="2.6" fill="#000"/>
<circle cx="1161.08" cy="553.2" r="2.6" fill="#000"/>
<line x1="1187.65" y1="561.1" x2="1187.65" y2="575.5" stroke="#0a0a0a" stroke-width="1.4" />
<text x="1187.65" y="598.2" font-size="21" fill="#000" text-anchor="middle" >9</text>
<rect x="1180.15" y="539.37" width="15" height="21.73" fill="#7aadbf" stroke="#222" stroke-width="1.2" />
<line x1="1187.65" y1="519.61" x2="1187.65" y2="557.81" stroke="#0a0a0a" stroke-width="1.2" />
<line x1="1185.05" y1="519.61" x2="1190.25" y2="519.61" stroke="#0a0a0a" stroke-width="1.2" />
<line x1="1185.05" y1="557.81" x2="1190.25" y2="557.81" stroke="#0a0a0a" stroke-width="1.2" />
<circle cx="1190.95" cy="533.86" r="2.6" fill="#000"/>
<circle cx="1187.4" cy="528.84" r="2.6" fill="#000"/>
<circle cx="1184.09" cy="537.38" r="2.6" fill="#000"/>
<circle cx="1189.16" cy="542.33" r="2.6" fill="#000"/>
<circle cx="1193.2" cy="548.15" r="2.6" fill="#000"/>
<circle cx="1185.02" cy="539.41" r="2.6" fill="#000"/>
<circle cx="1190" cy="538.18" r="2.6" fill="#000"/>
<circle cx="1193.01" cy="537.96" r="2.6" fill="#000"/>
<circle cx="1189.76" cy="534.76" r="2.6" fill="#000"/>
<circle cx="1185.37" cy="554.93" r="2.6" fill="#000"/>
<circle cx="1189.84" cy="533.42" r="2.6" fill="#000"/>
<circle cx="1191.69" cy="536.7" r="2.6" fill="#000"/>
<circle cx="1193.12" cy="531.41" r="2.6" fill="#000"/>
<circle cx="1188.75" cy="533.69" r="2.6" fill="#000"/>
<circle cx="1185.23" cy="544.69" r="2.6" fill="#000"/>
<circle cx="1187.95" cy="480.76" r="2.6" fill="#000"/>
<circle cx="1189.85" cy="519.39" r="2.6" fill="#000"/>
<circle cx="1187.65" cy="524.88" r="2.6" fill="#000"/>
<circle cx="1187.65" cy="531.47" r="2.6" fill="#000"/>
<line x1="1211.22" y1="561.1" x2="1211.22" y2="575.5" stroke="#0a0a0a" stroke-width="1.4" />
<text x="1211.22" y="598.2" font-size="21" fill="#000" text-anchor="middle" >10</text>
<rect x="1203.72" y="534.1" width="15" height="27" fill="#7aadbf" stroke="#222" stroke-width="1.2" />
<line x1="1211.22" y1="513.69" x2="1211.22" y2="554.51" stroke="#0a0a0a" stroke-width="1.2" />
<line x1="1208.62" y1="513.69" x2="1213.82" y2="513.69" stroke="#0a0a0a" stroke-width="1.2" />
<line x1="1208.62" y1="554.51" x2="1213.82" y2="554.51" stroke="#0a0a0a" stroke-width="1.2" />
<circle cx="1215.67" cy="527.69" r="2.6" fill="#000"/>
<circle cx="1215.83" cy="526.72" r="2.6" fill="#000"/>
<circle cx="1208.28" cy="539.03" r="2.6" fill="#000"/>
<circle cx="1206.86" cy="553.92" r="2.6" fill="#000"/>
<circle cx="1207.45" cy="540.47" r="2.6" fill="#000"/>
<circle cx="1210.09" cy="532.06" r="2.6" fill="#000"/>
<circle cx="1208.79" cy="540.95" r="2.6" fill="#000"/>
<circle cx="1215.7" cy="541.02" r="2.6" fill="#000"/>
<circle cx="1205.61" cy="525" r="2.6" fill="#000"/>
<circle cx="1205.04" cy="535.13" r="2.6" fill="#000"/>
<circle cx="1213.98" cy="532.41" r="2.6" fill="#000"/>
<circle cx="1212.16" cy="535.84" r="2.6" fill="#000"/>
<circle cx="1204.88" cy="539.46" r="2.6" fill="#000"/>
<circle cx="1206.42" cy="520.34" r="2.6" fill="#000"/>
<circle cx="1215.58" cy="535.89" r="2.6" fill="#000"/>
<circle cx="1209.32" cy="491.74" r="2.6" fill="#000"/>
<circle cx="1213.02" cy="490.42" r="2.6" fill="#000"/>
<circle cx="1213.62" cy="522.69" r="2.6" fill="#000"/>
<circle cx="1209.02" cy="525.98" r="2.6" fill="#000"/>
<line x1="1234.8" y1="561.1" x2="1234.8" y2="575.5" stroke="#0a0a0a" stroke-width="1.4" />
<text x="1234.8" y="598.2" font-size="21" fill="#000" text-anchor="middle" >11</text>
<rect x="1227.3" y="527.08" width="15" height="34.02" fill="#7aadbf" stroke="#222" stroke-width="1.2" />
<line x1="1234.8" y1="511.93" x2="1234.8" y2="539.81" stroke="#0a0a0a" stroke-width="1.2" />
<line x1="1232.2" y1="511.93" x2="1237.4" y2="511.93" stroke="#0a0a0a" stroke-width="1.2" />
<line x1="1232.2" y1="539.81" x2="1237.4" y2="539.81" stroke="#0a0a0a" stroke-width="1.2" />
<circle cx="1231.33" cy="526.69" r="2.6" fill="#000"/>
<circle cx="1236.51" cy="525.87" r="2.6" fill="#000"/>
<circle cx="1234.09" cy="525.6" r="2.6" fill="#000"/>
<circle cx="1238.86" cy="533.22" r="2.6" fill="#000"/>
<circle cx="1240.85" cy="533.61" r="2.6" fill="#000"/>
<circle cx="1234.47" cy="528.72" r="2.6" fill="#000"/>
<circle cx="1230.56" cy="530.83" r="2.6" fill="#000"/>
<circle cx="1237.63" cy="520.15" r="2.6" fill="#000"/>
<circle cx="1230.56" cy="526.61" r="2.6" fill="#000"/>
<circle cx="1237.4" cy="527.87" r="2.6" fill="#000"/>
<circle cx="1235.07" cy="521.47" r="2.6" fill="#000"/>
<circle cx="1233.39" cy="534.85" r="2.6" fill="#000"/>
<circle cx="1238.65" cy="533.88" r="2.6" fill="#000"/>
<circle cx="1240.51" cy="524.89" r="2.6" fill="#000"/>
<circle cx="1234.8" cy="496.79" r="2.6" fill="#000"/>
<circle cx="1234.8" cy="506.66" r="2.6" fill="#000"/>
<circle cx="1228.3" cy="518.3" r="2.6" fill="#000"/>
<circle cx="1239.8" cy="517.64" r="2.6" fill="#000"/>
<circle cx="1234.8" cy="555.17" r="2.6" fill="#000"/>
<circle cx="1238.2" cy="516.1" r="2.6" fill="#000"/>
<line x1="1258.38" y1="561.1" x2="1258.38" y2="575.5" stroke="#0a0a0a" stroke-width="1.4" />
<text x="1258.38" y="598.2" font-size="21" fill="#000" text-anchor="middle" >12</text>
<rect x="1250.88" y="525.32" width="15" height="35.78" fill="#7aadbf" stroke="#222" stroke-width="1.2" />
<line x1="1258.38" y1="485.37" x2="1258.38" y2="560" stroke="#0a0a0a" stroke-width="1.2" />
<line x1="1255.78" y1="485.37" x2="1260.97" y2="485.37" stroke="#0a0a0a" stroke-width="1.2" />
<circle cx="1261.31" cy="527.93" r="2.6" fill="#000"/>
<circle cx="1260.03" cy="517.06" r="2.6" fill="#000"/>
<circle cx="1263.79" cy="516.53" r="2.6" fill="#000"/>
<circle cx="1263.38" cy="535.5" r="2.6" fill="#000"/>
<circle cx="1262.29" cy="515.37" r="2.6" fill="#000"/>
<circle cx="1260.37" cy="513.81" r="2.6" fill="#000"/>
<circle cx="1254.48" cy="529.53" r="2.6" fill="#000"/>
<circle cx="1260.24" cy="528.88" r="2.6" fill="#000"/>
<circle cx="1261.25" cy="545.28" r="2.6" fill="#000"/>
<circle cx="1264.72" cy="519.94" r="2.6" fill="#000"/>
<circle cx="1264.68" cy="503.37" r="2.6" fill="#000"/>
<circle cx="1256" cy="544.21" r="2.6" fill="#000"/>
<circle cx="1263.79" cy="529.79" r="2.6" fill="#000"/>
<circle cx="1258.38" cy="413.38" r="2.6" fill="#000"/>
<circle cx="1258.38" cy="454.42" r="2.6" fill="#000"/>
<circle cx="1255.97" cy="522.25" r="2.6" fill="#000"/>
<circle cx="1262.38" cy="526.42" r="2.6" fill="#000"/>
<line x1="1281.95" y1="561.1" x2="1281.95" y2="575.5" stroke="#0a0a0a" stroke-width="1.4" />
<text x="1281.95" y="598.2" font-size="21" fill="#000" text-anchor="middle" >13</text>
<rect x="1274.45" y="543.98" width="15" height="17.12" fill="#7aadbf" stroke="#222" stroke-width="1.2" />
<line x1="1281.95" y1="532.35" x2="1281.95" y2="555.83" stroke="#0a0a0a" stroke-width="1.2" />
<line x1="1279.35" y1="532.35" x2="1284.55" y2="532.35" stroke="#0a0a0a" stroke-width="1.2" />
<line x1="1279.35" y1="555.83" x2="1284.55" y2="555.83" stroke="#0a0a0a" stroke-width="1.2" />
<circle cx="1276.44" cy="539.84" r="2.6" fill="#000"/>
<circle cx="1281.17" cy="549.26" r="2.6" fill="#000"/>
<circle cx="1281.78" cy="555.75" r="2.6" fill="#000"/>
<circle cx="1275.73" cy="547.83" r="2.6" fill="#000"/>
<circle cx="1285.91" cy="543.02" r="2.6" fill="#000"/>
<circle cx="1277.63" cy="546.43" r="2.6" fill="#000"/>
<circle cx="1277.2" cy="550.47" r="2.6" fill="#000"/>
<circle cx="1277.31" cy="533" r="2.6" fill="#000"/>
<circle cx="1286.44" cy="555.53" r="2.6" fill="#000"/>
<circle cx="1284.45" cy="545.18" r="2.6" fill="#000"/>
<circle cx="1287.88" cy="536.03" r="2.6" fill="#000"/>
<circle cx="1276.49" cy="546.8" r="2.6" fill="#000"/>
<circle cx="1279.18" cy="542.4" r="2.6" fill="#000"/>
<circle cx="1284.97" cy="535.26" r="2.6" fill="#000"/>
<circle cx="1286.49" cy="549.64" r="2.6" fill="#000"/>
<circle cx="1287.45" cy="524.88" r="2.6" fill="#000"/>
<circle cx="1276.35" cy="528.83" r="2.6" fill="#000"/>
<circle cx="1280.95" cy="533.66" r="2.6" fill="#000"/>
<circle cx="1276.35" cy="560.44" r="2.6" fill="#000"/>
<line x1="1305.52" y1="561.1" x2="1305.52" y2="575.5" stroke="#0a0a0a" stroke-width="1.4" />
<text x="1305.52" y="598.2" font-size="21" fill="#000" text-anchor="middle" >14</text>
<rect x="1298.02" y="550.02" width="15" height="11.08" fill="#7aadbf" stroke="#222" stroke-width="1.2" />
<line x1="1305.52" y1="542" x2="1305.52" y2="558.03" stroke="#0a0a0a" stroke-width="1.2" />
<line x1="1302.92" y1="542" x2="1308.12" y2="542" stroke="#0a0a0a" stroke-width="1.2" />
<line x1="1302.92" y1="558.03" x2="1308.12" y2="558.03" stroke="#0a0a0a" stroke-width="1.2" />
<circle cx="1306.32" cy="554.51" r="2.6" fill="#000"/>
<circle cx="1310.08" cy="551.8" r="2.6" fill="#000"/>
<circle cx="1310.81" cy="545.63" r="2.6" fill="#000"/>
<circle cx="1311.71" cy="547.57" r="2.6" fill="#000"/>
<circle cx="1305.84" cy="540.92" r="2.6" fill="#000"/>
<circle cx="1306" cy="552.92" r="2.6" fill="#000"/>
<circle cx="1305.57" cy="551.45" r="2.6" fill="#000"/>
<circle cx="1311.72" cy="550.92" r="2.6" fill="#000"/>
<circle cx="1305.74" cy="550.72" r="2.6" fill="#000"/>
<circle cx="1306.35" cy="557.05" r="2.6" fill="#000"/>
<circle cx="1305.41" cy="544.94" r="2.6" fill="#000"/>
<circle cx="1306.04" cy="550.66" r="2.6" fill="#000"/>
<circle cx="1304.39" cy="551.68" r="2.6" fill="#000"/>
<circle cx="1302.48" cy="540.36" r="2.6" fill="#000"/>
<circle cx="1305.17" cy="552.95" r="2.6" fill="#000"/>
<circle cx="1306.82" cy="534.1" r="2.6" fill="#000"/>
<circle cx="1304.12" cy="536.96" r="2.6" fill="#000"/>
<circle cx="1310.72" cy="560.44" r="2.6" fill="#000"/>
<line x1="1329.1" y1="561.1" x2="1329.1" y2="575.5" stroke="#0a0a0a" stroke-width="1.4" />
<text x="1329.1" y="598.2" font-size="21" fill="#000" text-anchor="middle" >15</text>
<rect x="1321.6" y="550.43" width="15" height="10.67" fill="#7aadbf" stroke="#222" stroke-width="1.2" />
<line x1="1329.1" y1="545.3" x2="1329.1" y2="555.83" stroke="#0a0a0a" stroke-width="1.2" />
<line x1="1326.5" y1="545.3" x2="1331.7" y2="545.3" stroke="#0a0a0a" stroke-width="1.2" />
<line x1="1326.5" y1="555.83" x2="1331.7" y2="555.83" stroke="#0a0a0a" stroke-width="1.2" />
<circle cx="1333.27" cy="547.33" r="2.6" fill="#000"/>
<circle cx="1334.39" cy="547.25" r="2.6" fill="#000"/>
<circle cx="1325.03" cy="554.04" r="2.6" fill="#000"/>
<circle cx="1330.66" cy="549.9" r="2.6" fill="#000"/>
<circle cx="1332.79" cy="548.47" r="2.6" fill="#000"/>
<circle cx="1322.8" cy="551.43" r="2.6" fill="#000"/>
<circle cx="1331.57" cy="549.4" r="2.6" fill="#000"/>
<circle cx="1326.75" cy="547.62" r="2.6" fill="#000"/>
<circle cx="1323.88" cy="554" r="2.6" fill="#000"/>
<circle cx="1332.15" cy="545.86" r="2.6" fill="#000"/>
<circle cx="1325.81" cy="546.86" r="2.6" fill="#000"/>
<circle cx="1325.11" cy="546.96" r="2.6" fill="#000"/>
<circle cx="1327.46" cy="554.82" r="2.6" fill="#000"/>
<circle cx="1327.96" cy="551.28" r="2.6" fill="#000"/>
<circle cx="1325.2" cy="552.85" r="2.6" fill="#000"/>
<circle cx="1332.4" cy="542.44" r="2.6" fill="#000"/>
<circle cx="1329.1" cy="543.98" r="2.6" fill="#000"/>
<circle cx="1323.7" cy="547.71" r="2.6" fill="#000"/>
<circle cx="1333.9" cy="560.44" r="2.6" fill="#000"/>
<line x1="1352.67" y1="561.1" x2="1352.67" y2="575.5" stroke="#0a0a0a" stroke-width="1.4" />
<text x="1352.67" y="598.2" font-size="21" fill="#000" text-anchor="middle" >16</text>
<rect x="1345.17" y="557.48" width="15" height="3.62" fill="#7aadbf" stroke="#222" stroke-width="1.2" />
<line x1="1352.67" y1="553.2" x2="1352.67" y2="557.48" stroke="#0a0a0a" stroke-width="1.2" />
<line x1="1350.08" y1="553.2" x2="1355.27" y2="553.2" stroke="#0a0a0a" stroke-width="1.2" />
<circle cx="1354.41" cy="557.72" r="2.6" fill="#000"/>
<circle cx="1357.31" cy="559.22" r="2.6" fill="#000"/>
<circle cx="1354.15" cy="559.54" r="2.6" fill="#000"/>
<circle cx="1355.85" cy="556.49" r="2.6" fill="#000"/>
<circle cx="1356.77" cy="558.73" r="2.6" fill="#000"/>
<circle cx="1350.23" cy="555.91" r="2.6" fill="#000"/>
<circle cx="1358.26" cy="558.58" r="2.6" fill="#000"/>
<circle cx="1357.79" cy="555.92" r="2.6" fill="#000"/>
<circle cx="1347.84" cy="553.09" r="2.6" fill="#000"/>
<circle cx="1349.5" cy="557.24" r="2.6" fill="#000"/>
<circle cx="1347.36" cy="553.95" r="2.6" fill="#000"/>
<circle cx="1356.5" cy="556.34" r="2.6" fill="#000"/>
<circle cx="1347.74" cy="559.48" r="2.6" fill="#000"/>
<circle cx="1346.31" cy="560.21" r="2.6" fill="#000"/>
<circle cx="1352.67" cy="543.98" r="2.6" fill="#000"/>
<circle cx="1353.47" cy="550.12" r="2.6" fill="#000"/>
<line x1="1376.25" y1="561.1" x2="1376.25" y2="575.5" stroke="#0a0a0a" stroke-width="1.4" />
<text x="1376.25" y="598.2" font-size="21" fill="#000" text-anchor="middle" >17</text>
<circle cx="1372.3" cy="558.61" r="2.6" fill="#000"/>
<circle cx="1382.43" cy="560.56" r="2.6" fill="#000"/>
<circle cx="1371.17" cy="560.77" r="2.6" fill="#000"/>
<circle cx="1376.29" cy="560.77" r="2.6" fill="#000"/>
<circle cx="1378.7" cy="559.63" r="2.6" fill="#000"/>
<circle cx="1371.05" cy="559.41" r="2.6" fill="#000"/>
<circle cx="1370.14" cy="559.17" r="2.6" fill="#000"/>
<circle cx="1377.16" cy="560.77" r="2.6" fill="#000"/>
<circle cx="1371.58" cy="559.98" r="2.6" fill="#000"/>
<circle cx="1380.74" cy="559.27" r="2.6" fill="#000"/>
<circle cx="1382.72" cy="558.88" r="2.6" fill="#000"/>
<circle cx="1370.47" cy="559.12" r="2.6" fill="#000"/>
<circle cx="1382.21" cy="559.78" r="2.6" fill="#000"/>
<circle cx="1373.25" cy="555.39" r="2.6" fill="#000"/>
<circle cx="1374.75" cy="556.27" r="2.6" fill="#000"/>
<line x1="1399.82" y1="561.1" x2="1399.82" y2="575.5" stroke="#0a0a0a" stroke-width="1.4" />
<text x="1399.82" y="598.2" font-size="21" fill="#000" text-anchor="middle" >18</text>
<rect x="1392.32" y="558.9" width="15" height="2.2" fill="#7aadbf" stroke="#222" stroke-width="1.2" />
<line x1="1399.82" y1="555.83" x2="1399.82" y2="558.9" stroke="#0a0a0a" stroke-width="1.2" />
<line x1="1397.22" y1="555.83" x2="1402.42" y2="555.83" stroke="#0a0a0a" stroke-width="1.2" />
<circle cx="1397.54" cy="560.72" r="2.6" fill="#000"/>
<circle cx="1399.39" cy="558.46" r="2.6" fill="#000"/>
<circle cx="1401.16" cy="560.06" r="2.6" fill="#000"/>
<circle cx="1393.4" cy="559.02" r="2.6" fill="#000"/>
<circle cx="1395.62" cy="559.55" r="2.6" fill="#000"/>
<circle cx="1399.22" cy="560.77" r="2.6" fill="#000"/>
<circle cx="1395.8" cy="558.98" r="2.6" fill="#000"/>
<circle cx="1395.4" cy="560.02" r="2.6" fill="#000"/>
<circle cx="1405.02" cy="559.1" r="2.6" fill="#000"/>
<circle cx="1403.81" cy="558.92" r="2.6" fill="#000"/>
<circle cx="1401.53" cy="559.52" r="2.6" fill="#000"/>
<circle cx="1398.56" cy="560.77" r="2.6" fill="#000"/>
<circle cx="1406.2" cy="559.96" r="2.6" fill="#000"/>
<circle cx="1399.82" cy="547.71" r="2.6" fill="#000"/>
<line x1="1423.4" y1="561.1" x2="1423.4" y2="575.5" stroke="#0a0a0a" stroke-width="1.4" />
<text x="1423.4" y="598.2" font-size="21" fill="#000" text-anchor="middle" >19</text>
<circle cx="1427.42" cy="560.61" r="2.6" fill="#000"/>
<circle cx="1426.63" cy="560.1" r="2.6" fill="#000"/>
<circle cx="1427.07" cy="558.25" r="2.6" fill="#000"/>
<circle cx="1428.63" cy="559.65" r="2.6" fill="#000"/>
<circle cx="1428.41" cy="560.77" r="2.6" fill="#000"/>
<circle cx="1426.9" cy="560.51" r="2.6" fill="#000"/>
<circle cx="1422.16" cy="560.77" r="2.6" fill="#000"/>
<circle cx="1421.31" cy="560.06" r="2.6" fill="#000"/>
<circle cx="1422.99" cy="560.33" r="2.6" fill="#000"/>
<circle cx="1425.23" cy="559.18" r="2.6" fill="#000"/>
<circle cx="1425.04" cy="559.95" r="2.6" fill="#000"/>
<circle cx="1425.59" cy="559.77" r="2.6" fill="#000"/>
<circle cx="1418.9" cy="557.81" r="2.6" fill="#000"/>
<line x1="1446.97" y1="561.1" x2="1446.97" y2="575.5" stroke="#0a0a0a" stroke-width="1.4" />
<text x="1446.97" y="598.2" font-size="21" fill="#000" text-anchor="middle" >20</text>
<circle cx="1444.83" cy="558.69" r="2.6" fill="#000"/>
<circle cx="1447.41" cy="560.76" r="2.6" fill="#000"/>
<circle cx="1445.52" cy="560.77" r="2.6" fill="#000"/>
<circle cx="1449.63" cy="559.12" r="2.6" fill="#000"/>
<circle cx="1450.43" cy="560.22" r="2.6" fill="#000"/>
<circle cx="1448.5" cy="560.06" r="2.6" fill="#000"/>
<circle cx="1450.13" cy="560.24" r="2.6" fill="#000"/>
<circle cx="1441.04" cy="560.25" r="2.6" fill="#000"/>
<circle cx="1442.95" cy="559.44" r="2.6" fill="#000"/>
<circle cx="1443.69" cy="560.47" r="2.6" fill="#000"/>
<circle cx="1452.33" cy="559.98" r="2.6" fill="#000"/>
<circle cx="1453.14" cy="560.77" r="2.6" fill="#000"/>
<circle cx="1442.47" cy="558.47" r="2.6" fill="#000"/>
<line x1="1470.55" y1="561.1" x2="1470.55" y2="575.5" stroke="#0a0a0a" stroke-width="1.4" />
<text x="1468.15" y="598.2" font-size="21" fill="#000" text-anchor="middle" >&gt;21</text>
<rect x="1463.05" y="557.81" width="15" height="3.29" fill="#7aadbf" stroke="#222" stroke-width="1.2" />
<line x1="1470.55" y1="554.3" x2="1470.55" y2="557.81" stroke="#0a0a0a" stroke-width="1.2" />
<line x1="1467.95" y1="554.3" x2="1473.15" y2="554.3" stroke="#0a0a0a" stroke-width="1.2" />
<circle cx="1471.45" cy="558.37" r="2.6" fill="#000"/>
<circle cx="1474.64" cy="555.62" r="2.6" fill="#000"/>
<circle cx="1464.96" cy="557.87" r="2.6" fill="#000"/>
<circle cx="1464.55" cy="559.93" r="2.6" fill="#000"/>
<circle cx="1476.23" cy="559.3" r="2.6" fill="#000"/>
<circle cx="1466.18" cy="556.88" r="2.6" fill="#000"/>
<circle cx="1470.49" cy="556.34" r="2.6" fill="#000"/>
<circle cx="1476.43" cy="558.22" r="2.6" fill="#000"/>
<circle cx="1469.5" cy="558.15" r="2.6" fill="#000"/>
<circle cx="1468.78" cy="559.85" r="2.6" fill="#000"/>
<circle cx="1467.72" cy="558.15" r="2.6" fill="#000"/>
<circle cx="1467.69" cy="558.91" r="2.6" fill="#000"/>
<circle cx="1473.41" cy="559.44" r="2.6" fill="#000"/>
<circle cx="1472.25" cy="550.34" r="2.6" fill="#000"/>
<circle cx="1470.55" cy="552.76" r="2.6" fill="#000"/>
<circle cx="1468.55" cy="554.73" r="2.6" fill="#000"/>
</g>
<g id="panelG">
<line x1="977.2" y1="717.9" x2="977.2" y2="938.6" stroke="#0a0a0a" stroke-width="1.4" />
<line x1="976.5" y1="937.9" x2="1481.6" y2="937.9" stroke="#0a0a0a" stroke-width="1.4" />
<line x1="969.2" y1="937.9" x2="977.2" y2="937.9" stroke="#0a0a0a" stroke-width="1.4" />
<text x="960.3" y="946.8" font-size="19.7" fill="#000" text-anchor="end" >0</text>
<line x1="969.2" y1="894.04" x2="977.2" y2="894.04" stroke="#0a0a0a" stroke-width="1.4" />
<text x="960.3" y="902.94" font-size="19.7" fill="#000" text-anchor="end" >20</text>
<line x1="969.2" y1="850.18" x2="977.2" y2="850.18" stroke="#0a0a0a" stroke-width="1.4" />
<text x="960.3" y="859.08" font-size="19.7" fill="#000" text-anchor="end" >40</text>
<line x1="969.2" y1="806.32" x2="977.2" y2="806.32" stroke="#0a0a0a" stroke-width="1.4" />
<text x="960.3" y="815.22" font-size="19.7" fill="#000" text-anchor="end" >60</text>
<line x1="969.2" y1="762.46" x2="977.2" y2="762.46" stroke="#0a0a0a" stroke-width="1.4" />
<text x="960.3" y="771.36" font-size="19.7" fill="#000" text-anchor="end" >80</text>
<line x1="969.2" y1="718.6" x2="977.2" y2="718.6" stroke="#0a0a0a" stroke-width="1.4" />
<text x="960.3" y="727.5" font-size="19.7" fill="#000" text-anchor="end" >100</text>
<text transform="translate(926,830.2) rotate(-90)" font-size="25.3" text-anchor="middle" fill="#000">Deletion size (%)</text>
<text x="1002.3" y="751.1" font-size="25.9" fill="#231815">Cas12i2<tspan font-size="14.6" font-style="italic" dy="-8.7" dx="2.0">Max</tspan></text>
<line x1="992.4" y1="937.9" x2="992.4" y2="952.3" stroke="#0a0a0a" stroke-width="1.4" />
<text x="992.4" y="976.6" font-size="19.6" fill="#000" text-anchor="middle" >1</text>
<rect x="984.6" y="923.71" width="15.6" height="14.19" fill="#efb8ba" stroke="#222" stroke-width="1.2" />
<line x1="992.4" y1="892.94" x2="992.4" y2="923.71" stroke="#0a0a0a" stroke-width="1.2" />
<line x1="989.8" y1="892.94" x2="995" y2="892.94" stroke="#0a0a0a" stroke-width="1.2" />
<circle cx="997.58" cy="930.66" r="2.5" fill="#000"/>
<circle cx="986.9" cy="937.48" r="2.5" fill="#000"/>
<circle cx="992.8" cy="936.98" r="2.5" fill="#000"/>
<circle cx="987.52" cy="936.31" r="2.5" fill="#000"/>
<circle cx="988.72" cy="934.2" r="2.5" fill="#000"/>
<circle cx="991.81" cy="932.83" r="2.5" fill="#000"/>
<circle cx="995.17" cy="934.13" r="2.5" fill="#000"/>
<circle cx="991.36" cy="934.91" r="2.5" fill="#000"/>
<circle cx="990.54" cy="937.57" r="2.5" fill="#000"/>
<circle cx="986.56" cy="935.33" r="2.5" fill="#000"/>
<circle cx="994.48" cy="934.45" r="2.5" fill="#000"/>
<circle cx="992.4" cy="828.91" r="2.5" fill="#000"/>
<circle cx="992.4" cy="869.92" r="2.5" fill="#000"/>
<circle cx="992.4" cy="919.26" r="2.5" fill="#000"/>
<circle cx="992.4" cy="929.13" r="2.5" fill="#000"/>
<circle cx="987.4" cy="930.88" r="2.5" fill="#000"/>
<line x1="1016.06" y1="937.9" x2="1016.06" y2="952.3" stroke="#0a0a0a" stroke-width="1.4" />
<text x="1016.06" y="976.6" font-size="19.6" fill="#000" text-anchor="middle" >2</text>
<circle cx="1017.66" cy="937.57" r="2.5" fill="#000"/>
<circle cx="1019.49" cy="936.63" r="2.5" fill="#000"/>
<circle cx="1014.33" cy="937.36" r="2.5" fill="#000"/>
<circle cx="1013.61" cy="937.57" r="2.5" fill="#000"/>
<circle cx="1010.59" cy="937.57" r="2.5" fill="#000"/>
<circle cx="1017.26" cy="937.57" r="2.5" fill="#000"/>
<circle cx="1015.37" cy="937.07" r="2.5" fill="#000"/>
<circle cx="1011.82" cy="937.5" r="2.5" fill="#000"/>
<circle cx="1013.73" cy="937.57" r="2.5" fill="#000"/>
<circle cx="1010.97" cy="937.07" r="2.5" fill="#000"/>
<circle cx="1011.06" cy="935.93" r="2.5" fill="#000"/>
<circle cx="1022.06" cy="935.93" r="2.5" fill="#000"/>
<line x1="1039.72" y1="937.9" x2="1039.72" y2="952.3" stroke="#0a0a0a" stroke-width="1.4" />
<text x="1039.72" y="976.6" font-size="19.6" fill="#000" text-anchor="middle" >3</text>
<circle cx="1034.42" cy="937.27" r="2.5" fill="#000"/>
<circle cx="1040.68" cy="936.21" r="2.5" fill="#000"/>
<circle cx="1043.95" cy="936.65" r="2.5" fill="#000"/>
<circle cx="1036.93" cy="937.16" r="2.5" fill="#000"/>
<circle cx="1037.14" cy="936.16" r="2.5" fill="#000"/>
<circle cx="1036.53" cy="936.64" r="2.5" fill="#000"/>
<circle cx="1034.53" cy="937.57" r="2.5" fill="#000"/>
<circle cx="1044.06" cy="936.55" r="2.5" fill="#000"/>
<circle cx="1036.26" cy="937.57" r="2.5" fill="#000"/>
<circle cx="1040.94" cy="937.57" r="2.5" fill="#000"/>
<circle cx="1045.6" cy="937.29" r="2.5" fill="#000"/>
<circle cx="1034.72" cy="935.27" r="2.5" fill="#000"/>
<circle cx="1045.72" cy="935.27" r="2.5" fill="#000"/>
<line x1="1063.38" y1="937.9" x2="1063.38" y2="952.3" stroke="#0a0a0a" stroke-width="1.4" />
<text x="1063.38" y="976.6" font-size="19.6" fill="#000" text-anchor="middle" >4</text>
<circle cx="1057.52" cy="934.67" r="2.5" fill="#000"/>
<circle cx="1062.27" cy="933.95" r="2.5" fill="#000"/>
<circle cx="1065.85" cy="934.17" r="2.5" fill="#000"/>
<circle cx="1069.63" cy="935.85" r="2.5" fill="#000"/>
<circle cx="1063.89" cy="935.24" r="2.5" fill="#000"/>
<circle cx="1069.82" cy="937.57" r="2.5" fill="#000"/>
<circle cx="1069.64" cy="936.15" r="2.5" fill="#000"/>
<circle cx="1061.76" cy="937.16" r="2.5" fill="#000"/>
<circle cx="1062.93" cy="935.99" r="2.5" fill="#000"/>
<circle cx="1059.38" cy="935.74" r="2.5" fill="#000"/>
<circle cx="1059.63" cy="933.95" r="2.5" fill="#000"/>
<circle cx="1058.15" cy="937.24" r="2.5" fill="#000"/>
<circle cx="1058.08" cy="931.1" r="2.5" fill="#000"/>
<circle cx="1069.18" cy="931.76" r="2.5" fill="#000"/>
<line x1="1087.04" y1="937.9" x2="1087.04" y2="952.3" stroke="#0a0a0a" stroke-width="1.4" />
<text x="1087.04" y="976.6" font-size="19.6" fill="#000" text-anchor="middle" >5</text>
<line x1="1087.04" y1="931.32" x2="1087.04" y2="935.93" stroke="#0a0a0a" stroke-width="1.2" />
<line x1="1084.44" y1="931.32" x2="1089.64" y2="931.32" stroke="#0a0a0a" stroke-width="1.2" />
<circle cx="1087.62" cy="936.72" r="2.5" fill="#000"/>
<circle cx="1091.17" cy="936.07" r="2.5" fill="#000"/>
<circle cx="1092.33" cy="935.95" r="2.5" fill="#000"/>
<circle cx="1086.31" cy="934.55" r="2.5" fill="#000"/>
<circle cx="1091.18" cy="937.46" r="2.5" fill="#000"/>
<circle cx="1092.26" cy="933.61" r="2.5" fill="#000"/>
<circle cx="1089.59" cy="936.44" r="2.5" fill="#000"/>
<circle cx="1091.39" cy="937.18" r="2.5" fill="#000"/>
<circle cx="1084.34" cy="936.55" r="2.5" fill="#000"/>
<circle cx="1085.85" cy="936.67" r="2.5" fill="#000"/>
<circle cx="1087.7" cy="935.7" r="2.5" fill="#000"/>
<circle cx="1091.35" cy="937.57" r="2.5" fill="#000"/>
<circle cx="1084.83" cy="934.48" r="2.5" fill="#000"/>
<circle cx="1087.44" cy="920.14" r="2.5" fill="#000"/>
<line x1="1110.7" y1="937.9" x2="1110.7" y2="952.3" stroke="#0a0a0a" stroke-width="1.4" />
<text x="1110.7" y="976.6" font-size="19.6" fill="#000" text-anchor="middle" >6</text>
<rect x="1102.9" y="934.94" width="15.6" height="2.96" fill="#efb8ba" stroke="#222" stroke-width="1.2" />
<line x1="1110.7" y1="931.54" x2="1110.7" y2="934.94" stroke="#0a0a0a" stroke-width="1.2" />
<line x1="1108.1" y1="931.54" x2="1113.3" y2="931.54" stroke="#0a0a0a" stroke-width="1.2" />
<circle cx="1111.48" cy="933.57" r="2.5" fill="#000"/>
<circle cx="1116.66" cy="934.35" r="2.5" fill="#000"/>
<circle cx="1105.14" cy="935.94" r="2.5" fill="#000"/>
<circle cx="1107.2" cy="936.71" r="2.5" fill="#000"/>
<circle cx="1111.5" cy="935.67" r="2.5" fill="#000"/>
<circle cx="1113.58" cy="936.59" r="2.5" fill="#000"/>
<circle cx="1104.15" cy="934.63" r="2.5" fill="#000"/>
<circle cx="1105.97" cy="936.87" r="2.5" fill="#000"/>
<circle cx="1115.55" cy="933.06" r="2.5" fill="#000"/>
<circle cx="1106.39" cy="934.27" r="2.5" fill="#000"/>
<circle cx="1110.03" cy="932.72" r="2.5" fill="#000"/>
<circle cx="1113.33" cy="935.5" r="2.5" fill="#000"/>
<circle cx="1110.44" cy="934.64" r="2.5" fill="#000"/>
<circle cx="1111.3" cy="926.06" r="2.5" fill="#000"/>
<circle cx="1106.2" cy="932.2" r="2.5" fill="#000"/>
<line x1="1134.36" y1="937.9" x2="1134.36" y2="952.3" stroke="#0a0a0a" stroke-width="1.4" />
<text x="1134.36" y="976.6" font-size="19.6" fill="#000" text-anchor="middle" >7</text>
<rect x="1126.56" y="930.44" width="15.6" height="7.46" fill="#efb8ba" stroke="#222" stroke-width="1.2" />
<line x1="1134.36" y1="925.18" x2="1134.36" y2="935.71" stroke="#0a0a0a" stroke-width="1.2" />
<line x1="1131.76" y1="925.18" x2="1136.96" y2="925.18" stroke="#0a0a0a" stroke-width="1.2" />
<line x1="1131.76" y1="935.71" x2="1136.96" y2="935.71" stroke="#0a0a0a" stroke-width="1.2" />
<circle cx="1135.1" cy="931.87" r="2.5" fill="#000"/>
<circle cx="1134.7" cy="933.99" r="2.5" fill="#000"/>
<circle cx="1128.9" cy="932.39" r="2.5" fill="#000"/>
<circle cx="1139.33" cy="924.3" r="2.5" fill="#000"/>
<circle cx="1138.02" cy="928.09" r="2.5" fill="#000"/>
<circle cx="1136.65" cy="933.17" r="2.5" fill="#000"/>
<circle cx="1131.98" cy="932.46" r="2.5" fill="#000"/>
<circle cx="1132.37" cy="932.01" r="2.5" fill="#000"/>
<circle cx="1132.26" cy="932.95" r="2.5" fill="#000"/>
<circle cx="1132.88" cy="924.3" r="2.5" fill="#000"/>
<circle cx="1134.07" cy="935.39" r="2.5" fill="#000"/>
<circle cx="1135.07" cy="927.71" r="2.5" fill="#000"/>
<circle cx="1128.94" cy="930.53" r="2.5" fill="#000"/>
<circle cx="1130.63" cy="927.97" r="2.5" fill="#000"/>
<circle cx="1134.39" cy="930.97" r="2.5" fill="#000"/>
<circle cx="1135.36" cy="918.16" r="2.5" fill="#000"/>
<circle cx="1133.76" cy="921.23" r="2.5" fill="#000"/>
<circle cx="1137.76" cy="924.74" r="2.5" fill="#000"/>
<circle cx="1132.36" cy="924.3" r="2.5" fill="#000"/>
<circle cx="1131.36" cy="926.93" r="2.5" fill="#000"/>
<line x1="1158.02" y1="937.9" x2="1158.02" y2="952.3" stroke="#0a0a0a" stroke-width="1.4" />
<text x="1158.02" y="976.6" font-size="19.6" fill="#000" text-anchor="middle" >8</text>
<rect x="1150.22" y="926.5" width="15.6" height="11.4" fill="#efb8ba" stroke="#222" stroke-width="1.2" />
<line x1="1158.02" y1="919.7" x2="1158.02" y2="933.29" stroke="#0a0a0a" stroke-width="1.2" />
<line x1="1155.42" y1="919.7" x2="1160.62" y2="919.7" stroke="#0a0a0a" stroke-width="1.2" />
<line x1="1155.42" y1="933.29" x2="1160.62" y2="933.29" stroke="#0a0a0a" stroke-width="1.2" />
<circle cx="1152.88" cy="918.81" r="2.5" fill="#000"/>
<circle cx="1158.89" cy="928.45" r="2.5" fill="#000"/>
<circle cx="1157.26" cy="926.03" r="2.5" fill="#000"/>
<circle cx="1162.65" cy="924.57" r="2.5" fill="#000"/>
<circle cx="1154.69" cy="928.87" r="2.5" fill="#000"/>
<circle cx="1151.98" cy="920.93" r="2.5" fill="#000"/>
<circle cx="1162.07" cy="927.11" r="2.5" fill="#000"/>
<circle cx="1153.35" cy="927.1" r="2.5" fill="#000"/>
<circle cx="1162.47" cy="922.8" r="2.5" fill="#000"/>
<circle cx="1156.64" cy="921.05" r="2.5" fill="#000"/>
<circle cx="1160.39" cy="923.02" r="2.5" fill="#000"/>
<circle cx="1163.5" cy="926.92" r="2.5" fill="#000"/>
<circle cx="1160.06" cy="924.96" r="2.5" fill="#000"/>
<circle cx="1163.46" cy="921.28" r="2.5" fill="#000"/>
<circle cx="1153.83" cy="918.6" r="2.5" fill="#000"/>
<circle cx="1153.26" cy="921.11" r="2.5" fill="#000"/>
<circle cx="1158.82" cy="910.93" r="2.5" fill="#000"/>
<circle cx="1158.02" cy="917.51" r="2.5" fill="#000"/>
<circle cx="1155.82" cy="919.48" r="2.5" fill="#000"/>
<circle cx="1160.52" cy="919.04" r="2.5" fill="#000"/>
<line x1="1181.68" y1="937.9" x2="1181.68" y2="952.3" stroke="#0a0a0a" stroke-width="1.4" />
<text x="1181.68" y="976.6" font-size="19.6" fill="#000" text-anchor="middle" >9</text>
<rect x="1173.88" y="911.67" width="15.6" height="26.23" fill="#efb8ba" stroke="#222" stroke-width="1.2" />
<line x1="1181.68" y1="891.19" x2="1181.68" y2="931.76" stroke="#0a0a0a" stroke-width="1.2" />
<line x1="1179.08" y1="891.19" x2="1184.28" y2="891.19" stroke="#0a0a0a" stroke-width="1.2" />
<line x1="1179.08" y1="931.76" x2="1184.28" y2="931.76" stroke="#0a0a0a" stroke-width="1.2" />
<circle cx="1184.74" cy="910.48" r="2.5" fill="#000"/>
<circle cx="1182.6" cy="922.83" r="2.5" fill="#000"/>
<circle cx="1185.25" cy="909.46" r="2.5" fill="#000"/>
<circle cx="1182.89" cy="907.39" r="2.5" fill="#000"/>
<circle cx="1179.39" cy="920.53" r="2.5" fill="#000"/>
<circle cx="1186.39" cy="909.55" r="2.5" fill="#000"/>
<circle cx="1177.8" cy="909.29" r="2.5" fill="#000"/>
<circle cx="1183.26" cy="917.33" r="2.5" fill="#000"/>
<circle cx="1182.12" cy="908.86" r="2.5" fill="#000"/>
<circle cx="1179.86" cy="906.77" r="2.5" fill="#000"/>
<circle cx="1183.68" cy="917.67" r="2.5" fill="#000"/>
<circle cx="1179.2" cy="912.21" r="2.5" fill="#000"/>
<circle cx="1186.78" cy="928.15" r="2.5" fill="#000"/>
<circle cx="1176.79" cy="897.2" r="2.5" fill="#000"/>
<circle cx="1180.1" cy="914.07" r="2.5" fill="#000"/>
<circle cx="1181.68" cy="856.98" r="2.5" fill="#000"/>
<circle cx="1184.68" cy="887.02" r="2.5" fill="#000"/>
<circle cx="1182.68" cy="890.75" r="2.5" fill="#000"/>
<circle cx="1176.68" cy="905.88" r="2.5" fill="#000"/>
<circle cx="1178.68" cy="932.2" r="2.5" fill="#000"/>
<line x1="1205.34" y1="937.9" x2="1205.34" y2="952.3" stroke="#0a0a0a" stroke-width="1.4" />
<text x="1205.34" y="976.6" font-size="19.6" fill="#000" text-anchor="middle" >10</text>
<rect x="1197.54" y="910.27" width="15.6" height="27.63" fill="#efb8ba" stroke="#222" stroke-width="1.2" />
<line x1="1205.34" y1="897.99" x2="1205.34" y2="922.55" stroke="#0a0a0a" stroke-width="1.2" />
<line x1="1202.74" y1="897.99" x2="1207.94" y2="897.99" stroke="#0a0a0a" stroke-width="1.2" />
<line x1="1202.74" y1="922.55" x2="1207.94" y2="922.55" stroke="#0a0a0a" stroke-width="1.2" />
<circle cx="1199.26" cy="908.53" r="2.5" fill="#000"/>
<circle cx="1203.95" cy="921.72" r="2.5" fill="#000"/>
<circle cx="1205.8" cy="911.94" r="2.5" fill="#000"/>
<circle cx="1201.52" cy="920.48" r="2.5" fill="#000"/>
<circle cx="1202.91" cy="912.05" r="2.5" fill="#000"/>
<circle cx="1204.38" cy="909.09" r="2.5" fill="#000"/>
<circle cx="1204.21" cy="906.64" r="2.5" fill="#000"/>
<circle cx="1201.99" cy="917.62" r="2.5" fill="#000"/>
<circle cx="1204.62" cy="913.92" r="2.5" fill="#000"/>
<circle cx="1201.03" cy="901.87" r="2.5" fill="#000"/>
<circle cx="1211.51" cy="906.77" r="2.5" fill="#000"/>
<circle cx="1205.82" cy="917.5" r="2.5" fill="#000"/>
<circle cx="1206.77" cy="914.91" r="2.5" fill="#000"/>
<circle cx="1210.87" cy="914.8" r="2.5" fill="#000"/>
<circle cx="1204.42" cy="901.3" r="2.5" fill="#000"/>
<circle cx="1205.34" cy="883.08" r="2.5" fill="#000"/>
<circle cx="1211.14" cy="895.58" r="2.5" fill="#000"/>
<circle cx="1209.74" cy="900.18" r="2.5" fill="#000"/>
<circle cx="1200.34" cy="924.3" r="2.5" fill="#000"/>
<line x1="1229" y1="937.9" x2="1229" y2="952.3" stroke="#0a0a0a" stroke-width="1.4" />
<text x="1229" y="976.6" font-size="19.6" fill="#000" text-anchor="middle" >11</text>
<rect x="1221.2" y="910.27" width="15.6" height="27.63" fill="#efb8ba" stroke="#222" stroke-width="1.2" />
<line x1="1229" y1="899.3" x2="1229" y2="921.23" stroke="#0a0a0a" stroke-width="1.2" />
<line x1="1226.4" y1="899.3" x2="1231.6" y2="899.3" stroke="#0a0a0a" stroke-width="1.2" />
<line x1="1226.4" y1="921.23" x2="1231.6" y2="921.23" stroke="#0a0a0a" stroke-width="1.2" />
<circle cx="1223.23" cy="911.29" r="2.5" fill="#000"/>
<circle cx="1227.45" cy="907.1" r="2.5" fill="#000"/>
<circle cx="1223.15" cy="915.25" r="2.5" fill="#000"/>
<circle cx="1235.27" cy="904.51" r="2.5" fill="#000"/>
<circle cx="1232.18" cy="909.01" r="2.5" fill="#000"/>
<circle cx="1226" cy="912.52" r="2.5" fill="#000"/>
<circle cx="1224.63" cy="918.77" r="2.5" fill="#000"/>
<circle cx="1230.16" cy="911.99" r="2.5" fill="#000"/>
<circle cx="1229.19" cy="911.56" r="2.5" fill="#000"/>
<circle cx="1223.29" cy="913.17" r="2.5" fill="#000"/>
<circle cx="1228.65" cy="911.06" r="2.5" fill="#000"/>
<circle cx="1226.49" cy="905.09" r="2.5" fill="#000"/>
<circle cx="1230.59" cy="903.55" r="2.5" fill="#000"/>
<circle cx="1229.42" cy="910.26" r="2.5" fill="#000"/>
<circle cx="1225" cy="918.35" r="2.5" fill="#000"/>
<circle cx="1229" cy="887.68" r="2.5" fill="#000"/>
<circle cx="1224.5" cy="901.72" r="2.5" fill="#000"/>
<circle cx="1232.8" cy="899.52" r="2.5" fill="#000"/>
<circle cx="1227.4" cy="929.79" r="2.5" fill="#000"/>
<line x1="1252.66" y1="937.9" x2="1252.66" y2="952.3" stroke="#0a0a0a" stroke-width="1.4" />
<text x="1252.66" y="976.6" font-size="19.6" fill="#000" text-anchor="middle" >12</text>
<rect x="1244.86" y="916.19" width="15.6" height="21.71" fill="#efb8ba" stroke="#222" stroke-width="1.2" />
<line x1="1252.66" y1="900.4" x2="1252.66" y2="931.98" stroke="#0a0a0a" stroke-width="1.2" />
<line x1="1250.06" y1="900.4" x2="1255.26" y2="900.4" stroke="#0a0a0a" stroke-width="1.2" />
<line x1="1250.06" y1="931.98" x2="1255.26" y2="931.98" stroke="#0a0a0a" stroke-width="1.2" />
<circle cx="1249.61" cy="924.52" r="2.5" fill="#000"/>
<circle cx="1249.81" cy="905.66" r="2.5" fill="#000"/>
<circle cx="1256.5" cy="922.8" r="2.5" fill="#000"/>
<circle cx="1249.96" cy="915.91" r="2.5" fill="#000"/>
<circle cx="1256.49" cy="915.1" r="2.5" fill="#000"/>
<circle cx="1253.58" cy="916.45" r="2.5" fill="#000"/>
<circle cx="1255.16" cy="913.72" r="2.5" fill="#000"/>
<circle cx="1258.56" cy="917.95" r="2.5" fill="#000"/>
<circle cx="1258.22" cy="917.47" r="2.5" fill="#000"/>
<circle cx="1258.86" cy="918.42" r="2.5" fill="#000"/>
<circle cx="1247.11" cy="908.62" r="2.5" fill="#000"/>
<circle cx="1247.13" cy="909.86" r="2.5" fill="#000"/>
<circle cx="1258.69" cy="913.83" r="2.5" fill="#000"/>
<circle cx="1254.4" cy="924.25" r="2.5" fill="#000"/>
<circle cx="1253.62" cy="920.37" r="2.5" fill="#000"/>
<circle cx="1251.66" cy="885.71" r="2.5" fill="#000"/>
<circle cx="1253.66" cy="883.08" r="2.5" fill="#000"/>
<circle cx="1252.66" cy="905.22" r="2.5" fill="#000"/>
<circle cx="1252.66" cy="934.61" r="2.5" fill="#000"/>
<line x1="1276.32" y1="937.9" x2="1276.32" y2="952.3" stroke="#0a0a0a" stroke-width="1.4" />
<text x="1276.32" y="976.6" font-size="19.6" fill="#000" text-anchor="middle" >13</text>
<rect x="1268.52" y="922.11" width="15.6" height="15.79" fill="#efb8ba" stroke="#222" stroke-width="1.2" />
<line x1="1276.32" y1="909.39" x2="1276.32" y2="934.83" stroke="#0a0a0a" stroke-width="1.2" />
<line x1="1273.72" y1="909.39" x2="1278.92" y2="909.39" stroke="#0a0a0a" stroke-width="1.2" />
<line x1="1273.72" y1="934.83" x2="1278.92" y2="934.83" stroke="#0a0a0a" stroke-width="1.2" />
<circle cx="1282.82" cy="922.47" r="2.5" fill="#000"/>
<circle cx="1272.33" cy="929.69" r="2.5" fill="#000"/>
<circle cx="1279.42" cy="932.1" r="2.5" fill="#000"/>
<circle cx="1280.55" cy="922.38" r="2.5" fill="#000"/>
<circle cx="1272.04" cy="924.45" r="2.5" fill="#000"/>
<circle cx="1278.47" cy="921.67" r="2.5" fill="#000"/>
<circle cx="1271.6" cy="919.97" r="2.5" fill="#000"/>
<circle cx="1280.41" cy="922.06" r="2.5" fill="#000"/>
<circle cx="1279.74" cy="922.12" r="2.5" fill="#000"/>
<circle cx="1280.25" cy="929.36" r="2.5" fill="#000"/>
<circle cx="1278.12" cy="925.48" r="2.5" fill="#000"/>
<circle cx="1274.39" cy="915.09" r="2.5" fill="#000"/>
<circle cx="1277.43" cy="913.69" r="2.5" fill="#000"/>
<circle cx="1275.19" cy="935.36" r="2.5" fill="#000"/>
<circle cx="1276.32" cy="886.58" r="2.5" fill="#000"/>
<circle cx="1280.32" cy="910.49" r="2.5" fill="#000"/>
<circle cx="1274.32" cy="912.68" r="2.5" fill="#000"/>
<circle cx="1281.32" cy="936.58" r="2.5" fill="#000"/>
<line x1="1299.98" y1="937.9" x2="1299.98" y2="952.3" stroke="#0a0a0a" stroke-width="1.4" />
<text x="1299.98" y="976.6" font-size="19.6" fill="#000" text-anchor="middle" >14</text>
<rect x="1292.18" y="930.99" width="15.6" height="6.91" fill="#efb8ba" stroke="#222" stroke-width="1.2" />
<line x1="1299.98" y1="922.11" x2="1299.98" y2="930.99" stroke="#0a0a0a" stroke-width="1.2" />
<line x1="1297.38" y1="922.11" x2="1302.58" y2="922.11" stroke="#0a0a0a" stroke-width="1.2" />
<circle cx="1304.65" cy="931.51" r="2.5" fill="#000"/>
<circle cx="1302.23" cy="928.62" r="2.5" fill="#000"/>
<circle cx="1301.46" cy="929.65" r="2.5" fill="#000"/>
<circle cx="1304" cy="929.96" r="2.5" fill="#000"/>
<circle cx="1303.88" cy="932.81" r="2.5" fill="#000"/>
<circle cx="1301.08" cy="929.94" r="2.5" fill="#000"/>
<circle cx="1306.26" cy="929.67" r="2.5" fill="#000"/>
<circle cx="1300.07" cy="933.44" r="2.5" fill="#000"/>
<circle cx="1304.07" cy="933.12" r="2.5" fill="#000"/>
<circle cx="1301.21" cy="934.76" r="2.5" fill="#000"/>
<circle cx="1305.68" cy="931.52" r="2.5" fill="#000"/>
<circle cx="1296.89" cy="929.16" r="2.5" fill="#000"/>
<circle cx="1301.3" cy="936.57" r="2.5" fill="#000"/>
<circle cx="1305.94" cy="928.83" r="2.5" fill="#000"/>
<circle cx="1299.98" cy="912.9" r="2.5" fill="#000"/>
<circle cx="1299.98" cy="919.26" r="2.5" fill="#000"/>
<circle cx="1296.98" cy="925.84" r="2.5" fill="#000"/>
<circle cx="1302.98" cy="926.5" r="2.5" fill="#000"/>
<line x1="1323.64" y1="937.9" x2="1323.64" y2="952.3" stroke="#0a0a0a" stroke-width="1.4" />
<text x="1323.64" y="976.6" font-size="19.6" fill="#000" text-anchor="middle" >15</text>
<rect x="1315.84" y="930.44" width="15.6" height="7.46" fill="#efb8ba" stroke="#222" stroke-width="1.2" />
<line x1="1323.64" y1="926.06" x2="1323.64" y2="934.83" stroke="#0a0a0a" stroke-width="1.2" />
<line x1="1321.04" y1="926.06" x2="1326.24" y2="926.06" stroke="#0a0a0a" stroke-width="1.2" />
<line x1="1321.04" y1="934.83" x2="1326.24" y2="934.83" stroke="#0a0a0a" stroke-width="1.2" />
<circle cx="1329.12" cy="934.51" r="2.5" fill="#000"/>
<circle cx="1321.76" cy="928.08" r="2.5" fill="#000"/>
<circle cx="1319.75" cy="928" r="2.5" fill="#000"/>
<circle cx="1327.18" cy="937.57" r="2.5" fill="#000"/>
<circle cx="1318.35" cy="930.48" r="2.5" fill="#000"/>
<circle cx="1328.72" cy="930.4" r="2.5" fill="#000"/>
<circle cx="1323.11" cy="927.71" r="2.5" fill="#000"/>
<circle cx="1320.3" cy="928.5" r="2.5" fill="#000"/>
<circle cx="1317.55" cy="927.41" r="2.5" fill="#000"/>
<circle cx="1327.28" cy="937.57" r="2.5" fill="#000"/>
<circle cx="1326.76" cy="935.25" r="2.5" fill="#000"/>
<circle cx="1325.45" cy="928.34" r="2.5" fill="#000"/>
<circle cx="1327.06" cy="927.45" r="2.5" fill="#000"/>
<circle cx="1329.29" cy="931.34" r="2.5" fill="#000"/>
<circle cx="1329.14" cy="924.08" r="2.5" fill="#000"/>
<circle cx="1317.64" cy="924.74" r="2.5" fill="#000"/>
<circle cx="1323.64" cy="926.06" r="2.5" fill="#000"/>
<line x1="1347.3" y1="937.9" x2="1347.3" y2="952.3" stroke="#0a0a0a" stroke-width="1.4" />
<text x="1347.3" y="976.6" font-size="19.6" fill="#000" text-anchor="middle" >16</text>
<rect x="1339.5" y="932.42" width="15.6" height="5.48" fill="#efb8ba" stroke="#222" stroke-width="1.2" />
<line x1="1347.3" y1="928.69" x2="1347.3" y2="932.42" stroke="#0a0a0a" stroke-width="1.2" />
<line x1="1344.7" y1="928.69" x2="1349.9" y2="928.69" stroke="#0a0a0a" stroke-width="1.2" />
<circle cx="1344.21" cy="932.2" r="2.5" fill="#000"/>
<circle cx="1350.99" cy="932.58" r="2.5" fill="#000"/>
<circle cx="1345.16" cy="934.62" r="2.5" fill="#000"/>
<circle cx="1347.04" cy="930.67" r="2.5" fill="#000"/>
<circle cx="1351.16" cy="931.27" r="2.5" fill="#000"/>
<circle cx="1345.67" cy="934.82" r="2.5" fill="#000"/>
<circle cx="1350.37" cy="930.75" r="2.5" fill="#000"/>
<circle cx="1353.17" cy="930.55" r="2.5" fill="#000"/>
<circle cx="1341.01" cy="928.8" r="2.5" fill="#000"/>
<circle cx="1349.85" cy="930.26" r="2.5" fill="#000"/>
<circle cx="1342.1" cy="935.08" r="2.5" fill="#000"/>
<circle cx="1348.97" cy="932.78" r="2.5" fill="#000"/>
<circle cx="1353.42" cy="935.79" r="2.5" fill="#000"/>
<circle cx="1352.91" cy="929.77" r="2.5" fill="#000"/>
<circle cx="1347.9" cy="922.55" r="2.5" fill="#000"/>
<circle cx="1346.3" cy="927.81" r="2.5" fill="#000"/>
<line x1="1370.96" y1="937.9" x2="1370.96" y2="952.3" stroke="#0a0a0a" stroke-width="1.4" />
<text x="1370.96" y="976.6" font-size="19.6" fill="#000" text-anchor="middle" >17</text>
<rect x="1363.16" y="934.61" width="15.6" height="3.29" fill="#efb8ba" stroke="#222" stroke-width="1.2" />
<circle cx="1366.26" cy="935.22" r="2.5" fill="#000"/>
<circle cx="1371.26" cy="935.09" r="2.5" fill="#000"/>
<circle cx="1376.94" cy="933.07" r="2.5" fill="#000"/>
<circle cx="1372.56" cy="935.81" r="2.5" fill="#000"/>
<circle cx="1376.84" cy="935.99" r="2.5" fill="#000"/>
<circle cx="1372.28" cy="936.36" r="2.5" fill="#000"/>
<circle cx="1369.67" cy="933.35" r="2.5" fill="#000"/>
<circle cx="1364.5" cy="935.01" r="2.5" fill="#000"/>
<circle cx="1368.8" cy="933.97" r="2.5" fill="#000"/>
<circle cx="1370.77" cy="934.78" r="2.5" fill="#000"/>
<circle cx="1368.99" cy="934.1" r="2.5" fill="#000"/>
<circle cx="1373.14" cy="932.56" r="2.5" fill="#000"/>
<circle cx="1375.54" cy="935.64" r="2.5" fill="#000"/>
<circle cx="1365.96" cy="930.01" r="2.5" fill="#000"/>
<circle cx="1376.96" cy="932.2" r="2.5" fill="#000"/>
<line x1="1394.62" y1="937.9" x2="1394.62" y2="952.3" stroke="#0a0a0a" stroke-width="1.4" />
<text x="1394.62" y="976.6" font-size="19.6" fill="#000" text-anchor="middle" >18</text>
<rect x="1386.82" y="935.71" width="15.6" height="2.19" fill="#efb8ba" stroke="#222" stroke-width="1.2" />
<circle cx="1396.07" cy="935.81" r="2.5" fill="#000"/>
<circle cx="1391.02" cy="935.06" r="2.5" fill="#000"/>
<circle cx="1399.72" cy="934.33" r="2.5" fill="#000"/>
<circle cx="1391.26" cy="935.84" r="2.5" fill="#000"/>
<circle cx="1397.17" cy="934.17" r="2.5" fill="#000"/>
<circle cx="1391.4" cy="934.68" r="2.5" fill="#000"/>
<circle cx="1397.09" cy="933.08" r="2.5" fill="#000"/>
<circle cx="1400.97" cy="937.28" r="2.5" fill="#000"/>
<circle cx="1397.66" cy="934.97" r="2.5" fill="#000"/>
<circle cx="1397.87" cy="935.79" r="2.5" fill="#000"/>
<circle cx="1395.19" cy="935.84" r="2.5" fill="#000"/>
<circle cx="1395.78" cy="936.9" r="2.5" fill="#000"/>
<circle cx="1392.97" cy="935.46" r="2.5" fill="#000"/>
<circle cx="1394.62" cy="929.35" r="2.5" fill="#000"/>
<circle cx="1389.62" cy="930.88" r="2.5" fill="#000"/>
<line x1="1418.28" y1="937.9" x2="1418.28" y2="952.3" stroke="#0a0a0a" stroke-width="1.4" />
<text x="1418.28" y="976.6" font-size="19.6" fill="#000" text-anchor="middle" >19</text>
<rect x="1410.48" y="935.71" width="15.6" height="2.19" fill="#efb8ba" stroke="#222" stroke-width="1.2" />
<circle cx="1415.84" cy="936.02" r="2.5" fill="#000"/>
<circle cx="1412.49" cy="935.55" r="2.5" fill="#000"/>
<circle cx="1413.2" cy="936.29" r="2.5" fill="#000"/>
<circle cx="1423.11" cy="934.75" r="2.5" fill="#000"/>
<circle cx="1416.37" cy="934.85" r="2.5" fill="#000"/>
<circle cx="1416.07" cy="934.26" r="2.5" fill="#000"/>
<circle cx="1419.22" cy="934.64" r="2.5" fill="#000"/>
<circle cx="1421.36" cy="935.73" r="2.5" fill="#000"/>
<circle cx="1419.86" cy="937.04" r="2.5" fill="#000"/>
<circle cx="1423.58" cy="934.49" r="2.5" fill="#000"/>
<circle cx="1421.53" cy="937.35" r="2.5" fill="#000"/>
<circle cx="1421.87" cy="935.99" r="2.5" fill="#000"/>
<circle cx="1422.04" cy="934.31" r="2.5" fill="#000"/>
<circle cx="1418.28" cy="930.44" r="2.5" fill="#000"/>
<circle cx="1413.28" cy="932.2" r="2.5" fill="#000"/>
<line x1="1441.94" y1="937.9" x2="1441.94" y2="952.3" stroke="#0a0a0a" stroke-width="1.4" />
<text x="1441.94" y="976.6" font-size="19.6" fill="#000" text-anchor="middle" >20</text>
<circle cx="1446.22" cy="936.35" r="2.5" fill="#000"/>
<circle cx="1442.48" cy="937.57" r="2.5" fill="#000"/>
<circle cx="1441.64" cy="936.31" r="2.5" fill="#000"/>
<circle cx="1444.93" cy="936.35" r="2.5" fill="#000"/>
<circle cx="1441.14" cy="934.69" r="2.5" fill="#000"/>
<circle cx="1438.37" cy="937.03" r="2.5" fill="#000"/>
<circle cx="1437.87" cy="935.18" r="2.5" fill="#000"/>
<circle cx="1435.84" cy="936.99" r="2.5" fill="#000"/>
<circle cx="1436.78" cy="935.32" r="2.5" fill="#000"/>
<circle cx="1448.41" cy="936.94" r="2.5" fill="#000"/>
<circle cx="1445.98" cy="937.41" r="2.5" fill="#000"/>
<circle cx="1438.72" cy="936.92" r="2.5" fill="#000"/>
<circle cx="1436.94" cy="934.39" r="2.5" fill="#000"/>
<circle cx="1447.94" cy="934.83" r="2.5" fill="#000"/>
<line x1="1465.6" y1="937.9" x2="1465.6" y2="952.3" stroke="#0a0a0a" stroke-width="1.4" />
<text x="1463.2" y="976.6" font-size="19.6" fill="#000" text-anchor="middle" >&gt;21</text>
<rect x="1457.8" y="930.01" width="15.6" height="7.89" fill="#efb8ba" stroke="#222" stroke-width="1.2" />
<line x1="1465.6" y1="926.5" x2="1465.6" y2="930.01" stroke="#0a0a0a" stroke-width="1.2" />
<line x1="1463" y1="926.5" x2="1468.2" y2="926.5" stroke="#0a0a0a" stroke-width="1.2" />
<circle cx="1467.08" cy="931.34" r="2.5" fill="#000"/>
<circle cx="1464.74" cy="930.19" r="2.5" fill="#000"/>
<circle cx="1461.71" cy="929.73" r="2.5" fill="#000"/>
<circle cx="1464.11" cy="931.06" r="2.5" fill="#000"/>
<circle cx="1471.71" cy="927.76" r="2.5" fill="#000"/>
<circle cx="1470.43" cy="929.98" r="2.5" fill="#000"/>
<circle cx="1461.97" cy="928.24" r="2.5" fill="#000"/>
<circle cx="1462.16" cy="926.26" r="2.5" fill="#000"/>
<circle cx="1461.66" cy="931.19" r="2.5" fill="#000"/>
<circle cx="1460.13" cy="931.4" r="2.5" fill="#000"/>
<circle cx="1471.04" cy="929.37" r="2.5" fill="#000"/>
<circle cx="1459.55" cy="928.72" r="2.5" fill="#000"/>
<circle cx="1468.51" cy="931.47" r="2.5" fill="#000"/>
<circle cx="1466.9" cy="920.14" r="2.5" fill="#000"/>
<circle cx="1464.6" cy="921.67" r="2.5" fill="#000"/>
<circle cx="1465.6" cy="924.96" r="2.5" fill="#000"/>
<circle cx="1464.1" cy="927.37" r="2.5" fill="#000"/>
</g>
</svg>
</body></html>
